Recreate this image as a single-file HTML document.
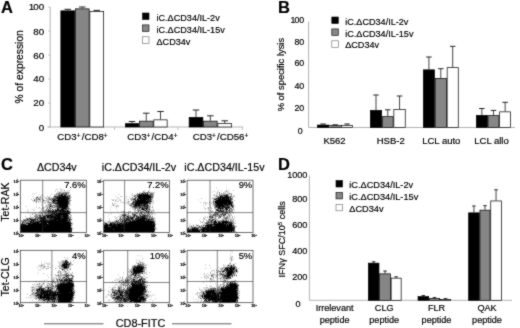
<!DOCTYPE html>
<html><head><meta charset="utf-8"><title>Figure</title>
<style>
html,body{margin:0;padding:0;background:#fff;}
body{width:520px;height:328px;overflow:hidden;font-family:"Liberation Sans",sans-serif;}
svg{display:block;will-change:transform;}
svg text{font-family:"Liberation Sans",sans-serif;fill:#000;stroke:#000;stroke-width:0.18px;}
</style></head><body>
<svg width="520" height="328" viewBox="0 0 520 328">
<defs><filter id="soft" x="-6" y="-6" width="532" height="340" filterUnits="userSpaceOnUse" color-interpolation-filters="sRGB"><feConvolveMatrix order="3" kernelMatrix="0.5 1 0.5 1 8 1 0.5 1 0.5" divisor="14" edgeMode="duplicate" preserveAlpha="true"/></filter></defs>
<rect width="520" height="328" fill="#fff"/>
<g filter="url(#soft)">
<rect x="-6" y="-6" width="532" height="340" fill="#fff"/>
<text x="1.0" y="12.7" font-size="16.5" text-anchor="start" font-weight="bold" >A</text>
<line x1="50.2" y1="7" x2="50.2" y2="127" stroke="#b4b4b4" stroke-width="1"/>
<line x1="47.5" y1="127" x2="243" y2="127" stroke="#b4b4b4" stroke-width="1"/>
<text x="44.2" y="10.4" font-size="9.8" text-anchor="end" font-weight="normal" ><tspan letter-spacing="-0.9">1</tspan>00</text>
<line x1="48.2" y1="7.099999999999994" x2="50.2" y2="7.099999999999994" stroke="#b4b4b4" stroke-width="0.8"/>
<text x="44.2" y="34.7" font-size="9.8" text-anchor="end" font-weight="normal" >80</text>
<line x1="48.2" y1="31.099999999999994" x2="50.2" y2="31.099999999999994" stroke="#b4b4b4" stroke-width="0.8"/>
<text x="44.2" y="58.7" font-size="9.8" text-anchor="end" font-weight="normal" >60</text>
<line x1="48.2" y1="55.099999999999994" x2="50.2" y2="55.099999999999994" stroke="#b4b4b4" stroke-width="0.8"/>
<text x="44.2" y="82.4" font-size="9.8" text-anchor="end" font-weight="normal" >40</text>
<line x1="48.2" y1="79.1" x2="50.2" y2="79.1" stroke="#b4b4b4" stroke-width="0.8"/>
<text x="44.2" y="106.3" font-size="9.8" text-anchor="end" font-weight="normal" >20</text>
<line x1="48.2" y1="103.1" x2="50.2" y2="103.1" stroke="#b4b4b4" stroke-width="0.8"/>
<text x="44.2" y="130.6" font-size="9.8" text-anchor="end" font-weight="normal" >0</text>
<line x1="48.2" y1="127.1" x2="50.2" y2="127.1" stroke="#b4b4b4" stroke-width="0.8"/>
<line x1="114.5" y1="127" x2="114.5" y2="130" stroke="#b4b4b4" stroke-width="0.8"/>
<line x1="178" y1="127" x2="178" y2="130" stroke="#b4b4b4" stroke-width="0.8"/>
<line x1="242.5" y1="127" x2="242.5" y2="130" stroke="#b4b4b4" stroke-width="0.8"/>
<text transform="translate(22.6,66.8) rotate(-90)" font-size="10.3" text-anchor="middle" >% of expression</text>
<line x1="67.75" y1="9.3" x2="67.75" y2="10.5" stroke="#222" stroke-width="0.85"/>
<line x1="64.5" y1="9.3" x2="71.0" y2="9.3" stroke="#222" stroke-width="1.0"/>
<rect x="60.85" y="10.85" width="13.80" height="116.15" fill="#000" stroke="#000" stroke-width="0.7"/>
<line x1="82.25" y1="7" x2="82.25" y2="8.5" stroke="#222" stroke-width="0.85"/>
<line x1="79.0" y1="7" x2="85.5" y2="7" stroke="#222" stroke-width="1.0"/>
<rect x="75.35" y="8.85" width="13.80" height="118.15" fill="#868686" stroke="#000" stroke-width="0.7"/>
<line x1="96.75" y1="10.4" x2="96.75" y2="11" stroke="#222" stroke-width="0.85"/>
<line x1="93.5" y1="10.4" x2="100.0" y2="10.4" stroke="#222" stroke-width="1.0"/>
<rect x="89.85" y="11.35" width="13.80" height="115.65" fill="#fff" stroke="#000" stroke-width="0.7"/>
<line x1="132.0" y1="121.5" x2="132.0" y2="123.3" stroke="#222" stroke-width="0.85"/>
<line x1="128.75" y1="121.5" x2="135.25" y2="121.5" stroke="#222" stroke-width="1.0"/>
<rect x="125.35" y="123.65" width="13.30" height="3.35" fill="#000" stroke="#000" stroke-width="0.7"/>
<line x1="146.25" y1="113.2" x2="146.25" y2="120.8" stroke="#222" stroke-width="0.85"/>
<line x1="143.0" y1="113.2" x2="149.5" y2="113.2" stroke="#222" stroke-width="1.0"/>
<rect x="139.35" y="121.15" width="13.80" height="5.85" fill="#868686" stroke="#000" stroke-width="0.7"/>
<line x1="160.5" y1="111.5" x2="160.5" y2="119.5" stroke="#222" stroke-width="0.85"/>
<line x1="157.25" y1="111.5" x2="163.75" y2="111.5" stroke="#222" stroke-width="1.0"/>
<rect x="153.85" y="119.85" width="13.30" height="7.15" fill="#fff" stroke="#000" stroke-width="0.7"/>
<line x1="196.0" y1="110" x2="196.0" y2="117" stroke="#222" stroke-width="0.85"/>
<line x1="192.75" y1="110" x2="199.25" y2="110" stroke="#222" stroke-width="1.0"/>
<rect x="189.15" y="117.35" width="13.70" height="9.65" fill="#000" stroke="#000" stroke-width="0.7"/>
<line x1="210.35" y1="115.8" x2="210.35" y2="120.8" stroke="#222" stroke-width="0.85"/>
<line x1="207.1" y1="115.8" x2="213.6" y2="115.8" stroke="#222" stroke-width="1.0"/>
<rect x="203.55" y="121.15" width="13.60" height="5.85" fill="#868686" stroke="#000" stroke-width="0.7"/>
<line x1="224.75" y1="120.8" x2="224.75" y2="123.3" stroke="#222" stroke-width="0.85"/>
<line x1="221.5" y1="120.8" x2="228.0" y2="120.8" stroke="#222" stroke-width="1.0"/>
<rect x="217.85" y="123.65" width="13.80" height="3.35" fill="#fff" stroke="#000" stroke-width="0.7"/>
<text x="82.5" y="140.3" font-size="9.7" text-anchor="middle">CD3<tspan font-size="6.5" dy="-2.8">+</tspan><tspan dy="2.8" dx="1.2">/CD8</tspan><tspan font-size="6.5" dy="-2.8">+</tspan></text>
<text x="152.3" y="140.3" font-size="9.7" text-anchor="middle">CD3<tspan font-size="6.5" dy="-2.8">+</tspan><tspan dy="2.8" dx="1.2">/CD4</tspan><tspan font-size="6.5" dy="-2.8">+</tspan></text>
<text x="220.5" y="140.3" font-size="9.7" text-anchor="middle">CD3<tspan font-size="6.5" dy="-2.8">+</tspan><tspan dy="2.8" dx="1.2">/CD56</tspan><tspan font-size="6.5" dy="-2.8">+</tspan></text>
<rect x="142.5" y="13.0" width="6.5" height="6.5" fill="#000" stroke="#000" stroke-width="0.6"/>
<text x="156.5" y="20.9" font-size="9.1" text-anchor="start" font-weight="normal" >iC.ΔCD34/IL-2v</text>
<rect x="142.5" y="24.9" width="6.5" height="6.5" fill="#868686" stroke="#000" stroke-width="0.6"/>
<text x="156.5" y="32.8" font-size="9.1" text-anchor="start" font-weight="normal" >iC.ΔCD34/IL-15v</text>
<rect x="142.5" y="36.8" width="6.5" height="6.5" fill="#fff" stroke="#666" stroke-width="0.6"/>
<text x="156.5" y="44.699999999999996" font-size="9.1" text-anchor="start" font-weight="normal" >ΔCD34v</text>
<text x="278.0" y="12.9" font-size="16.5" text-anchor="start" font-weight="bold" >B</text>
<line x1="308.6" y1="21.5" x2="308.6" y2="127.5" stroke="#909090" stroke-width="0.7"/>
<line x1="308.6" y1="127.5" x2="515" y2="127.5" stroke="#909090" stroke-width="0.7"/>
<text x="304.3" y="23.3" font-size="8.9" text-anchor="end" font-weight="normal" ><tspan letter-spacing="-0.9">1</tspan>00</text>
<text x="304.3" y="44.5" font-size="8.9" text-anchor="end" font-weight="normal" >80</text>
<text x="304.3" y="66.4" font-size="8.9" text-anchor="end" font-weight="normal" >60</text>
<text x="304.3" y="88.7" font-size="8.9" text-anchor="end" font-weight="normal" >40</text>
<text x="304.3" y="111.10000000000001" font-size="8.9" text-anchor="end" font-weight="normal" >20</text>
<text x="302.8" y="134.2" font-size="8.9" text-anchor="end" font-weight="normal" >0</text>
<text transform="translate(284.1,74.6) rotate(-90)" font-size="9.4" text-anchor="middle" >% of specific lysis</text>
<line x1="323.1" y1="124.0" x2="323.1" y2="124.7" stroke="#222" stroke-width="0.85"/>
<line x1="320.35" y1="124.0" x2="325.85" y2="124.0" stroke="#222" stroke-width="1.0"/>
<rect x="317.35" y="125.05" width="11.50" height="2.45" fill="#000" stroke="#000" stroke-width="0.7"/>
<line x1="335.2" y1="124.8" x2="335.2" y2="125.3" stroke="#222" stroke-width="0.85"/>
<line x1="332.45" y1="124.8" x2="337.95" y2="124.8" stroke="#222" stroke-width="1.0"/>
<rect x="329.55" y="125.65" width="11.30" height="1.85" fill="#868686" stroke="#000" stroke-width="0.7"/>
<line x1="347.1" y1="124.0" x2="347.1" y2="125.0" stroke="#222" stroke-width="0.85"/>
<line x1="344.35" y1="124.0" x2="349.85" y2="124.0" stroke="#222" stroke-width="1.0"/>
<rect x="341.55" y="125.35" width="11.10" height="2.15" fill="#fff" stroke="#000" stroke-width="0.7"/>
<line x1="376.0" y1="95" x2="376.0" y2="110" stroke="#222" stroke-width="0.85"/>
<line x1="373.25" y1="95" x2="378.75" y2="95" stroke="#222" stroke-width="1.0"/>
<rect x="370.35" y="110.35" width="11.30" height="17.15" fill="#000" stroke="#000" stroke-width="0.7"/>
<line x1="387.75" y1="109.8" x2="387.75" y2="116.3" stroke="#222" stroke-width="0.85"/>
<line x1="385.0" y1="109.8" x2="390.5" y2="109.8" stroke="#222" stroke-width="1.0"/>
<rect x="382.35" y="116.65" width="10.80" height="10.85" fill="#868686" stroke="#000" stroke-width="0.7"/>
<line x1="399.55" y1="96" x2="399.55" y2="109" stroke="#222" stroke-width="0.85"/>
<line x1="396.8" y1="96" x2="402.3" y2="96" stroke="#222" stroke-width="1.0"/>
<rect x="393.85" y="109.35" width="11.40" height="18.15" fill="#fff" stroke="#000" stroke-width="0.7"/>
<line x1="428.9" y1="57" x2="428.9" y2="69.5" stroke="#222" stroke-width="0.85"/>
<line x1="426.15" y1="57" x2="431.65" y2="57" stroke="#222" stroke-width="1.0"/>
<rect x="423.35" y="69.85" width="11.10" height="57.65" fill="#000" stroke="#000" stroke-width="0.7"/>
<line x1="440.8" y1="68.7" x2="440.8" y2="78" stroke="#222" stroke-width="0.85"/>
<line x1="438.05" y1="68.7" x2="443.55" y2="68.7" stroke="#222" stroke-width="1.0"/>
<rect x="435.15" y="78.35" width="11.30" height="49.15" fill="#868686" stroke="#000" stroke-width="0.7"/>
<line x1="452.70000000000005" y1="46.3" x2="452.70000000000005" y2="67.3" stroke="#222" stroke-width="0.85"/>
<line x1="449.95000000000005" y1="46.3" x2="455.45000000000005" y2="46.3" stroke="#222" stroke-width="1.0"/>
<rect x="447.15" y="67.65" width="11.10" height="59.85" fill="#fff" stroke="#000" stroke-width="0.7"/>
<line x1="481.85" y1="108.5" x2="481.85" y2="115" stroke="#222" stroke-width="0.85"/>
<line x1="479.1" y1="108.5" x2="484.6" y2="108.5" stroke="#222" stroke-width="1.0"/>
<rect x="476.35" y="115.35" width="11.00" height="12.15" fill="#000" stroke="#000" stroke-width="0.7"/>
<line x1="493.5" y1="110.4" x2="493.5" y2="115.3" stroke="#222" stroke-width="0.85"/>
<line x1="490.75" y1="110.4" x2="496.25" y2="110.4" stroke="#222" stroke-width="1.0"/>
<rect x="488.05" y="115.65" width="10.90" height="11.85" fill="#868686" stroke="#000" stroke-width="0.7"/>
<line x1="505.15" y1="102.3" x2="505.15" y2="111.5" stroke="#222" stroke-width="0.85"/>
<line x1="502.4" y1="102.3" x2="507.9" y2="102.3" stroke="#222" stroke-width="1.0"/>
<rect x="499.65" y="111.85" width="11.00" height="15.65" fill="#fff" stroke="#000" stroke-width="0.7"/>
<text x="334.5" y="143.9" font-size="9.5" text-anchor="middle" font-weight="normal" >K562</text>
<text x="390.7" y="143.9" font-size="9.5" text-anchor="middle" font-weight="normal" >HSB-2</text>
<text x="441.3" y="143.9" font-size="9.5" text-anchor="middle" font-weight="normal" >LCL auto</text>
<text x="491.5" y="143.9" font-size="9.5" text-anchor="middle" font-weight="normal" >LCL allo</text>
<rect x="331.8" y="17.0" width="6.5" height="6.5" fill="#000" stroke="#000" stroke-width="0.6"/>
<text x="345.2" y="24.6" font-size="9.1" text-anchor="start" font-weight="normal" >iC.ΔCD34/IL-2v</text>
<rect x="331.8" y="28.9" width="6.5" height="6.5" fill="#868686" stroke="#000" stroke-width="0.6"/>
<text x="345.2" y="36.5" font-size="9.1" text-anchor="start" font-weight="normal" >iC.ΔCD34/IL-15v</text>
<rect x="331.8" y="40.8" width="6.5" height="6.5" fill="#fff" stroke="#666" stroke-width="0.6"/>
<text x="345.2" y="48.4" font-size="9.1" text-anchor="start" font-weight="normal" >ΔCD34v</text>
<text x="278.0" y="170.4" font-size="16.5" text-anchor="start" font-weight="bold" >D</text>
<line x1="309.4" y1="175.3" x2="309.4" y2="300.3" stroke="#808080" stroke-width="0.6"/>
<line x1="309.4" y1="300.3" x2="512" y2="300.3" stroke="#808080" stroke-width="0.6"/>
<text x="307.4" y="178.1" font-size="9.1" text-anchor="end" font-weight="normal" >1000</text>
<text x="307.4" y="202.4" font-size="9.1" text-anchor="end" font-weight="normal" >800</text>
<text x="307.4" y="228.1" font-size="9.1" text-anchor="end" font-weight="normal" >600</text>
<text x="307.4" y="253.6" font-size="9.1" text-anchor="end" font-weight="normal" >400</text>
<text x="307.4" y="279.6" font-size="9.1" text-anchor="end" font-weight="normal" >200</text>
<text x="300.6" y="306.6" font-size="9.1" text-anchor="end" font-weight="normal" >0</text>
<text transform="translate(285.3,239.3) rotate(-90)" font-size="9.05" text-anchor="middle">IFNγ SFC/10<tspan font-size="6" dy="-3">5</tspan><tspan dy="3"> cells</tspan></text>
<line x1="373.65" y1="261.8" x2="373.65" y2="262.8" stroke="#222" stroke-width="0.85"/>
<line x1="371.9" y1="261.8" x2="375.4" y2="261.8" stroke="#222" stroke-width="1.0"/>
<rect x="368.35" y="263.15" width="10.60" height="37.15" fill="#000" stroke="#000" stroke-width="0.7"/>
<line x1="385.05" y1="271" x2="385.05" y2="273.5" stroke="#222" stroke-width="0.85"/>
<line x1="383.3" y1="271" x2="386.8" y2="271" stroke="#222" stroke-width="1.0"/>
<rect x="379.65" y="273.85" width="10.80" height="26.45" fill="#868686" stroke="#000" stroke-width="0.7"/>
<line x1="396.15" y1="276.8" x2="396.15" y2="277.8" stroke="#222" stroke-width="0.85"/>
<line x1="394.4" y1="276.8" x2="397.9" y2="276.8" stroke="#222" stroke-width="1.0"/>
<rect x="391.15" y="278.15" width="10.00" height="22.15" fill="#fff" stroke="#000" stroke-width="0.7"/>
<line x1="423.35" y1="295.6" x2="423.35" y2="296.3" stroke="#222" stroke-width="0.85"/>
<line x1="421.6" y1="295.6" x2="425.1" y2="295.6" stroke="#222" stroke-width="1.0"/>
<rect x="418.05" y="296.65" width="10.60" height="3.65" fill="#000" stroke="#000" stroke-width="0.7"/>
<line x1="434.5" y1="297.6" x2="434.5" y2="298.2" stroke="#222" stroke-width="0.85"/>
<line x1="432.75" y1="297.6" x2="436.25" y2="297.6" stroke="#222" stroke-width="1.0"/>
<rect x="429.35" y="298.55" width="10.30" height="1.75" fill="#868686" stroke="#000" stroke-width="0.7"/>
<line x1="445.5" y1="298.6" x2="445.5" y2="299" stroke="#222" stroke-width="0.85"/>
<line x1="443.75" y1="298.6" x2="447.25" y2="298.6" stroke="#222" stroke-width="1.0"/>
<rect x="440.35" y="299.35" width="10.30" height="0.95" fill="#fff" stroke="#000" stroke-width="0.7"/>
<line x1="473.95000000000005" y1="206" x2="473.95000000000005" y2="212.5" stroke="#222" stroke-width="0.85"/>
<line x1="472.20000000000005" y1="206" x2="475.70000000000005" y2="206" stroke="#222" stroke-width="1.0"/>
<rect x="468.65" y="212.85" width="10.60" height="87.45" fill="#000" stroke="#000" stroke-width="0.7"/>
<line x1="485.0" y1="205.7" x2="485.0" y2="209.8" stroke="#222" stroke-width="0.85"/>
<line x1="483.25" y1="205.7" x2="486.75" y2="205.7" stroke="#222" stroke-width="1.0"/>
<rect x="479.95" y="210.15" width="10.10" height="90.15" fill="#868686" stroke="#000" stroke-width="0.7"/>
<line x1="496.04999999999995" y1="189.8" x2="496.04999999999995" y2="200.6" stroke="#222" stroke-width="0.85"/>
<line x1="494.29999999999995" y1="189.8" x2="497.79999999999995" y2="189.8" stroke="#222" stroke-width="1.0"/>
<rect x="490.75" y="200.95" width="10.60" height="99.35" fill="#fff" stroke="#000" stroke-width="0.7"/>
<text x="334.6" y="311.3" font-size="9.1" text-anchor="middle" font-weight="normal" >Irrelevant</text>
<text x="334.6" y="323" font-size="9.1" text-anchor="middle" font-weight="normal" >peptide</text>
<text x="384.2" y="311.3" font-size="9.1" text-anchor="middle" font-weight="normal" >CLG</text>
<text x="384.2" y="323" font-size="9.1" text-anchor="middle" font-weight="normal" >peptide</text>
<text x="436.5" y="311.3" font-size="9.1" text-anchor="middle" font-weight="normal" >FLR</text>
<text x="436.5" y="323" font-size="9.1" text-anchor="middle" font-weight="normal" >peptide</text>
<text x="487" y="311.3" font-size="9.1" text-anchor="middle" font-weight="normal" >QAK</text>
<text x="487" y="323" font-size="9.1" text-anchor="middle" font-weight="normal" >peptide</text>
<rect x="336" y="180.5" width="6.5" height="6.5" fill="#000" stroke="#000" stroke-width="0.6"/>
<text x="349.3" y="188.1" font-size="9.2" text-anchor="start" font-weight="normal" >iC.ΔCD34/IL-2v</text>
<rect x="336" y="192.4" width="6.5" height="6.5" fill="#868686" stroke="#000" stroke-width="0.6"/>
<text x="349.3" y="200.0" font-size="9.2" text-anchor="start" font-weight="normal" >iC.ΔCD34/IL-15v</text>
<rect x="336" y="204.3" width="6.5" height="6.5" fill="#fff" stroke="#666" stroke-width="0.6"/>
<text x="349.3" y="211.9" font-size="9.2" text-anchor="start" font-weight="normal" >ΔCD34v</text>
<text x="0.9" y="170.2" font-size="16.5" text-anchor="start" font-weight="bold" >C</text>
<text x="56.8" y="171.3" font-size="10.7" text-anchor="middle" font-weight="normal" >ΔCD34v</text>
<text x="101.8" y="171.3" font-size="10.7" text-anchor="start" font-weight="normal" >iC.ΔCD34/IL-2v</text>
<text x="184.3" y="171.3" font-size="10.7" text-anchor="start" font-weight="normal" >iC.ΔCD34/IL-15v</text>
<text transform="translate(9.2,202.1) rotate(-90)" font-size="10.5" text-anchor="middle" >Tet-RAK</text>
<text transform="translate(9.2,276.9) rotate(-90)" font-size="10.5" text-anchor="middle" >Tet-CLG</text>
<text x="140.5" y="327.3" font-size="10.9" text-anchor="middle" font-weight="normal" >CD8-FITC</text>
<line x1="44" y1="323.8" x2="103.5" y2="323.8" stroke="#333" stroke-width="0.8"/>
<line x1="172" y1="323.8" x2="231.5" y2="323.8" stroke="#333" stroke-width="0.8"/>
<path d="M59.8 188.2h0.5v0.5h-0.5zM55.8 189.2h0.5v0.5h-0.5zM57.3 189.2h0.5v0.5h-0.5zM61.3 189.2h0.5v0.5h-0.5zM60.3 189.7h0.5v0.5h-0.5zM62.8 189.7h0.5v0.5h-0.5zM64.3 190.2h0.5v0.5h-0.5zM68.8 190.2h0.5v0.5h-0.5zM60.8 190.7h0.5v0.5h-0.5zM61.8 190.7h0.5v0.5h-0.5zM64.3 190.7h0.5v0.5h-0.5zM66.8 190.7h0.5v0.5h-0.5zM69.3 190.7h0.5v0.5h-0.5zM55.3 191.2h0.5v0.5h-0.5zM57.8 191.2h0.5v0.5h-0.5zM57.8 191.7h0.5v0.5h-0.5zM60.3 191.7h0.5v0.5h-0.5zM62.8 191.7h0.5v0.5h-0.5zM65.3 191.7h0.5v0.5h-0.5zM67.3 191.7h0.5v0.5h-0.5zM59.3 192.2h1.0v0.5h-1.0zM61.3 192.2h0.5v0.5h-0.5zM63.3 192.2h0.5v0.5h-0.5zM64.3 192.2h1.0v0.5h-1.0zM66.3 192.2h0.5v0.5h-0.5zM67.8 192.2h0.5v0.5h-0.5zM68.8 192.2h0.5v0.5h-0.5zM35.8 192.7h0.5v0.5h-0.5zM57.3 192.7h0.5v0.5h-0.5zM58.3 192.7h0.5v0.5h-0.5zM59.3 192.7h1.0v0.5h-1.0zM62.3 192.7h1.0v0.5h-1.0zM64.8 192.7h1.0v0.5h-1.0zM66.3 192.7h1.0v0.5h-1.0zM68.3 192.7h1.0v0.5h-1.0zM56.3 193.2h0.5v0.5h-0.5zM59.3 193.2h0.5v0.5h-0.5zM60.8 193.2h0.5v0.5h-0.5zM61.8 193.2h0.5v0.5h-0.5zM62.8 193.2h0.5v0.5h-0.5zM63.8 193.2h0.5v0.5h-0.5zM65.8 193.2h1.0v0.5h-1.0zM67.3 193.2h0.5v0.5h-0.5zM32.3 193.7h0.5v0.5h-0.5zM33.8 193.7h0.5v0.5h-0.5zM51.3 193.7h0.5v0.5h-0.5zM56.3 193.7h1.0v0.5h-1.0zM57.8 193.7h2.0v0.5h-2.0zM60.3 193.7h6.5v0.5h-6.5zM67.3 193.7h1.5v0.5h-1.5zM42.3 194.2h0.5v0.5h-0.5zM54.8 194.2h0.5v0.5h-0.5zM56.3 194.2h0.5v0.5h-0.5zM57.8 194.2h0.5v0.5h-0.5zM58.8 194.2h0.5v0.5h-0.5zM60.8 194.2h1.0v0.5h-1.0zM62.3 194.2h0.5v0.5h-0.5zM63.3 194.2h2.0v0.5h-2.0zM65.8 194.2h1.0v0.5h-1.0zM53.8 194.7h0.5v0.5h-0.5zM55.3 194.7h0.5v0.5h-0.5zM57.8 194.7h1.0v0.5h-1.0zM59.3 194.7h0.5v0.5h-0.5zM60.3 194.7h2.5v0.5h-2.5zM65.3 194.7h1.0v0.5h-1.0zM69.3 194.7h0.5v0.5h-0.5zM70.3 194.7h0.5v0.5h-0.5zM40.8 195.2h0.5v0.5h-0.5zM55.8 195.2h0.5v0.5h-0.5zM57.8 195.2h0.5v0.5h-0.5zM58.8 195.2h4.5v0.5h-4.5zM63.8 195.2h3.0v0.5h-3.0zM67.8 195.2h1.0v0.5h-1.0zM69.3 195.2h1.0v0.5h-1.0zM42.8 195.7h0.5v0.5h-0.5zM49.8 195.7h0.5v0.5h-0.5zM54.3 195.7h0.5v0.5h-0.5zM55.3 195.7h0.5v0.5h-0.5zM56.3 195.7h0.5v0.5h-0.5zM57.3 195.7h1.0v0.5h-1.0zM58.8 195.7h1.5v0.5h-1.5zM60.8 195.7h5.5v0.5h-5.5zM66.8 195.7h2.0v0.5h-2.0zM69.3 195.7h0.5v0.5h-0.5zM32.8 196.2h0.5v0.5h-0.5zM40.8 196.2h0.5v0.5h-0.5zM47.3 196.2h0.5v0.5h-0.5zM53.8 196.2h4.0v0.5h-4.0zM58.3 196.2h8.0v0.5h-8.0zM66.8 196.2h1.0v0.5h-1.0zM68.3 196.2h0.5v0.5h-0.5zM69.3 196.2h1.0v0.5h-1.0zM37.3 196.7h1.0v0.5h-1.0zM39.8 196.7h0.5v0.5h-0.5zM49.3 196.7h0.5v0.5h-0.5zM53.8 196.7h1.0v0.5h-1.0zM55.3 196.7h1.0v0.5h-1.0zM57.3 196.7h3.5v0.5h-3.5zM61.3 196.7h7.0v0.5h-7.0zM68.8 196.7h1.5v0.5h-1.5zM36.3 197.2h2.0v0.5h-2.0zM40.3 197.2h1.0v0.5h-1.0zM44.3 197.2h0.5v0.5h-0.5zM48.3 197.2h0.5v0.5h-0.5zM49.3 197.2h0.5v0.5h-0.5zM53.3 197.2h0.5v0.5h-0.5zM55.3 197.2h12.5v0.5h-12.5zM68.3 197.2h0.5v0.5h-0.5zM70.8 197.2h0.5v0.5h-0.5zM35.8 197.7h0.5v0.5h-0.5zM36.8 197.7h0.5v0.5h-0.5zM39.3 197.7h0.5v0.5h-0.5zM45.3 197.7h0.5v0.5h-0.5zM46.3 197.7h0.5v0.5h-0.5zM47.8 197.7h0.5v0.5h-0.5zM51.3 197.7h1.0v0.5h-1.0zM53.3 197.7h1.5v0.5h-1.5zM55.8 197.7h0.5v0.5h-0.5zM56.8 197.7h13.0v0.5h-13.0zM70.3 197.7h0.5v0.5h-0.5zM33.3 198.2h0.5v0.5h-0.5zM35.8 198.2h1.0v0.5h-1.0zM38.3 198.2h0.5v0.5h-0.5zM39.8 198.2h0.5v0.5h-0.5zM41.8 198.2h0.5v0.5h-0.5zM46.3 198.2h0.5v0.5h-0.5zM47.8 198.2h0.5v0.5h-0.5zM48.8 198.2h1.5v0.5h-1.5zM50.8 198.2h0.5v0.5h-0.5zM52.3 198.2h0.5v0.5h-0.5zM53.3 198.2h0.5v0.5h-0.5zM54.3 198.2h11.5v0.5h-11.5zM66.3 198.2h4.0v0.5h-4.0zM36.8 198.7h0.5v0.5h-0.5zM38.3 198.7h0.5v0.5h-0.5zM39.3 198.7h1.0v0.5h-1.0zM50.3 198.7h0.5v0.5h-0.5zM51.8 198.7h1.0v0.5h-1.0zM53.3 198.7h0.5v0.5h-0.5zM54.3 198.7h1.0v0.5h-1.0zM55.8 198.7h1.0v0.5h-1.0zM57.3 198.7h0.5v0.5h-0.5zM58.3 198.7h10.5v0.5h-10.5zM31.3 199.2h0.5v0.5h-0.5zM34.3 199.2h0.5v0.5h-0.5zM35.8 199.2h1.5v0.5h-1.5zM38.3 199.2h0.5v0.5h-0.5zM39.3 199.2h1.0v0.5h-1.0zM41.8 199.2h0.5v0.5h-0.5zM42.8 199.2h0.5v0.5h-0.5zM46.8 199.2h0.5v0.5h-0.5zM48.3 199.2h1.5v0.5h-1.5zM50.3 199.2h1.0v0.5h-1.0zM52.3 199.2h1.5v0.5h-1.5zM54.3 199.2h1.5v0.5h-1.5zM56.8 199.2h11.5v0.5h-11.5zM68.8 199.2h1.0v0.5h-1.0zM34.3 199.7h1.0v0.5h-1.0zM37.8 199.7h0.5v0.5h-0.5zM38.8 199.7h0.5v0.5h-0.5zM40.3 199.7h0.5v0.5h-0.5zM42.8 199.7h0.5v0.5h-0.5zM47.3 199.7h0.5v0.5h-0.5zM49.8 199.7h0.5v0.5h-0.5zM51.3 199.7h1.0v0.5h-1.0zM52.8 199.7h15.0v0.5h-15.0zM68.3 199.7h1.0v0.5h-1.0zM69.8 199.7h0.5v0.5h-0.5zM32.3 200.2h0.5v0.5h-0.5zM33.8 200.2h1.0v0.5h-1.0zM36.3 200.2h0.5v0.5h-0.5zM39.8 200.2h0.5v0.5h-0.5zM43.3 200.2h1.5v0.5h-1.5zM45.8 200.2h0.5v0.5h-0.5zM47.8 200.2h0.5v0.5h-0.5zM49.8 200.2h0.5v0.5h-0.5zM51.3 200.2h0.5v0.5h-0.5zM52.8 200.2h15.5v0.5h-15.5zM68.8 200.2h1.0v0.5h-1.0zM70.3 200.2h1.0v0.5h-1.0zM33.8 200.7h0.5v0.5h-0.5zM35.3 200.7h0.5v0.5h-0.5zM36.3 200.7h1.0v0.5h-1.0zM42.8 200.7h0.5v0.5h-0.5zM45.8 200.7h0.5v0.5h-0.5zM48.3 200.7h0.5v0.5h-0.5zM51.8 200.7h3.0v0.5h-3.0zM55.8 200.7h12.5v0.5h-12.5zM33.8 201.2h0.5v0.5h-0.5zM36.3 201.2h0.5v0.5h-0.5zM38.3 201.2h0.5v0.5h-0.5zM39.8 201.2h0.5v0.5h-0.5zM43.3 201.2h0.5v0.5h-0.5zM45.8 201.2h0.5v0.5h-0.5zM46.8 201.2h0.5v0.5h-0.5zM48.3 201.2h0.5v0.5h-0.5zM51.8 201.2h1.0v0.5h-1.0zM53.3 201.2h2.5v0.5h-2.5zM56.3 201.2h0.5v0.5h-0.5zM57.3 201.2h12.5v0.5h-12.5zM36.3 201.7h0.5v0.5h-0.5zM39.8 201.7h0.5v0.5h-0.5zM41.8 201.7h0.5v0.5h-0.5zM48.8 201.7h0.5v0.5h-0.5zM49.8 201.7h0.5v0.5h-0.5zM52.8 201.7h1.5v0.5h-1.5zM54.8 201.7h1.5v0.5h-1.5zM57.3 201.7h11.5v0.5h-11.5zM69.3 201.7h1.0v0.5h-1.0zM35.8 202.2h0.5v0.5h-0.5zM38.3 202.2h0.5v0.5h-0.5zM41.8 202.2h0.5v0.5h-0.5zM47.3 202.2h1.5v0.5h-1.5zM49.8 202.2h0.5v0.5h-0.5zM50.8 202.2h0.5v0.5h-0.5zM51.8 202.2h0.5v0.5h-0.5zM52.8 202.2h1.0v0.5h-1.0zM54.3 202.2h1.0v0.5h-1.0zM56.3 202.2h11.5v0.5h-11.5zM68.3 202.2h0.5v0.5h-0.5zM44.3 202.7h1.5v0.5h-1.5zM48.8 202.7h1.0v0.5h-1.0zM50.3 202.7h1.0v0.5h-1.0zM52.3 202.7h2.0v0.5h-2.0zM54.8 202.7h15.0v0.5h-15.0zM52.3 203.2h0.5v0.5h-0.5zM53.8 203.2h2.5v0.5h-2.5zM56.8 203.2h12.5v0.5h-12.5zM36.3 203.7h0.5v0.5h-0.5zM47.8 203.7h0.5v0.5h-0.5zM49.3 203.7h0.5v0.5h-0.5zM50.3 203.7h2.0v0.5h-2.0zM53.8 203.7h0.5v0.5h-0.5zM55.8 203.7h2.0v0.5h-2.0zM58.3 203.7h10.0v0.5h-10.0zM69.8 203.7h0.5v0.5h-0.5zM48.3 204.2h0.5v0.5h-0.5zM49.3 204.2h0.5v0.5h-0.5zM50.3 204.2h0.5v0.5h-0.5zM55.3 204.2h1.0v0.5h-1.0zM56.8 204.2h1.0v0.5h-1.0zM58.3 204.2h9.5v0.5h-9.5zM68.3 204.2h0.5v0.5h-0.5zM69.3 204.2h0.5v0.5h-0.5zM41.3 204.7h0.5v0.5h-0.5zM46.8 204.7h0.5v0.5h-0.5zM48.3 204.7h0.5v0.5h-0.5zM49.8 204.7h1.5v0.5h-1.5zM53.3 204.7h0.5v0.5h-0.5zM55.8 204.7h1.0v0.5h-1.0zM57.3 204.7h11.0v0.5h-11.0zM70.3 204.7h0.5v0.5h-0.5zM46.3 205.2h0.5v0.5h-0.5zM48.8 205.2h0.5v0.5h-0.5zM49.8 205.2h0.5v0.5h-0.5zM50.8 205.2h0.5v0.5h-0.5zM52.3 205.2h0.5v0.5h-0.5zM53.3 205.2h1.5v0.5h-1.5zM55.3 205.2h0.5v0.5h-0.5zM56.8 205.2h11.5v0.5h-11.5zM69.3 205.2h0.5v0.5h-0.5zM46.8 205.7h0.5v0.5h-0.5zM48.8 205.7h0.5v0.5h-0.5zM50.3 205.7h2.0v0.5h-2.0zM53.8 205.7h1.0v0.5h-1.0zM55.3 205.7h0.5v0.5h-0.5zM56.3 205.7h0.5v0.5h-0.5zM57.8 205.7h0.5v0.5h-0.5zM58.8 205.7h9.0v0.5h-9.0zM25.8 206.2h0.5v0.5h-0.5zM45.8 206.2h0.5v0.5h-0.5zM46.8 206.2h0.5v0.5h-0.5zM48.8 206.2h0.5v0.5h-0.5zM49.8 206.2h1.5v0.5h-1.5zM51.8 206.2h1.0v0.5h-1.0zM54.8 206.2h0.5v0.5h-0.5zM55.8 206.2h3.0v0.5h-3.0zM59.3 206.2h9.5v0.5h-9.5zM36.3 206.7h0.5v0.5h-0.5zM45.3 206.7h0.5v0.5h-0.5zM48.8 206.7h1.0v0.5h-1.0zM50.3 206.7h1.0v0.5h-1.0zM51.8 206.7h0.5v0.5h-0.5zM52.8 206.7h0.5v0.5h-0.5zM54.3 206.7h0.5v0.5h-0.5zM55.8 206.7h0.5v0.5h-0.5zM56.8 206.7h11.0v0.5h-11.0zM68.8 206.7h0.5v0.5h-0.5zM39.3 207.2h0.5v0.5h-0.5zM42.8 207.2h1.0v0.5h-1.0zM46.8 207.2h1.0v0.5h-1.0zM48.8 207.2h1.0v0.5h-1.0zM52.3 207.2h0.5v0.5h-0.5zM53.3 207.2h0.5v0.5h-0.5zM54.3 207.2h0.5v0.5h-0.5zM55.3 207.2h0.5v0.5h-0.5zM56.8 207.2h1.0v0.5h-1.0zM58.3 207.2h8.5v0.5h-8.5zM67.3 207.2h0.5v0.5h-0.5zM68.3 207.2h0.5v0.5h-0.5zM44.3 207.7h0.5v0.5h-0.5zM47.8 207.7h0.5v0.5h-0.5zM49.8 207.7h0.5v0.5h-0.5zM51.3 207.7h0.5v0.5h-0.5zM52.8 207.7h0.5v0.5h-0.5zM53.8 207.7h0.5v0.5h-0.5zM54.8 207.7h0.5v0.5h-0.5zM56.3 207.7h0.5v0.5h-0.5zM57.3 207.7h0.5v0.5h-0.5zM58.3 207.7h1.0v0.5h-1.0zM59.8 207.7h1.0v0.5h-1.0zM61.3 207.7h7.0v0.5h-7.0zM68.8 207.7h0.5v0.5h-0.5zM38.3 208.2h0.5v0.5h-0.5zM40.8 208.2h0.5v0.5h-0.5zM42.3 208.2h1.0v0.5h-1.0zM46.8 208.2h1.0v0.5h-1.0zM48.8 208.2h1.0v0.5h-1.0zM50.3 208.2h1.0v0.5h-1.0zM55.8 208.2h0.5v0.5h-0.5zM57.3 208.2h3.0v0.5h-3.0zM61.3 208.2h5.0v0.5h-5.0zM66.8 208.2h0.5v0.5h-0.5zM67.8 208.2h1.5v0.5h-1.5zM33.8 208.7h0.5v0.5h-0.5zM43.3 208.7h0.5v0.5h-0.5zM46.3 208.7h0.5v0.5h-0.5zM49.8 208.7h0.5v0.5h-0.5zM51.8 208.7h0.5v0.5h-0.5zM56.8 208.7h2.0v0.5h-2.0zM60.3 208.7h6.5v0.5h-6.5zM67.3 208.7h0.5v0.5h-0.5zM68.8 208.7h0.5v0.5h-0.5zM70.3 208.7h0.5v0.5h-0.5zM31.8 209.2h0.5v0.5h-0.5zM46.3 209.2h0.5v0.5h-0.5zM47.8 209.2h1.5v0.5h-1.5zM50.3 209.2h0.5v0.5h-0.5zM51.8 209.2h1.5v0.5h-1.5zM54.8 209.2h1.5v0.5h-1.5zM56.8 209.2h2.5v0.5h-2.5zM59.8 209.2h0.5v0.5h-0.5zM60.8 209.2h3.5v0.5h-3.5zM64.8 209.2h2.0v0.5h-2.0zM67.8 209.2h0.5v0.5h-0.5zM68.8 209.2h0.5v0.5h-0.5zM69.8 209.2h0.5v0.5h-0.5zM27.8 209.7h0.5v0.5h-0.5zM41.3 209.7h0.5v0.5h-0.5zM43.3 209.7h0.5v0.5h-0.5zM46.3 209.7h1.0v0.5h-1.0zM48.3 209.7h0.5v0.5h-0.5zM49.3 209.7h0.5v0.5h-0.5zM50.3 209.7h0.5v0.5h-0.5zM52.3 209.7h1.0v0.5h-1.0zM54.3 209.7h0.5v0.5h-0.5zM55.3 209.7h1.0v0.5h-1.0zM56.8 209.7h8.0v0.5h-8.0zM65.8 209.7h2.5v0.5h-2.5zM33.8 210.2h0.5v0.5h-0.5zM43.8 210.2h0.5v0.5h-0.5zM45.3 210.2h1.0v0.5h-1.0zM47.3 210.2h0.5v0.5h-0.5zM48.3 210.2h1.5v0.5h-1.5zM50.3 210.2h1.5v0.5h-1.5zM52.8 210.2h1.5v0.5h-1.5zM54.8 210.2h9.0v0.5h-9.0zM64.3 210.2h1.5v0.5h-1.5zM66.8 210.2h1.5v0.5h-1.5zM68.8 210.2h0.5v0.5h-0.5zM27.3 210.7h0.5v0.5h-0.5zM39.8 210.7h0.5v0.5h-0.5zM40.8 210.7h0.5v0.5h-0.5zM42.8 210.7h0.5v0.5h-0.5zM44.8 210.7h0.5v0.5h-0.5zM45.8 210.7h1.0v0.5h-1.0zM47.8 210.7h3.0v0.5h-3.0zM51.8 210.7h2.0v0.5h-2.0zM54.8 210.7h3.5v0.5h-3.5zM58.8 210.7h2.5v0.5h-2.5zM61.8 210.7h7.0v0.5h-7.0zM69.8 210.7h1.0v0.5h-1.0zM43.3 211.2h0.5v0.5h-0.5zM44.3 211.2h0.5v0.5h-0.5zM46.8 211.2h2.0v0.5h-2.0zM49.3 211.2h1.5v0.5h-1.5zM51.3 211.2h6.0v0.5h-6.0zM57.8 211.2h1.0v0.5h-1.0zM59.3 211.2h7.0v0.5h-7.0zM66.8 211.2h3.0v0.5h-3.0zM40.3 211.7h0.5v0.5h-0.5zM44.3 211.7h1.5v0.5h-1.5zM47.3 211.7h1.5v0.5h-1.5zM49.3 211.7h5.5v0.5h-5.5zM55.3 211.7h1.5v0.5h-1.5zM57.3 211.7h2.0v0.5h-2.0zM59.8 211.7h10.0v0.5h-10.0zM34.3 212.2h0.5v0.5h-0.5zM38.8 212.2h1.0v0.5h-1.0zM41.3 212.2h1.5v0.5h-1.5zM45.3 212.2h1.5v0.5h-1.5zM47.8 212.2h1.5v0.5h-1.5zM49.8 212.2h1.0v0.5h-1.0zM51.3 212.2h0.5v0.5h-0.5zM52.3 212.2h5.0v0.5h-5.0zM57.8 212.2h13.0v0.5h-13.0zM27.8 212.7h0.5v0.5h-0.5zM39.8 212.7h0.5v0.5h-0.5zM43.8 212.7h1.5v0.5h-1.5zM45.8 212.7h1.0v0.5h-1.0zM48.3 212.7h0.5v0.5h-0.5zM49.3 212.7h0.5v0.5h-0.5zM50.3 212.7h3.0v0.5h-3.0zM53.8 212.7h4.0v0.5h-4.0zM58.3 212.7h12.5v0.5h-12.5zM33.8 213.2h0.5v0.5h-0.5zM35.3 213.2h0.5v0.5h-0.5zM38.3 213.2h0.5v0.5h-0.5zM40.8 213.2h0.5v0.5h-0.5zM41.8 213.2h1.0v0.5h-1.0zM45.3 213.2h0.5v0.5h-0.5zM47.3 213.2h0.5v0.5h-0.5zM48.3 213.2h2.0v0.5h-2.0zM51.8 213.2h3.5v0.5h-3.5zM55.8 213.2h13.5v0.5h-13.5zM30.3 213.7h0.5v0.5h-0.5zM32.3 213.7h1.0v0.5h-1.0zM36.8 213.7h0.5v0.5h-0.5zM39.3 213.7h0.5v0.5h-0.5zM40.8 213.7h0.5v0.5h-0.5zM44.3 213.7h0.5v0.5h-0.5zM45.3 213.7h0.5v0.5h-0.5zM46.3 213.7h1.5v0.5h-1.5zM48.3 213.7h1.0v0.5h-1.0zM49.8 213.7h3.0v0.5h-3.0zM53.3 213.7h2.5v0.5h-2.5zM56.3 213.7h1.0v0.5h-1.0zM57.8 213.7h12.5v0.5h-12.5zM31.8 214.2h0.5v0.5h-0.5zM36.3 214.2h0.5v0.5h-0.5zM40.3 214.2h0.5v0.5h-0.5zM45.8 214.2h0.5v0.5h-0.5zM46.8 214.2h0.5v0.5h-0.5zM47.8 214.2h0.5v0.5h-0.5zM48.8 214.2h0.5v0.5h-0.5zM50.8 214.2h2.0v0.5h-2.0zM53.3 214.2h0.5v0.5h-0.5zM54.3 214.2h13.5v0.5h-13.5zM69.3 214.2h0.5v0.5h-0.5zM34.8 214.7h2.5v0.5h-2.5zM38.3 214.7h1.5v0.5h-1.5zM40.3 214.7h0.5v0.5h-0.5zM41.3 214.7h0.5v0.5h-0.5zM42.3 214.7h1.0v0.5h-1.0zM43.8 214.7h0.5v0.5h-0.5zM44.8 214.7h1.0v0.5h-1.0zM46.3 214.7h0.5v0.5h-0.5zM47.3 214.7h0.5v0.5h-0.5zM48.3 214.7h20.0v0.5h-20.0zM68.8 214.7h0.5v0.5h-0.5zM70.3 214.7h0.5v0.5h-0.5zM33.8 215.2h0.5v0.5h-0.5zM37.3 215.2h0.5v0.5h-0.5zM38.3 215.2h0.5v0.5h-0.5zM39.3 215.2h1.5v0.5h-1.5zM41.8 215.2h1.0v0.5h-1.0zM43.8 215.2h0.5v0.5h-0.5zM44.8 215.2h0.5v0.5h-0.5zM45.8 215.2h6.0v0.5h-6.0zM52.3 215.2h2.5v0.5h-2.5zM55.3 215.2h7.0v0.5h-7.0zM62.8 215.2h6.0v0.5h-6.0zM71.3 215.2h0.5v0.5h-0.5zM29.8 215.7h0.5v0.5h-0.5zM35.3 215.7h0.5v0.5h-0.5zM36.3 215.7h0.5v0.5h-0.5zM39.3 215.7h0.5v0.5h-0.5zM40.3 215.7h0.5v0.5h-0.5zM41.3 215.7h0.5v0.5h-0.5zM43.3 215.7h1.5v0.5h-1.5zM45.3 215.7h8.0v0.5h-8.0zM54.3 215.7h5.5v0.5h-5.5zM60.3 215.7h1.0v0.5h-1.0zM61.8 215.7h6.5v0.5h-6.5zM70.3 215.7h0.5v0.5h-0.5zM25.3 216.2h0.5v0.5h-0.5zM34.3 216.2h1.0v0.5h-1.0zM36.8 216.2h1.0v0.5h-1.0zM39.3 216.2h2.0v0.5h-2.0zM42.8 216.2h3.5v0.5h-3.5zM46.8 216.2h23.0v0.5h-23.0zM70.8 216.2h0.5v0.5h-0.5zM30.3 216.7h0.5v0.5h-0.5zM31.8 216.7h0.5v0.5h-0.5zM34.8 216.7h2.0v0.5h-2.0zM37.3 216.7h0.5v0.5h-0.5zM38.3 216.7h1.0v0.5h-1.0zM39.8 216.7h0.5v0.5h-0.5zM40.8 216.7h0.5v0.5h-0.5zM41.8 216.7h0.5v0.5h-0.5zM42.8 216.7h0.5v0.5h-0.5zM43.8 216.7h1.5v0.5h-1.5zM46.3 216.7h3.0v0.5h-3.0zM49.8 216.7h0.5v0.5h-0.5zM50.8 216.7h5.0v0.5h-5.0zM56.3 216.7h6.0v0.5h-6.0zM62.8 216.7h4.5v0.5h-4.5zM67.8 216.7h0.5v0.5h-0.5zM32.3 217.2h0.5v0.5h-0.5zM33.3 217.2h0.5v0.5h-0.5zM36.3 217.2h1.5v0.5h-1.5zM38.3 217.2h7.5v0.5h-7.5zM46.8 217.2h14.5v0.5h-14.5zM61.8 217.2h1.0v0.5h-1.0zM63.3 217.2h6.0v0.5h-6.0zM69.8 217.2h1.5v0.5h-1.5zM26.8 217.7h0.5v0.5h-0.5zM29.3 217.7h0.5v0.5h-0.5zM30.3 217.7h0.5v0.5h-0.5zM31.3 217.7h0.5v0.5h-0.5zM34.8 217.7h1.0v0.5h-1.0zM38.8 217.7h0.5v0.5h-0.5zM39.8 217.7h9.0v0.5h-9.0zM49.3 217.7h19.5v0.5h-19.5zM69.3 217.7h0.5v0.5h-0.5zM26.3 218.2h1.0v0.5h-1.0zM28.3 218.2h2.0v0.5h-2.0zM31.8 218.2h0.5v0.5h-0.5zM33.8 218.2h0.5v0.5h-0.5zM35.3 218.2h1.0v0.5h-1.0zM36.8 218.2h1.0v0.5h-1.0zM38.3 218.2h1.0v0.5h-1.0zM39.8 218.2h6.5v0.5h-6.5zM47.3 218.2h0.5v0.5h-0.5zM48.3 218.2h2.5v0.5h-2.5zM51.3 218.2h1.0v0.5h-1.0zM52.8 218.2h0.5v0.5h-0.5zM53.8 218.2h15.5v0.5h-15.5zM70.3 218.2h0.5v0.5h-0.5zM24.8 218.7h0.5v0.5h-0.5zM26.8 218.7h1.0v0.5h-1.0zM28.8 218.7h4.0v0.5h-4.0zM33.8 218.7h1.0v0.5h-1.0zM35.3 218.7h1.0v0.5h-1.0zM36.8 218.7h3.5v0.5h-3.5zM40.8 218.7h3.5v0.5h-3.5zM44.8 218.7h1.5v0.5h-1.5zM46.8 218.7h0.5v0.5h-0.5zM47.8 218.7h0.5v0.5h-0.5zM48.8 218.7h1.0v0.5h-1.0zM50.3 218.7h11.0v0.5h-11.0zM61.8 218.7h6.0v0.5h-6.0zM68.3 218.7h2.5v0.5h-2.5zM71.8 218.7h0.5v0.5h-0.5zM22.8 219.2h0.5v0.5h-0.5zM25.8 219.2h0.5v0.5h-0.5zM26.8 219.2h2.0v0.5h-2.0zM29.8 219.2h6.0v0.5h-6.0zM36.3 219.2h0.5v0.5h-0.5zM37.3 219.2h1.0v0.5h-1.0zM39.3 219.2h2.0v0.5h-2.0zM41.8 219.2h4.0v0.5h-4.0zM46.3 219.2h1.0v0.5h-1.0zM47.8 219.2h0.5v0.5h-0.5zM48.8 219.2h0.5v0.5h-0.5zM49.8 219.2h1.5v0.5h-1.5zM51.8 219.2h16.0v0.5h-16.0zM68.8 219.2h2.0v0.5h-2.0zM71.3 219.2h0.5v0.5h-0.5zM23.3 219.7h2.0v0.5h-2.0zM25.8 219.7h0.5v0.5h-0.5zM26.8 219.7h1.0v0.5h-1.0zM29.8 219.7h0.5v0.5h-0.5zM30.8 219.7h1.0v0.5h-1.0zM32.3 219.7h1.5v0.5h-1.5zM34.3 219.7h3.5v0.5h-3.5zM40.3 219.7h5.0v0.5h-5.0zM45.8 219.7h2.0v0.5h-2.0zM48.3 219.7h4.5v0.5h-4.5zM53.3 219.7h13.5v0.5h-13.5zM67.3 219.7h2.5v0.5h-2.5zM70.3 219.7h0.5v0.5h-0.5zM71.3 219.7h0.5v0.5h-0.5zM20.8 220.2h0.5v0.5h-0.5zM23.8 220.2h2.0v0.5h-2.0zM26.3 220.2h1.0v0.5h-1.0zM27.8 220.2h2.0v0.5h-2.0zM30.8 220.2h4.5v0.5h-4.5zM36.8 220.2h0.5v0.5h-0.5zM37.8 220.2h1.5v0.5h-1.5zM39.8 220.2h9.0v0.5h-9.0zM49.3 220.2h7.5v0.5h-7.5zM57.3 220.2h11.0v0.5h-11.0zM68.8 220.2h1.5v0.5h-1.5zM22.3 220.7h0.5v0.5h-0.5zM23.3 220.7h0.5v0.5h-0.5zM25.3 220.7h0.5v0.5h-0.5zM26.8 220.7h0.5v0.5h-0.5zM27.8 220.7h0.5v0.5h-0.5zM29.3 220.7h1.5v0.5h-1.5zM31.3 220.7h1.0v0.5h-1.0zM32.8 220.7h1.5v0.5h-1.5zM35.3 220.7h1.0v0.5h-1.0zM37.3 220.7h1.0v0.5h-1.0zM38.8 220.7h7.5v0.5h-7.5zM46.8 220.7h21.5v0.5h-21.5zM68.8 220.7h0.5v0.5h-0.5zM69.8 220.7h0.5v0.5h-0.5zM70.8 220.7h0.5v0.5h-0.5zM21.3 221.2h1.0v0.5h-1.0zM22.8 221.2h0.5v0.5h-0.5zM23.8 221.2h0.5v0.5h-0.5zM24.8 221.2h1.5v0.5h-1.5zM27.8 221.2h1.0v0.5h-1.0zM29.8 221.2h8.0v0.5h-8.0zM38.3 221.2h28.5v0.5h-28.5zM67.3 221.2h3.0v0.5h-3.0zM22.3 221.7h2.0v0.5h-2.0zM25.8 221.7h0.5v0.5h-0.5zM26.8 221.7h0.5v0.5h-0.5zM28.8 221.7h3.0v0.5h-3.0zM32.3 221.7h0.5v0.5h-0.5zM33.3 221.7h1.0v0.5h-1.0zM35.3 221.7h1.0v0.5h-1.0zM36.8 221.7h3.0v0.5h-3.0zM40.3 221.7h7.0v0.5h-7.0zM47.8 221.7h22.0v0.5h-22.0zM70.3 221.7h0.5v0.5h-0.5zM22.3 222.2h0.5v0.5h-0.5zM23.3 222.2h1.0v0.5h-1.0zM24.8 222.2h1.0v0.5h-1.0zM26.3 222.2h0.5v0.5h-0.5zM27.3 222.2h1.0v0.5h-1.0zM29.8 222.2h10.5v0.5h-10.5zM40.8 222.2h30.0v0.5h-30.0zM21.8 222.7h1.0v0.5h-1.0zM23.8 222.7h0.5v0.5h-0.5zM24.8 222.7h0.5v0.5h-0.5zM26.3 222.7h0.5v0.5h-0.5zM27.3 222.7h2.5v0.5h-2.5zM30.3 222.7h1.5v0.5h-1.5zM32.3 222.7h7.0v0.5h-7.0zM40.3 222.7h31.5v0.5h-31.5zM72.3 222.7h0.5v0.5h-0.5zM21.8 223.2h1.5v0.5h-1.5zM24.3 223.2h1.0v0.5h-1.0zM25.8 223.2h5.5v0.5h-5.5zM31.8 223.2h15.0v0.5h-15.0zM47.8 223.2h22.0v0.5h-22.0zM70.3 223.2h1.5v0.5h-1.5zM20.8 223.7h2.0v0.5h-2.0zM23.3 223.7h1.0v0.5h-1.0zM25.8 223.7h0.5v0.5h-0.5zM27.3 223.7h0.5v0.5h-0.5zM28.3 223.7h20.0v0.5h-20.0zM48.8 223.7h22.5v0.5h-22.5zM72.3 223.7h0.5v0.5h-0.5zM20.8 224.2h5.5v0.5h-5.5zM27.8 224.2h43.0v0.5h-43.0zM20.3 224.7h0.5v0.5h-0.5zM21.3 224.7h0.5v0.5h-0.5zM22.3 224.7h49.0v0.5h-49.0zM71.8 224.7h0.5v0.5h-0.5zM20.8 225.2h51.0v0.5h-51.0zM20.3 225.7h25.0v0.5h-25.0zM45.8 225.7h25.0v0.5h-25.0zM20.3 226.2h50.5v0.5h-50.5zM20.3 226.7h51.0v0.5h-51.0zM20.3 227.2h50.5v0.5h-50.5zM71.8 227.2h0.5v0.5h-0.5zM20.3 227.7h51.5v0.5h-51.5zM20.3 228.2h51.5v0.5h-51.5zM72.8 228.2h0.5v0.5h-0.5zM20.3 228.7h50.5v0.5h-50.5zM71.3 228.7h1.0v0.5h-1.0zM20.3 229.2h51.5v0.5h-51.5zM20.3 229.7h50.0v0.5h-50.0zM70.8 229.7h1.5v0.5h-1.5zM20.3 230.2h0.5v0.5h-0.5zM21.3 230.2h50.5v0.5h-50.5zM20.3 230.7h51.5v0.5h-51.5zM20.3 231.2h51.5v0.5h-51.5zM20.3 231.7h51.5v0.5h-51.5z" fill="#000" stroke="none"/>
<rect x="20.3" y="180.2" width="66.0" height="52.2" fill="none" stroke="#333" stroke-width="0.7"/>
<line x1="42.7" y1="180.2" x2="42.7" y2="232.4" stroke="#333" stroke-width="0.6"/>
<line x1="20.3" y1="212.6" x2="86.3" y2="212.6" stroke="#333" stroke-width="0.6"/>
<line x1="20.3" y1="232.4" x2="20.3" y2="233.4" stroke="#333" stroke-width="0.6"/>
<line x1="16.8" y1="231.6" x2="18.0" y2="231.6" stroke="#222" stroke-width="0.7"/>
<text x="21.3" y="237.0" font-size="3.8" text-anchor="middle" fill="#111" font-weight="bold">10<tspan font-size="2.4" dy="-1">0</tspan></text>
<text x="19.1" y="234.7" font-size="3.8" text-anchor="end" fill="#111" font-weight="bold">10<tspan font-size="2.4" dy="-1">0</tspan></text>
<line x1="36.8" y1="232.4" x2="36.8" y2="233.4" stroke="#333" stroke-width="0.6"/>
<line x1="16.8" y1="218.54999999999998" x2="18.0" y2="218.54999999999998" stroke="#222" stroke-width="0.7"/>
<text x="37.8" y="237.0" font-size="3.8" text-anchor="middle" fill="#111" font-weight="bold">10<tspan font-size="2.4" dy="-1">1</tspan></text>
<text x="19.1" y="221.7" font-size="3.8" text-anchor="end" fill="#111" font-weight="bold">10<tspan font-size="2.4" dy="-1">1</tspan></text>
<line x1="53.3" y1="232.4" x2="53.3" y2="233.4" stroke="#333" stroke-width="0.6"/>
<line x1="16.8" y1="205.5" x2="18.0" y2="205.5" stroke="#222" stroke-width="0.7"/>
<text x="54.3" y="237.0" font-size="3.8" text-anchor="middle" fill="#111" font-weight="bold">10<tspan font-size="2.4" dy="-1">2</tspan></text>
<text x="19.1" y="208.6" font-size="3.8" text-anchor="end" fill="#111" font-weight="bold">10<tspan font-size="2.4" dy="-1">2</tspan></text>
<line x1="69.8" y1="232.4" x2="69.8" y2="233.4" stroke="#333" stroke-width="0.6"/>
<line x1="16.8" y1="192.45" x2="18.0" y2="192.45" stroke="#222" stroke-width="0.7"/>
<text x="70.8" y="237.0" font-size="3.8" text-anchor="middle" fill="#111" font-weight="bold">10<tspan font-size="2.4" dy="-1">3</tspan></text>
<text x="19.1" y="195.6" font-size="3.8" text-anchor="end" fill="#111" font-weight="bold">10<tspan font-size="2.4" dy="-1">3</tspan></text>
<line x1="86.3" y1="232.4" x2="86.3" y2="233.4" stroke="#333" stroke-width="0.6"/>
<line x1="16.8" y1="179.39999999999998" x2="18.0" y2="179.39999999999998" stroke="#222" stroke-width="0.7"/>
<text x="87.3" y="237.0" font-size="3.8" text-anchor="middle" fill="#111" font-weight="bold">10<tspan font-size="2.4" dy="-1">4</tspan></text>
<text x="19.1" y="182.5" font-size="3.8" text-anchor="end" fill="#111" font-weight="bold">10<tspan font-size="2.4" dy="-1">4</tspan></text>
<text x="85.5" y="188.39999999999998" font-size="9.4" text-anchor="end" font-weight="normal" >7.6%</text>
<path d="M149.2 189.7h0.5v0.5h-0.5zM144.7 190.2h0.5v0.5h-0.5zM148.2 190.7h0.5v0.5h-0.5zM143.2 191.2h1.0v0.5h-1.0zM148.2 191.2h0.5v0.5h-0.5zM143.7 191.7h0.5v0.5h-0.5zM148.2 191.7h0.5v0.5h-0.5zM149.7 191.7h0.5v0.5h-0.5zM143.2 192.2h0.5v0.5h-0.5zM144.2 192.2h0.5v0.5h-0.5zM145.2 192.2h0.5v0.5h-0.5zM146.7 192.2h1.0v0.5h-1.0zM148.7 192.2h1.0v0.5h-1.0zM154.2 192.2h0.5v0.5h-0.5zM139.2 192.7h1.0v0.5h-1.0zM140.7 192.7h0.5v0.5h-0.5zM141.7 192.7h1.0v0.5h-1.0zM143.2 192.7h0.5v0.5h-0.5zM144.2 192.7h1.5v0.5h-1.5zM146.2 192.7h2.5v0.5h-2.5zM149.7 192.7h1.0v0.5h-1.0zM151.2 192.7h2.0v0.5h-2.0zM137.2 193.2h0.5v0.5h-0.5zM141.2 193.2h0.5v0.5h-0.5zM142.2 193.2h1.0v0.5h-1.0zM143.7 193.2h0.5v0.5h-0.5zM145.2 193.2h1.0v0.5h-1.0zM147.2 193.2h1.0v0.5h-1.0zM150.7 193.2h1.0v0.5h-1.0zM153.2 193.2h0.5v0.5h-0.5zM132.2 193.7h0.5v0.5h-0.5zM137.2 193.7h1.0v0.5h-1.0zM139.2 193.7h1.5v0.5h-1.5zM141.2 193.7h5.0v0.5h-5.0zM147.2 193.7h1.0v0.5h-1.0zM149.7 193.7h0.5v0.5h-0.5zM150.7 193.7h0.5v0.5h-0.5zM152.2 193.7h0.5v0.5h-0.5zM153.2 193.7h0.5v0.5h-0.5zM118.7 194.2h0.5v0.5h-0.5zM136.7 194.2h0.5v0.5h-0.5zM138.2 194.2h2.0v0.5h-2.0zM140.7 194.2h1.5v0.5h-1.5zM142.7 194.2h1.5v0.5h-1.5zM144.7 194.2h3.5v0.5h-3.5zM148.7 194.2h0.5v0.5h-0.5zM149.7 194.2h0.5v0.5h-0.5zM150.7 194.2h1.5v0.5h-1.5zM152.7 194.2h0.5v0.5h-0.5zM131.7 194.7h0.5v0.5h-0.5zM135.7 194.7h0.5v0.5h-0.5zM136.7 194.7h1.0v0.5h-1.0zM138.2 194.7h11.5v0.5h-11.5zM150.2 194.7h1.5v0.5h-1.5zM152.2 194.7h1.0v0.5h-1.0zM132.2 195.2h0.5v0.5h-0.5zM134.2 195.2h0.5v0.5h-0.5zM135.2 195.2h0.5v0.5h-0.5zM136.2 195.2h0.5v0.5h-0.5zM137.2 195.2h1.0v0.5h-1.0zM138.7 195.2h11.0v0.5h-11.0zM150.2 195.2h1.0v0.5h-1.0zM152.7 195.2h1.0v0.5h-1.0zM133.7 195.7h2.0v0.5h-2.0zM137.7 195.7h14.0v0.5h-14.0zM152.2 195.7h0.5v0.5h-0.5zM115.7 196.2h0.5v0.5h-0.5zM120.7 196.2h1.0v0.5h-1.0zM126.7 196.2h0.5v0.5h-0.5zM134.2 196.2h0.5v0.5h-0.5zM135.7 196.2h0.5v0.5h-0.5zM137.2 196.2h14.5v0.5h-14.5zM152.2 196.2h0.5v0.5h-0.5zM129.2 196.7h0.5v0.5h-0.5zM133.7 196.7h0.5v0.5h-0.5zM134.7 196.7h0.5v0.5h-0.5zM136.2 196.7h0.5v0.5h-0.5zM137.2 196.7h4.5v0.5h-4.5zM142.2 196.7h8.5v0.5h-8.5zM151.2 196.7h0.5v0.5h-0.5zM152.2 196.7h1.5v0.5h-1.5zM132.2 197.2h0.5v0.5h-0.5zM135.2 197.2h1.5v0.5h-1.5zM138.2 197.2h13.5v0.5h-13.5zM152.2 197.2h1.0v0.5h-1.0zM117.2 197.7h0.5v0.5h-0.5zM118.2 197.7h0.5v0.5h-0.5zM125.7 197.7h0.5v0.5h-0.5zM130.7 197.7h0.5v0.5h-0.5zM132.2 197.7h0.5v0.5h-0.5zM135.2 197.7h1.0v0.5h-1.0zM137.2 197.7h15.0v0.5h-15.0zM133.7 198.2h1.0v0.5h-1.0zM135.2 198.2h0.5v0.5h-0.5zM137.7 198.2h11.5v0.5h-11.5zM149.7 198.2h1.0v0.5h-1.0zM126.7 198.7h0.5v0.5h-0.5zM130.2 198.7h0.5v0.5h-0.5zM131.2 198.7h2.0v0.5h-2.0zM133.7 198.7h2.5v0.5h-2.5zM136.7 198.7h1.5v0.5h-1.5zM138.7 198.7h13.0v0.5h-13.0zM152.2 198.7h1.0v0.5h-1.0zM111.7 199.2h0.5v0.5h-0.5zM113.7 199.2h0.5v0.5h-0.5zM116.2 199.2h0.5v0.5h-0.5zM128.2 199.2h0.5v0.5h-0.5zM131.7 199.2h0.5v0.5h-0.5zM132.7 199.2h3.0v0.5h-3.0zM136.7 199.2h2.5v0.5h-2.5zM139.7 199.2h12.0v0.5h-12.0zM118.7 199.7h0.5v0.5h-0.5zM119.7 199.7h1.0v0.5h-1.0zM130.7 199.7h0.5v0.5h-0.5zM133.7 199.7h0.5v0.5h-0.5zM135.2 199.7h0.5v0.5h-0.5zM136.2 199.7h0.5v0.5h-0.5zM137.2 199.7h10.0v0.5h-10.0zM147.7 199.7h1.0v0.5h-1.0zM149.7 199.7h0.5v0.5h-0.5zM151.7 199.7h0.5v0.5h-0.5zM112.7 200.2h1.0v0.5h-1.0zM115.2 200.2h0.5v0.5h-0.5zM131.2 200.2h0.5v0.5h-0.5zM132.7 200.2h0.5v0.5h-0.5zM133.7 200.2h0.5v0.5h-0.5zM134.7 200.2h11.5v0.5h-11.5zM146.7 200.2h4.5v0.5h-4.5zM151.7 200.2h0.5v0.5h-0.5zM153.2 200.2h0.5v0.5h-0.5zM115.2 200.7h0.5v0.5h-0.5zM120.7 200.7h0.5v0.5h-0.5zM124.7 200.7h0.5v0.5h-0.5zM127.7 200.7h0.5v0.5h-0.5zM133.2 200.7h1.0v0.5h-1.0zM135.2 200.7h1.0v0.5h-1.0zM136.7 200.7h14.5v0.5h-14.5zM116.7 201.2h0.5v0.5h-0.5zM117.7 201.2h0.5v0.5h-0.5zM128.2 201.2h1.0v0.5h-1.0zM133.2 201.2h0.5v0.5h-0.5zM134.2 201.2h14.5v0.5h-14.5zM149.2 201.2h3.0v0.5h-3.0zM126.7 201.7h0.5v0.5h-0.5zM129.7 201.7h0.5v0.5h-0.5zM132.2 201.7h2.5v0.5h-2.5zM135.2 201.7h15.5v0.5h-15.5zM151.7 201.7h0.5v0.5h-0.5zM152.7 201.7h0.5v0.5h-0.5zM120.7 202.2h0.5v0.5h-0.5zM122.7 202.2h0.5v0.5h-0.5zM123.7 202.2h0.5v0.5h-0.5zM126.7 202.2h0.5v0.5h-0.5zM128.2 202.2h0.5v0.5h-0.5zM132.7 202.2h1.0v0.5h-1.0zM134.2 202.2h0.5v0.5h-0.5zM135.2 202.2h14.0v0.5h-14.0zM150.2 202.2h0.5v0.5h-0.5zM132.2 202.7h16.0v0.5h-16.0zM148.7 202.7h1.0v0.5h-1.0zM150.2 202.7h0.5v0.5h-0.5zM151.7 202.7h0.5v0.5h-0.5zM153.2 202.7h0.5v0.5h-0.5zM112.2 203.2h0.5v0.5h-0.5zM115.2 203.2h0.5v0.5h-0.5zM124.2 203.2h0.5v0.5h-0.5zM127.7 203.2h0.5v0.5h-0.5zM130.7 203.2h0.5v0.5h-0.5zM131.7 203.2h1.5v0.5h-1.5zM134.7 203.2h13.5v0.5h-13.5zM148.7 203.2h2.0v0.5h-2.0zM112.2 203.7h0.5v0.5h-0.5zM114.2 203.7h0.5v0.5h-0.5zM126.2 203.7h0.5v0.5h-0.5zM128.2 203.7h1.0v0.5h-1.0zM131.2 203.7h1.0v0.5h-1.0zM132.7 203.7h1.5v0.5h-1.5zM134.7 203.7h8.5v0.5h-8.5zM143.7 203.7h4.0v0.5h-4.0zM148.7 203.7h0.5v0.5h-0.5zM149.7 203.7h0.5v0.5h-0.5zM130.2 204.2h1.0v0.5h-1.0zM131.7 204.2h1.0v0.5h-1.0zM133.2 204.2h7.5v0.5h-7.5zM141.2 204.2h1.0v0.5h-1.0zM142.7 204.2h4.0v0.5h-4.0zM147.2 204.2h1.0v0.5h-1.0zM150.2 204.2h0.5v0.5h-0.5zM112.7 204.7h0.5v0.5h-0.5zM113.7 204.7h0.5v0.5h-0.5zM117.2 204.7h0.5v0.5h-0.5zM129.2 204.7h0.5v0.5h-0.5zM131.2 204.7h0.5v0.5h-0.5zM133.2 204.7h1.0v0.5h-1.0zM134.7 204.7h2.5v0.5h-2.5zM137.7 204.7h3.0v0.5h-3.0zM141.2 204.7h1.0v0.5h-1.0zM142.7 204.7h1.0v0.5h-1.0zM144.2 204.7h1.5v0.5h-1.5zM146.2 204.7h0.5v0.5h-0.5zM147.2 204.7h0.5v0.5h-0.5zM148.2 204.7h0.5v0.5h-0.5zM152.2 204.7h0.5v0.5h-0.5zM113.2 205.2h1.0v0.5h-1.0zM129.2 205.2h0.5v0.5h-0.5zM130.2 205.2h1.0v0.5h-1.0zM132.2 205.2h0.5v0.5h-0.5zM134.2 205.2h11.5v0.5h-11.5zM146.2 205.2h2.5v0.5h-2.5zM149.7 205.2h0.5v0.5h-0.5zM116.2 205.7h1.0v0.5h-1.0zM118.2 205.7h0.5v0.5h-0.5zM130.7 205.7h1.0v0.5h-1.0zM132.7 205.7h7.5v0.5h-7.5zM140.7 205.7h0.5v0.5h-0.5zM141.7 205.7h1.0v0.5h-1.0zM143.2 205.7h3.0v0.5h-3.0zM146.7 205.7h2.5v0.5h-2.5zM150.2 205.7h0.5v0.5h-0.5zM115.7 206.2h0.5v0.5h-0.5zM117.7 206.2h0.5v0.5h-0.5zM131.7 206.2h0.5v0.5h-0.5zM132.7 206.2h0.5v0.5h-0.5zM133.7 206.2h3.0v0.5h-3.0zM137.7 206.2h2.0v0.5h-2.0zM140.2 206.2h0.5v0.5h-0.5zM141.2 206.2h1.5v0.5h-1.5zM143.2 206.2h0.5v0.5h-0.5zM144.2 206.2h3.5v0.5h-3.5zM148.2 206.2h0.5v0.5h-0.5zM149.2 206.2h0.5v0.5h-0.5zM110.7 206.7h0.5v0.5h-0.5zM130.7 206.7h0.5v0.5h-0.5zM131.7 206.7h0.5v0.5h-0.5zM132.7 206.7h1.0v0.5h-1.0zM134.2 206.7h1.0v0.5h-1.0zM135.7 206.7h2.0v0.5h-2.0zM139.2 206.7h2.0v0.5h-2.0zM142.2 206.7h1.0v0.5h-1.0zM143.7 206.7h0.5v0.5h-0.5zM144.7 206.7h0.5v0.5h-0.5zM145.7 206.7h2.5v0.5h-2.5zM149.2 206.7h1.0v0.5h-1.0zM152.2 206.7h0.5v0.5h-0.5zM132.7 207.2h0.5v0.5h-0.5zM133.7 207.2h0.5v0.5h-0.5zM134.7 207.2h2.0v0.5h-2.0zM137.2 207.2h0.5v0.5h-0.5zM138.2 207.2h1.0v0.5h-1.0zM139.7 207.2h2.0v0.5h-2.0zM142.2 207.2h0.5v0.5h-0.5zM143.2 207.2h2.0v0.5h-2.0zM145.7 207.2h0.5v0.5h-0.5zM146.7 207.2h1.5v0.5h-1.5zM148.7 207.2h0.5v0.5h-0.5zM150.7 207.2h0.5v0.5h-0.5zM152.2 207.2h0.5v0.5h-0.5zM116.2 207.7h0.5v0.5h-0.5zM132.7 207.7h0.5v0.5h-0.5zM134.7 207.7h0.5v0.5h-0.5zM135.7 207.7h0.5v0.5h-0.5zM137.2 207.7h1.0v0.5h-1.0zM138.7 207.7h2.0v0.5h-2.0zM141.2 207.7h2.0v0.5h-2.0zM143.7 207.7h0.5v0.5h-0.5zM144.7 207.7h2.5v0.5h-2.5zM147.7 207.7h0.5v0.5h-0.5zM148.7 207.7h1.0v0.5h-1.0zM133.7 208.2h0.5v0.5h-0.5zM134.7 208.2h0.5v0.5h-0.5zM135.7 208.2h0.5v0.5h-0.5zM136.7 208.2h0.5v0.5h-0.5zM137.7 208.2h0.5v0.5h-0.5zM138.7 208.2h1.5v0.5h-1.5zM141.7 208.2h2.0v0.5h-2.0zM144.2 208.2h4.0v0.5h-4.0zM148.7 208.2h0.5v0.5h-0.5zM129.7 208.7h0.5v0.5h-0.5zM132.2 208.7h0.5v0.5h-0.5zM134.7 208.7h1.5v0.5h-1.5zM140.2 208.7h0.5v0.5h-0.5zM141.2 208.7h3.5v0.5h-3.5zM145.7 208.7h1.5v0.5h-1.5zM148.2 208.7h1.0v0.5h-1.0zM149.7 208.7h0.5v0.5h-0.5zM152.7 208.7h0.5v0.5h-0.5zM137.2 209.2h0.5v0.5h-0.5zM138.2 209.2h1.0v0.5h-1.0zM141.2 209.2h4.0v0.5h-4.0zM146.2 209.2h1.5v0.5h-1.5zM148.7 209.2h1.5v0.5h-1.5zM110.2 209.7h0.5v0.5h-0.5zM133.7 209.7h0.5v0.5h-0.5zM134.7 209.7h0.5v0.5h-0.5zM135.7 209.7h0.5v0.5h-0.5zM137.7 209.7h0.5v0.5h-0.5zM139.2 209.7h1.0v0.5h-1.0zM141.7 209.7h2.5v0.5h-2.5zM145.2 209.7h0.5v0.5h-0.5zM146.2 209.7h1.0v0.5h-1.0zM147.7 209.7h0.5v0.5h-0.5zM149.2 209.7h0.5v0.5h-0.5zM150.7 209.7h0.5v0.5h-0.5zM153.2 209.7h0.5v0.5h-0.5zM134.2 210.2h0.5v0.5h-0.5zM137.7 210.2h2.0v0.5h-2.0zM140.2 210.2h1.0v0.5h-1.0zM143.7 210.2h2.5v0.5h-2.5zM147.2 210.2h1.0v0.5h-1.0zM148.7 210.2h0.5v0.5h-0.5zM150.2 210.2h0.5v0.5h-0.5zM152.2 210.2h0.5v0.5h-0.5zM153.7 210.2h0.5v0.5h-0.5zM117.2 210.7h0.5v0.5h-0.5zM123.7 210.7h0.5v0.5h-0.5zM136.7 210.7h0.5v0.5h-0.5zM137.7 210.7h0.5v0.5h-0.5zM140.7 210.7h0.5v0.5h-0.5zM144.2 210.7h1.5v0.5h-1.5zM146.2 210.7h1.0v0.5h-1.0zM148.2 210.7h0.5v0.5h-0.5zM149.2 210.7h0.5v0.5h-0.5zM151.7 210.7h0.5v0.5h-0.5zM121.7 211.2h0.5v0.5h-0.5zM123.7 211.2h1.0v0.5h-1.0zM128.2 211.2h0.5v0.5h-0.5zM129.7 211.2h1.0v0.5h-1.0zM134.7 211.2h1.0v0.5h-1.0zM138.2 211.2h1.0v0.5h-1.0zM140.2 211.2h0.5v0.5h-0.5zM141.7 211.2h1.0v0.5h-1.0zM143.2 211.2h0.5v0.5h-0.5zM146.2 211.2h1.0v0.5h-1.0zM148.2 211.2h1.5v0.5h-1.5zM151.2 211.2h0.5v0.5h-0.5zM153.2 211.2h0.5v0.5h-0.5zM121.7 211.7h0.5v0.5h-0.5zM123.2 211.7h0.5v0.5h-0.5zM128.7 211.7h0.5v0.5h-0.5zM137.7 211.7h1.0v0.5h-1.0zM140.2 211.7h2.5v0.5h-2.5zM143.2 211.7h0.5v0.5h-0.5zM145.2 211.7h4.0v0.5h-4.0zM151.2 211.7h0.5v0.5h-0.5zM153.2 211.7h0.5v0.5h-0.5zM127.2 212.2h0.5v0.5h-0.5zM132.2 212.2h0.5v0.5h-0.5zM134.7 212.2h0.5v0.5h-0.5zM136.2 212.2h1.0v0.5h-1.0zM140.2 212.2h0.5v0.5h-0.5zM141.2 212.2h0.5v0.5h-0.5zM143.7 212.2h1.0v0.5h-1.0zM145.7 212.2h0.5v0.5h-0.5zM147.2 212.2h0.5v0.5h-0.5zM148.2 212.2h1.0v0.5h-1.0zM149.7 212.2h0.5v0.5h-0.5zM150.7 212.2h1.0v0.5h-1.0zM123.7 212.7h1.0v0.5h-1.0zM128.2 212.7h0.5v0.5h-0.5zM130.7 212.7h0.5v0.5h-0.5zM134.2 212.7h0.5v0.5h-0.5zM135.2 212.7h1.0v0.5h-1.0zM137.2 212.7h1.0v0.5h-1.0zM138.7 212.7h0.5v0.5h-0.5zM140.2 212.7h2.0v0.5h-2.0zM143.7 212.7h0.5v0.5h-0.5zM146.2 212.7h1.0v0.5h-1.0zM148.2 212.7h0.5v0.5h-0.5zM149.2 212.7h0.5v0.5h-0.5zM150.2 212.7h1.0v0.5h-1.0zM152.2 212.7h0.5v0.5h-0.5zM154.7 212.7h0.5v0.5h-0.5zM123.7 213.2h0.5v0.5h-0.5zM124.7 213.2h0.5v0.5h-0.5zM128.2 213.2h0.5v0.5h-0.5zM129.2 213.2h0.5v0.5h-0.5zM132.2 213.2h0.5v0.5h-0.5zM133.7 213.2h0.5v0.5h-0.5zM136.2 213.2h1.0v0.5h-1.0zM139.2 213.2h0.5v0.5h-0.5zM140.7 213.2h1.5v0.5h-1.5zM144.2 213.2h1.0v0.5h-1.0zM145.7 213.2h0.5v0.5h-0.5zM147.2 213.2h0.5v0.5h-0.5zM148.2 213.2h1.0v0.5h-1.0zM151.7 213.2h0.5v0.5h-0.5zM152.7 213.2h0.5v0.5h-0.5zM111.2 213.7h0.5v0.5h-0.5zM124.2 213.7h0.5v0.5h-0.5zM126.2 213.7h0.5v0.5h-0.5zM128.2 213.7h0.5v0.5h-0.5zM132.2 213.7h1.5v0.5h-1.5zM134.7 213.7h0.5v0.5h-0.5zM135.7 213.7h0.5v0.5h-0.5zM137.7 213.7h0.5v0.5h-0.5zM139.2 213.7h1.0v0.5h-1.0zM141.2 213.7h1.0v0.5h-1.0zM143.2 213.7h0.5v0.5h-0.5zM144.2 213.7h1.0v0.5h-1.0zM147.7 213.7h0.5v0.5h-0.5zM148.7 213.7h0.5v0.5h-0.5zM149.7 213.7h0.5v0.5h-0.5zM108.7 214.2h0.5v0.5h-0.5zM122.7 214.2h0.5v0.5h-0.5zM123.7 214.2h0.5v0.5h-0.5zM124.7 214.2h1.0v0.5h-1.0zM126.7 214.2h0.5v0.5h-0.5zM127.7 214.2h0.5v0.5h-0.5zM131.7 214.2h1.0v0.5h-1.0zM133.2 214.2h1.5v0.5h-1.5zM135.2 214.2h1.0v0.5h-1.0zM139.2 214.2h1.0v0.5h-1.0zM141.7 214.2h1.5v0.5h-1.5zM143.7 214.2h0.5v0.5h-0.5zM145.2 214.2h0.5v0.5h-0.5zM146.7 214.2h1.0v0.5h-1.0zM148.7 214.2h1.0v0.5h-1.0zM151.2 214.2h0.5v0.5h-0.5zM154.2 214.2h0.5v0.5h-0.5zM119.7 214.7h0.5v0.5h-0.5zM120.7 214.7h4.0v0.5h-4.0zM125.2 214.7h1.0v0.5h-1.0zM128.2 214.7h0.5v0.5h-0.5zM133.7 214.7h2.0v0.5h-2.0zM137.2 214.7h0.5v0.5h-0.5zM140.2 214.7h0.5v0.5h-0.5zM141.7 214.7h0.5v0.5h-0.5zM143.2 214.7h0.5v0.5h-0.5zM144.2 214.7h0.5v0.5h-0.5zM145.7 214.7h0.5v0.5h-0.5zM146.7 214.7h1.0v0.5h-1.0zM148.7 214.7h0.5v0.5h-0.5zM152.2 214.7h0.5v0.5h-0.5zM122.2 215.2h0.5v0.5h-0.5zM123.2 215.2h3.5v0.5h-3.5zM127.7 215.2h0.5v0.5h-0.5zM129.7 215.2h0.5v0.5h-0.5zM132.2 215.2h0.5v0.5h-0.5zM133.7 215.2h2.0v0.5h-2.0zM136.2 215.2h1.0v0.5h-1.0zM137.7 215.2h0.5v0.5h-0.5zM139.7 215.2h1.5v0.5h-1.5zM142.2 215.2h5.5v0.5h-5.5zM148.2 215.2h0.5v0.5h-0.5zM149.7 215.2h1.0v0.5h-1.0zM122.2 215.7h0.5v0.5h-0.5zM123.7 215.7h1.5v0.5h-1.5zM127.2 215.7h2.0v0.5h-2.0zM129.7 215.7h1.5v0.5h-1.5zM132.7 215.7h2.5v0.5h-2.5zM136.2 215.7h1.0v0.5h-1.0zM137.7 215.7h0.5v0.5h-0.5zM139.2 215.7h2.0v0.5h-2.0zM142.2 215.7h1.0v0.5h-1.0zM143.7 215.7h2.0v0.5h-2.0zM146.7 215.7h0.5v0.5h-0.5zM148.2 215.7h1.0v0.5h-1.0zM150.2 215.7h0.5v0.5h-0.5zM114.7 216.2h0.5v0.5h-0.5zM118.7 216.2h0.5v0.5h-0.5zM120.7 216.2h1.0v0.5h-1.0zM123.2 216.2h1.0v0.5h-1.0zM124.7 216.2h0.5v0.5h-0.5zM126.2 216.2h2.0v0.5h-2.0zM128.7 216.2h0.5v0.5h-0.5zM130.7 216.2h0.5v0.5h-0.5zM133.2 216.2h2.0v0.5h-2.0zM135.7 216.2h2.0v0.5h-2.0zM138.2 216.2h1.0v0.5h-1.0zM140.2 216.2h5.5v0.5h-5.5zM146.2 216.2h2.0v0.5h-2.0zM149.2 216.2h0.5v0.5h-0.5zM150.2 216.2h0.5v0.5h-0.5zM152.2 216.2h0.5v0.5h-0.5zM120.2 216.7h0.5v0.5h-0.5zM121.7 216.7h1.0v0.5h-1.0zM123.7 216.7h1.5v0.5h-1.5zM125.7 216.7h0.5v0.5h-0.5zM126.7 216.7h1.0v0.5h-1.0zM128.2 216.7h1.0v0.5h-1.0zM129.7 216.7h1.0v0.5h-1.0zM131.2 216.7h2.0v0.5h-2.0zM136.2 216.7h1.5v0.5h-1.5zM138.2 216.7h1.5v0.5h-1.5zM140.2 216.7h0.5v0.5h-0.5zM141.2 216.7h2.5v0.5h-2.5zM144.2 216.7h1.0v0.5h-1.0zM146.2 216.7h1.0v0.5h-1.0zM147.7 216.7h0.5v0.5h-0.5zM148.7 216.7h2.0v0.5h-2.0zM151.7 216.7h1.0v0.5h-1.0zM119.7 217.2h1.0v0.5h-1.0zM122.7 217.2h0.5v0.5h-0.5zM123.7 217.2h0.5v0.5h-0.5zM125.2 217.2h0.5v0.5h-0.5zM127.2 217.2h0.5v0.5h-0.5zM128.2 217.2h3.0v0.5h-3.0zM131.7 217.2h3.5v0.5h-3.5zM136.7 217.2h3.0v0.5h-3.0zM140.2 217.2h6.0v0.5h-6.0zM147.2 217.2h0.5v0.5h-0.5zM149.7 217.2h0.5v0.5h-0.5zM151.7 217.2h0.5v0.5h-0.5zM153.7 217.2h0.5v0.5h-0.5zM115.7 217.7h1.0v0.5h-1.0zM117.2 217.7h0.5v0.5h-0.5zM119.7 217.7h0.5v0.5h-0.5zM122.7 217.7h0.5v0.5h-0.5zM123.7 217.7h1.0v0.5h-1.0zM125.2 217.7h4.0v0.5h-4.0zM130.7 217.7h2.5v0.5h-2.5zM133.7 217.7h0.5v0.5h-0.5zM135.2 217.7h1.5v0.5h-1.5zM137.2 217.7h4.0v0.5h-4.0zM141.7 217.7h5.0v0.5h-5.0zM147.2 217.7h1.5v0.5h-1.5zM149.2 217.7h0.5v0.5h-0.5zM150.2 217.7h0.5v0.5h-0.5zM151.2 217.7h1.0v0.5h-1.0zM153.7 217.7h0.5v0.5h-0.5zM120.2 218.2h1.0v0.5h-1.0zM122.2 218.2h0.5v0.5h-0.5zM123.2 218.2h0.5v0.5h-0.5zM124.2 218.2h0.5v0.5h-0.5zM125.2 218.2h0.5v0.5h-0.5zM126.2 218.2h1.5v0.5h-1.5zM128.2 218.2h0.5v0.5h-0.5zM129.2 218.2h4.5v0.5h-4.5zM135.7 218.2h3.0v0.5h-3.0zM139.7 218.2h7.5v0.5h-7.5zM147.7 218.2h0.5v0.5h-0.5zM149.2 218.2h0.5v0.5h-0.5zM150.7 218.2h0.5v0.5h-0.5zM151.7 218.2h1.5v0.5h-1.5zM153.7 218.2h0.5v0.5h-0.5zM154.7 218.2h0.5v0.5h-0.5zM109.2 218.7h0.5v0.5h-0.5zM115.2 218.7h0.5v0.5h-0.5zM119.2 218.7h0.5v0.5h-0.5zM120.2 218.7h1.5v0.5h-1.5zM122.7 218.7h2.0v0.5h-2.0zM126.2 218.7h2.5v0.5h-2.5zM129.2 218.7h2.0v0.5h-2.0zM131.7 218.7h1.0v0.5h-1.0zM133.2 218.7h0.5v0.5h-0.5zM134.2 218.7h2.5v0.5h-2.5zM137.2 218.7h8.0v0.5h-8.0zM145.7 218.7h2.0v0.5h-2.0zM148.2 218.7h2.0v0.5h-2.0zM151.2 218.7h0.5v0.5h-0.5zM152.2 218.7h0.5v0.5h-0.5zM119.2 219.2h1.0v0.5h-1.0zM121.2 219.2h0.5v0.5h-0.5zM122.2 219.2h0.5v0.5h-0.5zM124.2 219.2h2.5v0.5h-2.5zM127.2 219.2h2.5v0.5h-2.5zM130.7 219.2h1.5v0.5h-1.5zM132.7 219.2h0.5v0.5h-0.5zM133.7 219.2h0.5v0.5h-0.5zM135.2 219.2h1.5v0.5h-1.5zM137.2 219.2h10.0v0.5h-10.0zM147.7 219.2h6.5v0.5h-6.5zM116.7 219.7h0.5v0.5h-0.5zM118.7 219.7h0.5v0.5h-0.5zM120.2 219.7h1.5v0.5h-1.5zM122.2 219.7h1.0v0.5h-1.0zM123.7 219.7h1.5v0.5h-1.5zM125.7 219.7h4.0v0.5h-4.0zM130.2 219.7h4.0v0.5h-4.0zM134.7 219.7h11.0v0.5h-11.0zM146.2 219.7h0.5v0.5h-0.5zM147.2 219.7h2.0v0.5h-2.0zM149.7 219.7h0.5v0.5h-0.5zM150.7 219.7h1.5v0.5h-1.5zM153.2 219.7h1.0v0.5h-1.0zM109.7 220.2h0.5v0.5h-0.5zM116.2 220.2h1.0v0.5h-1.0zM118.2 220.2h1.0v0.5h-1.0zM120.2 220.2h0.5v0.5h-0.5zM122.2 220.2h1.0v0.5h-1.0zM123.7 220.2h3.5v0.5h-3.5zM127.7 220.2h3.0v0.5h-3.0zM132.2 220.2h1.0v0.5h-1.0zM133.7 220.2h1.5v0.5h-1.5zM135.7 220.2h9.5v0.5h-9.5zM145.7 220.2h4.0v0.5h-4.0zM150.2 220.2h1.0v0.5h-1.0zM152.2 220.2h0.5v0.5h-0.5zM155.2 220.2h0.5v0.5h-0.5zM112.2 220.7h0.5v0.5h-0.5zM114.2 220.7h0.5v0.5h-0.5zM115.7 220.7h1.0v0.5h-1.0zM117.7 220.7h1.0v0.5h-1.0zM119.7 220.7h1.0v0.5h-1.0zM121.7 220.7h1.0v0.5h-1.0zM123.2 220.7h3.5v0.5h-3.5zM127.2 220.7h0.5v0.5h-0.5zM128.7 220.7h1.0v0.5h-1.0zM130.2 220.7h1.0v0.5h-1.0zM131.7 220.7h22.5v0.5h-22.5zM154.7 220.7h0.5v0.5h-0.5zM107.7 221.2h0.5v0.5h-0.5zM108.7 221.2h1.0v0.5h-1.0zM113.7 221.2h0.5v0.5h-0.5zM115.2 221.2h0.5v0.5h-0.5zM116.2 221.2h1.5v0.5h-1.5zM120.2 221.2h0.5v0.5h-0.5zM121.2 221.2h2.0v0.5h-2.0zM123.7 221.2h2.0v0.5h-2.0zM126.7 221.2h1.0v0.5h-1.0zM128.2 221.2h0.5v0.5h-0.5zM129.2 221.2h24.0v0.5h-24.0zM153.7 221.2h1.0v0.5h-1.0zM104.7 221.7h0.5v0.5h-0.5zM105.7 221.7h0.5v0.5h-0.5zM108.2 221.7h0.5v0.5h-0.5zM110.2 221.7h0.5v0.5h-0.5zM114.2 221.7h1.0v0.5h-1.0zM115.7 221.7h4.0v0.5h-4.0zM120.2 221.7h0.5v0.5h-0.5zM121.7 221.7h1.5v0.5h-1.5zM124.2 221.7h30.0v0.5h-30.0zM154.7 221.7h0.5v0.5h-0.5zM104.2 222.2h0.5v0.5h-0.5zM108.7 222.2h0.5v0.5h-0.5zM110.2 222.2h1.0v0.5h-1.0zM111.7 222.2h2.0v0.5h-2.0zM114.7 222.2h1.0v0.5h-1.0zM116.7 222.2h0.5v0.5h-0.5zM117.7 222.2h1.0v0.5h-1.0zM119.2 222.2h0.5v0.5h-0.5zM120.7 222.2h1.0v0.5h-1.0zM122.7 222.2h32.0v0.5h-32.0zM104.7 222.7h1.0v0.5h-1.0zM106.7 222.7h1.0v0.5h-1.0zM108.7 222.7h0.5v0.5h-0.5zM110.2 222.7h3.5v0.5h-3.5zM114.2 222.7h1.5v0.5h-1.5zM116.7 222.7h0.5v0.5h-0.5zM117.7 222.7h0.5v0.5h-0.5zM118.7 222.7h2.0v0.5h-2.0zM121.2 222.7h2.0v0.5h-2.0zM123.7 222.7h1.5v0.5h-1.5zM125.7 222.7h1.5v0.5h-1.5zM127.7 222.7h26.0v0.5h-26.0zM154.2 222.7h1.0v0.5h-1.0zM103.7 223.2h0.5v0.5h-0.5zM104.7 223.2h2.5v0.5h-2.5zM109.7 223.2h2.0v0.5h-2.0zM112.7 223.2h2.5v0.5h-2.5zM115.7 223.2h0.5v0.5h-0.5zM116.7 223.2h1.5v0.5h-1.5zM118.7 223.2h0.5v0.5h-0.5zM119.7 223.2h2.5v0.5h-2.5zM122.7 223.2h32.0v0.5h-32.0zM103.7 223.7h0.5v0.5h-0.5zM104.7 223.7h0.5v0.5h-0.5zM105.7 223.7h1.5v0.5h-1.5zM107.7 223.7h0.5v0.5h-0.5zM109.2 223.7h4.0v0.5h-4.0zM113.7 223.7h1.0v0.5h-1.0zM115.2 223.7h8.0v0.5h-8.0zM123.7 223.7h28.5v0.5h-28.5zM152.7 223.7h3.0v0.5h-3.0zM103.7 224.2h1.0v0.5h-1.0zM105.2 224.2h3.5v0.5h-3.5zM109.2 224.2h12.0v0.5h-12.0zM121.7 224.2h33.0v0.5h-33.0zM155.7 224.2h0.5v0.5h-0.5zM103.7 224.7h0.5v0.5h-0.5zM104.7 224.7h4.0v0.5h-4.0zM109.2 224.7h3.0v0.5h-3.0zM112.7 224.7h4.0v0.5h-4.0zM117.2 224.7h38.0v0.5h-38.0zM103.7 225.2h12.5v0.5h-12.5zM116.7 225.2h38.5v0.5h-38.5zM103.7 225.7h51.5v0.5h-51.5zM103.7 226.2h4.5v0.5h-4.5zM109.2 226.2h0.5v0.5h-0.5zM110.2 226.2h45.0v0.5h-45.0zM103.7 226.7h7.0v0.5h-7.0zM111.2 226.7h43.5v0.5h-43.5zM103.7 227.2h19.0v0.5h-19.0zM123.2 227.2h31.5v0.5h-31.5zM155.2 227.2h0.5v0.5h-0.5zM103.7 227.7h50.5v0.5h-50.5zM154.7 227.7h0.5v0.5h-0.5zM156.7 227.7h0.5v0.5h-0.5zM103.7 228.2h50.5v0.5h-50.5zM154.7 228.2h1.0v0.5h-1.0zM103.7 228.7h0.5v0.5h-0.5zM104.7 228.7h50.5v0.5h-50.5zM103.7 229.2h9.5v0.5h-9.5zM113.7 229.2h41.5v0.5h-41.5zM156.2 229.2h0.5v0.5h-0.5zM103.7 229.7h51.5v0.5h-51.5zM103.7 230.2h51.0v0.5h-51.0zM103.7 230.7h50.5v0.5h-50.5zM154.7 230.7h0.5v0.5h-0.5zM103.7 231.2h51.0v0.5h-51.0zM103.7 231.7h50.5v0.5h-50.5z" fill="#000" stroke="none"/>
<rect x="103.7" y="180.2" width="65.6" height="52.2" fill="none" stroke="#333" stroke-width="0.7"/>
<line x1="124.6" y1="180.2" x2="124.6" y2="232.4" stroke="#333" stroke-width="0.6"/>
<line x1="103.7" y1="212.6" x2="169.3" y2="212.6" stroke="#333" stroke-width="0.6"/>
<line x1="103.7" y1="232.4" x2="103.7" y2="233.4" stroke="#333" stroke-width="0.6"/>
<line x1="100.2" y1="231.6" x2="101.4" y2="231.6" stroke="#222" stroke-width="0.7"/>
<text x="104.7" y="237.0" font-size="3.8" text-anchor="middle" fill="#111" font-weight="bold">10<tspan font-size="2.4" dy="-1">0</tspan></text>
<text x="102.5" y="234.7" font-size="3.8" text-anchor="end" fill="#111" font-weight="bold">10<tspan font-size="2.4" dy="-1">0</tspan></text>
<line x1="120.10000000000001" y1="232.4" x2="120.10000000000001" y2="233.4" stroke="#333" stroke-width="0.6"/>
<line x1="100.2" y1="218.54999999999998" x2="101.4" y2="218.54999999999998" stroke="#222" stroke-width="0.7"/>
<text x="121.1" y="237.0" font-size="3.8" text-anchor="middle" fill="#111" font-weight="bold">10<tspan font-size="2.4" dy="-1">1</tspan></text>
<text x="102.5" y="221.7" font-size="3.8" text-anchor="end" fill="#111" font-weight="bold">10<tspan font-size="2.4" dy="-1">1</tspan></text>
<line x1="136.5" y1="232.4" x2="136.5" y2="233.4" stroke="#333" stroke-width="0.6"/>
<line x1="100.2" y1="205.5" x2="101.4" y2="205.5" stroke="#222" stroke-width="0.7"/>
<text x="137.5" y="237.0" font-size="3.8" text-anchor="middle" fill="#111" font-weight="bold">10<tspan font-size="2.4" dy="-1">2</tspan></text>
<text x="102.5" y="208.6" font-size="3.8" text-anchor="end" fill="#111" font-weight="bold">10<tspan font-size="2.4" dy="-1">2</tspan></text>
<line x1="152.9" y1="232.4" x2="152.9" y2="233.4" stroke="#333" stroke-width="0.6"/>
<line x1="100.2" y1="192.45" x2="101.4" y2="192.45" stroke="#222" stroke-width="0.7"/>
<text x="153.9" y="237.0" font-size="3.8" text-anchor="middle" fill="#111" font-weight="bold">10<tspan font-size="2.4" dy="-1">3</tspan></text>
<text x="102.5" y="195.6" font-size="3.8" text-anchor="end" fill="#111" font-weight="bold">10<tspan font-size="2.4" dy="-1">3</tspan></text>
<line x1="169.3" y1="232.4" x2="169.3" y2="233.4" stroke="#333" stroke-width="0.6"/>
<line x1="100.2" y1="179.39999999999998" x2="101.4" y2="179.39999999999998" stroke="#222" stroke-width="0.7"/>
<text x="170.3" y="237.0" font-size="3.8" text-anchor="middle" fill="#111" font-weight="bold">10<tspan font-size="2.4" dy="-1">4</tspan></text>
<text x="102.5" y="182.5" font-size="3.8" text-anchor="end" fill="#111" font-weight="bold">10<tspan font-size="2.4" dy="-1">4</tspan></text>
<text x="168.5" y="188.39999999999998" font-size="9.4" text-anchor="end" font-weight="normal" >7.2%</text>
<path d="M216.1 187.7h0.5v0.5h-0.5zM226.1 187.7h0.5v0.5h-0.5zM218.6 189.7h0.5v0.5h-0.5zM228.1 189.7h0.5v0.5h-0.5zM226.1 190.2h0.5v0.5h-0.5zM233.1 190.2h0.5v0.5h-0.5zM221.6 190.7h0.5v0.5h-0.5zM226.1 190.7h0.5v0.5h-0.5zM214.1 191.2h0.5v0.5h-0.5zM217.6 191.2h0.5v0.5h-0.5zM225.6 191.2h0.5v0.5h-0.5zM227.6 191.2h0.5v0.5h-0.5zM212.6 191.7h0.5v0.5h-0.5zM224.6 191.7h0.5v0.5h-0.5zM226.1 191.7h0.5v0.5h-0.5zM229.6 191.7h0.5v0.5h-0.5zM217.6 192.2h0.5v0.5h-0.5zM219.1 192.2h0.5v0.5h-0.5zM223.6 192.2h0.5v0.5h-0.5zM227.1 192.2h0.5v0.5h-0.5zM216.6 192.7h0.5v0.5h-0.5zM219.1 192.7h1.0v0.5h-1.0zM225.6 192.7h0.5v0.5h-0.5zM228.1 192.7h0.5v0.5h-0.5zM217.6 193.2h0.5v0.5h-0.5zM221.1 193.2h1.0v0.5h-1.0zM223.6 193.2h0.5v0.5h-0.5zM224.6 193.2h0.5v0.5h-0.5zM229.6 193.2h0.5v0.5h-0.5zM230.6 193.2h1.0v0.5h-1.0zM219.1 193.7h0.5v0.5h-0.5zM221.6 193.7h0.5v0.5h-0.5zM223.1 193.7h0.5v0.5h-0.5zM225.1 193.7h0.5v0.5h-0.5zM228.6 193.7h1.5v0.5h-1.5zM219.6 194.2h0.5v0.5h-0.5zM220.6 194.2h0.5v0.5h-0.5zM222.6 194.2h0.5v0.5h-0.5zM224.6 194.2h0.5v0.5h-0.5zM226.1 194.2h2.0v0.5h-2.0zM231.1 194.2h1.0v0.5h-1.0zM213.1 194.7h0.5v0.5h-0.5zM214.1 194.7h0.5v0.5h-0.5zM216.1 194.7h1.0v0.5h-1.0zM219.1 194.7h1.0v0.5h-1.0zM222.1 194.7h0.5v0.5h-0.5zM223.1 194.7h1.5v0.5h-1.5zM225.1 194.7h1.5v0.5h-1.5zM227.1 194.7h1.5v0.5h-1.5zM230.1 194.7h0.5v0.5h-0.5zM214.6 195.2h0.5v0.5h-0.5zM220.6 195.2h1.5v0.5h-1.5zM223.1 195.2h2.0v0.5h-2.0zM225.6 195.2h2.0v0.5h-2.0zM228.6 195.2h0.5v0.5h-0.5zM231.1 195.2h0.5v0.5h-0.5zM234.6 195.2h0.5v0.5h-0.5zM214.6 195.7h0.5v0.5h-0.5zM216.6 195.7h1.0v0.5h-1.0zM218.6 195.7h4.5v0.5h-4.5zM224.1 195.7h4.0v0.5h-4.0zM231.1 195.7h0.5v0.5h-0.5zM233.1 195.7h0.5v0.5h-0.5zM216.1 196.2h0.5v0.5h-0.5zM217.6 196.2h0.5v0.5h-0.5zM220.1 196.2h2.5v0.5h-2.5zM223.1 196.2h0.5v0.5h-0.5zM224.1 196.2h0.5v0.5h-0.5zM225.1 196.2h3.5v0.5h-3.5zM229.1 196.2h2.5v0.5h-2.5zM232.1 196.2h0.5v0.5h-0.5zM234.1 196.2h0.5v0.5h-0.5zM215.6 196.7h1.0v0.5h-1.0zM217.6 196.7h1.5v0.5h-1.5zM219.6 196.7h9.5v0.5h-9.5zM229.6 196.7h1.0v0.5h-1.0zM233.6 196.7h0.5v0.5h-0.5zM217.1 197.2h0.5v0.5h-0.5zM218.1 197.2h0.5v0.5h-0.5zM219.1 197.2h2.0v0.5h-2.0zM221.6 197.2h8.0v0.5h-8.0zM230.1 197.2h1.0v0.5h-1.0zM232.1 197.2h0.5v0.5h-0.5zM212.6 197.7h0.5v0.5h-0.5zM213.6 197.7h0.5v0.5h-0.5zM215.1 197.7h0.5v0.5h-0.5zM217.6 197.7h7.5v0.5h-7.5zM225.6 197.7h4.0v0.5h-4.0zM230.1 197.7h1.5v0.5h-1.5zM201.1 198.2h0.5v0.5h-0.5zM212.1 198.2h0.5v0.5h-0.5zM214.1 198.2h0.5v0.5h-0.5zM215.6 198.2h5.5v0.5h-5.5zM221.6 198.2h7.5v0.5h-7.5zM229.6 198.2h1.0v0.5h-1.0zM231.1 198.2h0.5v0.5h-0.5zM232.1 198.2h0.5v0.5h-0.5zM213.6 198.7h0.5v0.5h-0.5zM214.6 198.7h0.5v0.5h-0.5zM215.6 198.7h2.5v0.5h-2.5zM218.6 198.7h9.0v0.5h-9.0zM228.1 198.7h4.5v0.5h-4.5zM213.6 199.2h3.0v0.5h-3.0zM217.6 199.2h11.5v0.5h-11.5zM229.6 199.2h1.0v0.5h-1.0zM231.1 199.2h0.5v0.5h-0.5zM232.1 199.2h0.5v0.5h-0.5zM198.6 199.7h0.5v0.5h-0.5zM214.6 199.7h1.5v0.5h-1.5zM216.6 199.7h14.5v0.5h-14.5zM231.6 199.7h0.5v0.5h-0.5zM213.1 200.2h0.5v0.5h-0.5zM216.1 200.2h14.5v0.5h-14.5zM231.6 200.2h0.5v0.5h-0.5zM234.1 200.2h0.5v0.5h-0.5zM213.1 200.7h1.0v0.5h-1.0zM215.1 200.7h16.0v0.5h-16.0zM231.6 200.7h1.0v0.5h-1.0zM213.1 201.2h0.5v0.5h-0.5zM214.1 201.2h17.5v0.5h-17.5zM232.6 201.2h0.5v0.5h-0.5zM209.1 201.7h0.5v0.5h-0.5zM212.6 201.7h0.5v0.5h-0.5zM214.6 201.7h17.0v0.5h-17.0zM232.6 201.7h0.5v0.5h-0.5zM200.6 202.2h0.5v0.5h-0.5zM204.1 202.2h0.5v0.5h-0.5zM205.1 202.2h0.5v0.5h-0.5zM209.1 202.2h0.5v0.5h-0.5zM211.6 202.2h0.5v0.5h-0.5zM213.1 202.2h1.0v0.5h-1.0zM215.1 202.2h18.0v0.5h-18.0zM207.6 202.7h0.5v0.5h-0.5zM213.6 202.7h0.5v0.5h-0.5zM214.6 202.7h17.0v0.5h-17.0zM232.1 202.7h1.0v0.5h-1.0zM203.1 203.2h0.5v0.5h-0.5zM206.1 203.2h0.5v0.5h-0.5zM211.6 203.2h0.5v0.5h-0.5zM213.6 203.2h0.5v0.5h-0.5zM214.6 203.2h0.5v0.5h-0.5zM215.6 203.2h11.5v0.5h-11.5zM227.6 203.2h4.5v0.5h-4.5zM232.6 203.2h0.5v0.5h-0.5zM205.1 203.7h0.5v0.5h-0.5zM213.1 203.7h0.5v0.5h-0.5zM214.6 203.7h17.5v0.5h-17.5zM209.1 204.2h0.5v0.5h-0.5zM213.6 204.2h0.5v0.5h-0.5zM214.6 204.2h0.5v0.5h-0.5zM215.6 204.2h0.5v0.5h-0.5zM216.6 204.2h6.5v0.5h-6.5zM223.6 204.2h7.0v0.5h-7.0zM231.1 204.2h1.0v0.5h-1.0zM232.6 204.2h1.0v0.5h-1.0zM205.6 204.7h0.5v0.5h-0.5zM212.6 204.7h0.5v0.5h-0.5zM214.6 204.7h1.0v0.5h-1.0zM216.1 204.7h9.0v0.5h-9.0zM225.6 204.7h3.0v0.5h-3.0zM229.1 204.7h3.5v0.5h-3.5zM213.6 205.2h0.5v0.5h-0.5zM214.6 205.2h1.0v0.5h-1.0zM216.1 205.2h8.0v0.5h-8.0zM224.6 205.2h1.5v0.5h-1.5zM226.6 205.2h2.5v0.5h-2.5zM229.6 205.2h0.5v0.5h-0.5zM230.6 205.2h2.0v0.5h-2.0zM233.6 205.2h0.5v0.5h-0.5zM203.6 205.7h0.5v0.5h-0.5zM210.6 205.7h0.5v0.5h-0.5zM214.1 205.7h0.5v0.5h-0.5zM215.1 205.7h13.0v0.5h-13.0zM229.1 205.7h0.5v0.5h-0.5zM231.1 205.7h2.5v0.5h-2.5zM234.6 205.7h0.5v0.5h-0.5zM214.6 206.2h0.5v0.5h-0.5zM215.6 206.2h2.0v0.5h-2.0zM218.1 206.2h3.5v0.5h-3.5zM222.1 206.2h3.5v0.5h-3.5zM226.1 206.2h1.0v0.5h-1.0zM227.6 206.2h1.5v0.5h-1.5zM229.6 206.2h1.0v0.5h-1.0zM231.6 206.2h2.0v0.5h-2.0zM215.1 206.7h2.0v0.5h-2.0zM217.6 206.7h8.0v0.5h-8.0zM226.6 206.7h3.5v0.5h-3.5zM231.1 206.7h1.5v0.5h-1.5zM208.1 207.2h0.5v0.5h-0.5zM210.1 207.2h0.5v0.5h-0.5zM214.6 207.2h0.5v0.5h-0.5zM216.6 207.2h4.0v0.5h-4.0zM221.1 207.2h0.5v0.5h-0.5zM222.1 207.2h1.0v0.5h-1.0zM223.6 207.2h6.5v0.5h-6.5zM232.1 207.2h1.0v0.5h-1.0zM233.6 207.2h0.5v0.5h-0.5zM204.1 207.7h0.5v0.5h-0.5zM207.1 207.7h0.5v0.5h-0.5zM211.6 207.7h0.5v0.5h-0.5zM214.1 207.7h2.5v0.5h-2.5zM217.1 207.7h0.5v0.5h-0.5zM218.1 207.7h6.0v0.5h-6.0zM225.1 207.7h2.5v0.5h-2.5zM228.1 207.7h1.5v0.5h-1.5zM230.1 207.7h0.5v0.5h-0.5zM233.6 207.7h0.5v0.5h-0.5zM208.1 208.2h0.5v0.5h-0.5zM211.6 208.2h0.5v0.5h-0.5zM217.1 208.2h0.5v0.5h-0.5zM218.1 208.2h5.0v0.5h-5.0zM223.6 208.2h0.5v0.5h-0.5zM224.6 208.2h2.5v0.5h-2.5zM227.6 208.2h1.0v0.5h-1.0zM229.6 208.2h1.5v0.5h-1.5zM231.6 208.2h0.5v0.5h-0.5zM233.1 208.2h0.5v0.5h-0.5zM205.1 208.7h1.0v0.5h-1.0zM208.6 208.7h0.5v0.5h-0.5zM215.1 208.7h0.5v0.5h-0.5zM217.1 208.7h0.5v0.5h-0.5zM218.1 208.7h1.0v0.5h-1.0zM219.6 208.7h1.5v0.5h-1.5zM222.1 208.7h1.5v0.5h-1.5zM225.1 208.7h3.5v0.5h-3.5zM229.1 208.7h0.5v0.5h-0.5zM231.1 208.7h1.0v0.5h-1.0zM215.6 209.2h3.0v0.5h-3.0zM220.1 209.2h1.5v0.5h-1.5zM222.1 209.2h0.5v0.5h-0.5zM223.1 209.2h0.5v0.5h-0.5zM224.6 209.2h0.5v0.5h-0.5zM225.6 209.2h2.5v0.5h-2.5zM229.1 209.2h1.0v0.5h-1.0zM231.6 209.2h1.0v0.5h-1.0zM216.1 209.7h1.5v0.5h-1.5zM218.1 209.7h0.5v0.5h-0.5zM219.1 209.7h1.5v0.5h-1.5zM221.6 209.7h0.5v0.5h-0.5zM222.6 209.7h0.5v0.5h-0.5zM223.6 209.7h1.5v0.5h-1.5zM225.6 209.7h0.5v0.5h-0.5zM226.6 209.7h0.5v0.5h-0.5zM227.6 209.7h0.5v0.5h-0.5zM229.1 209.7h0.5v0.5h-0.5zM230.6 209.7h1.0v0.5h-1.0zM232.1 209.7h0.5v0.5h-0.5zM233.6 209.7h1.0v0.5h-1.0zM208.1 210.2h0.5v0.5h-0.5zM210.6 210.2h0.5v0.5h-0.5zM215.6 210.2h1.0v0.5h-1.0zM217.1 210.2h2.0v0.5h-2.0zM219.6 210.2h2.0v0.5h-2.0zM222.6 210.2h1.5v0.5h-1.5zM226.1 210.2h1.0v0.5h-1.0zM228.1 210.2h0.5v0.5h-0.5zM229.1 210.2h1.5v0.5h-1.5zM231.6 210.2h0.5v0.5h-0.5zM211.1 210.7h0.5v0.5h-0.5zM212.1 210.7h0.5v0.5h-0.5zM216.1 210.7h3.5v0.5h-3.5zM220.1 210.7h3.0v0.5h-3.0zM223.6 210.7h0.5v0.5h-0.5zM225.1 210.7h2.0v0.5h-2.0zM227.6 210.7h1.0v0.5h-1.0zM229.1 210.7h0.5v0.5h-0.5zM232.1 210.7h1.0v0.5h-1.0zM211.1 211.2h0.5v0.5h-0.5zM212.6 211.2h0.5v0.5h-0.5zM215.1 211.2h1.0v0.5h-1.0zM218.6 211.2h2.0v0.5h-2.0zM221.1 211.2h3.0v0.5h-3.0zM224.6 211.2h0.5v0.5h-0.5zM226.6 211.2h1.0v0.5h-1.0zM228.6 211.2h1.0v0.5h-1.0zM230.1 211.2h2.0v0.5h-2.0zM213.6 211.7h0.5v0.5h-0.5zM217.6 211.7h2.0v0.5h-2.0zM220.1 211.7h1.5v0.5h-1.5zM222.6 211.7h0.5v0.5h-0.5zM223.6 211.7h3.5v0.5h-3.5zM229.1 211.7h1.0v0.5h-1.0zM234.6 211.7h0.5v0.5h-0.5zM211.1 212.2h0.5v0.5h-0.5zM215.1 212.2h1.5v0.5h-1.5zM217.1 212.2h1.5v0.5h-1.5zM220.1 212.2h0.5v0.5h-0.5zM222.1 212.2h0.5v0.5h-0.5zM223.1 212.2h1.0v0.5h-1.0zM225.1 212.2h1.5v0.5h-1.5zM227.1 212.2h1.0v0.5h-1.0zM228.6 212.2h1.0v0.5h-1.0zM232.1 212.2h1.0v0.5h-1.0zM214.6 212.7h2.5v0.5h-2.5zM218.6 212.7h0.5v0.5h-0.5zM220.1 212.7h0.5v0.5h-0.5zM221.1 212.7h1.5v0.5h-1.5zM223.6 212.7h1.0v0.5h-1.0zM225.6 212.7h2.0v0.5h-2.0zM228.6 212.7h1.0v0.5h-1.0zM233.1 212.7h0.5v0.5h-0.5zM208.6 213.2h0.5v0.5h-0.5zM214.1 213.2h0.5v0.5h-0.5zM215.6 213.2h0.5v0.5h-0.5zM217.1 213.2h1.0v0.5h-1.0zM222.1 213.2h1.5v0.5h-1.5zM224.6 213.2h0.5v0.5h-0.5zM225.6 213.2h1.0v0.5h-1.0zM227.1 213.2h0.5v0.5h-0.5zM230.1 213.2h0.5v0.5h-0.5zM212.1 213.7h0.5v0.5h-0.5zM214.1 213.7h1.0v0.5h-1.0zM215.6 213.7h3.5v0.5h-3.5zM219.6 213.7h1.0v0.5h-1.0zM222.1 213.7h1.0v0.5h-1.0zM224.1 213.7h0.5v0.5h-0.5zM225.1 213.7h1.0v0.5h-1.0zM227.6 213.7h1.0v0.5h-1.0zM229.6 213.7h0.5v0.5h-0.5zM230.6 213.7h1.0v0.5h-1.0zM211.1 214.2h0.5v0.5h-0.5zM213.1 214.2h1.0v0.5h-1.0zM214.6 214.2h2.0v0.5h-2.0zM217.1 214.2h1.0v0.5h-1.0zM219.1 214.2h0.5v0.5h-0.5zM220.6 214.2h1.5v0.5h-1.5zM222.6 214.2h2.0v0.5h-2.0zM225.1 214.2h1.0v0.5h-1.0zM228.6 214.2h0.5v0.5h-0.5zM210.1 214.7h0.5v0.5h-0.5zM213.1 214.7h1.5v0.5h-1.5zM218.1 214.7h0.5v0.5h-0.5zM220.1 214.7h1.5v0.5h-1.5zM222.6 214.7h0.5v0.5h-0.5zM223.6 214.7h2.0v0.5h-2.0zM229.1 214.7h0.5v0.5h-0.5zM211.1 215.2h0.5v0.5h-0.5zM212.6 215.2h1.0v0.5h-1.0zM214.6 215.2h1.5v0.5h-1.5zM216.6 215.2h1.0v0.5h-1.0zM218.6 215.2h1.0v0.5h-1.0zM221.1 215.2h0.5v0.5h-0.5zM223.1 215.2h1.0v0.5h-1.0zM224.6 215.2h0.5v0.5h-0.5zM225.6 215.2h0.5v0.5h-0.5zM227.6 215.2h1.0v0.5h-1.0zM229.6 215.2h0.5v0.5h-0.5zM231.1 215.2h0.5v0.5h-0.5zM210.6 215.7h0.5v0.5h-0.5zM211.6 215.7h1.5v0.5h-1.5zM213.6 215.7h0.5v0.5h-0.5zM214.6 215.7h1.0v0.5h-1.0zM216.1 215.7h0.5v0.5h-0.5zM217.1 215.7h0.5v0.5h-0.5zM218.1 215.7h0.5v0.5h-0.5zM219.1 215.7h1.5v0.5h-1.5zM221.6 215.7h0.5v0.5h-0.5zM223.1 215.7h1.0v0.5h-1.0zM229.6 215.7h1.0v0.5h-1.0zM209.1 216.2h1.5v0.5h-1.5zM211.6 216.2h0.5v0.5h-0.5zM214.6 216.2h1.0v0.5h-1.0zM216.6 216.2h0.5v0.5h-0.5zM218.6 216.2h1.0v0.5h-1.0zM220.1 216.2h0.5v0.5h-0.5zM221.1 216.2h0.5v0.5h-0.5zM222.6 216.2h0.5v0.5h-0.5zM224.1 216.2h0.5v0.5h-0.5zM226.1 216.2h0.5v0.5h-0.5zM227.1 216.2h1.0v0.5h-1.0zM229.1 216.2h0.5v0.5h-0.5zM232.6 216.2h0.5v0.5h-0.5zM205.1 216.7h1.0v0.5h-1.0zM207.6 216.7h0.5v0.5h-0.5zM209.6 216.7h3.5v0.5h-3.5zM216.6 216.7h0.5v0.5h-0.5zM219.1 216.7h0.5v0.5h-0.5zM220.1 216.7h1.0v0.5h-1.0zM223.6 216.7h1.0v0.5h-1.0zM227.6 216.7h1.0v0.5h-1.0zM232.6 216.7h0.5v0.5h-0.5zM207.6 217.2h0.5v0.5h-0.5zM209.1 217.2h0.5v0.5h-0.5zM211.1 217.2h0.5v0.5h-0.5zM212.1 217.2h2.0v0.5h-2.0zM215.6 217.2h0.5v0.5h-0.5zM218.1 217.2h1.0v0.5h-1.0zM219.6 217.2h0.5v0.5h-0.5zM220.6 217.2h0.5v0.5h-0.5zM223.6 217.2h0.5v0.5h-0.5zM225.1 217.2h2.0v0.5h-2.0zM227.6 217.2h0.5v0.5h-0.5zM229.1 217.2h0.5v0.5h-0.5zM230.6 217.2h0.5v0.5h-0.5zM203.1 217.7h0.5v0.5h-0.5zM209.6 217.7h0.5v0.5h-0.5zM211.1 217.7h0.5v0.5h-0.5zM212.1 217.7h0.5v0.5h-0.5zM214.1 217.7h0.5v0.5h-0.5zM215.1 217.7h0.5v0.5h-0.5zM219.1 217.7h0.5v0.5h-0.5zM220.6 217.7h0.5v0.5h-0.5zM224.1 217.7h0.5v0.5h-0.5zM232.1 217.7h0.5v0.5h-0.5zM234.1 217.7h0.5v0.5h-0.5zM203.1 218.2h0.5v0.5h-0.5zM204.6 218.2h0.5v0.5h-0.5zM210.1 218.2h0.5v0.5h-0.5zM211.1 218.2h0.5v0.5h-0.5zM215.1 218.2h0.5v0.5h-0.5zM218.6 218.2h0.5v0.5h-0.5zM223.6 218.2h1.0v0.5h-1.0zM225.1 218.2h3.5v0.5h-3.5zM204.6 218.7h0.5v0.5h-0.5zM210.1 218.7h0.5v0.5h-0.5zM212.6 218.7h0.5v0.5h-0.5zM213.6 218.7h0.5v0.5h-0.5zM214.6 218.7h1.0v0.5h-1.0zM217.1 218.7h0.5v0.5h-0.5zM218.6 218.7h0.5v0.5h-0.5zM222.1 218.7h1.0v0.5h-1.0zM223.6 218.7h0.5v0.5h-0.5zM225.1 218.7h0.5v0.5h-0.5zM226.1 218.7h0.5v0.5h-0.5zM228.6 218.7h1.0v0.5h-1.0zM230.6 218.7h1.0v0.5h-1.0zM232.1 218.7h0.5v0.5h-0.5zM233.1 218.7h0.5v0.5h-0.5zM204.6 219.2h0.5v0.5h-0.5zM208.1 219.2h0.5v0.5h-0.5zM209.1 219.2h1.0v0.5h-1.0zM212.1 219.2h1.0v0.5h-1.0zM213.6 219.2h0.5v0.5h-0.5zM214.6 219.2h0.5v0.5h-0.5zM216.1 219.2h1.0v0.5h-1.0zM225.6 219.2h0.5v0.5h-0.5zM226.6 219.2h0.5v0.5h-0.5zM230.6 219.2h0.5v0.5h-0.5zM199.6 219.7h0.5v0.5h-0.5zM206.1 219.7h0.5v0.5h-0.5zM208.6 219.7h1.5v0.5h-1.5zM211.1 219.7h3.5v0.5h-3.5zM215.1 219.7h0.5v0.5h-0.5zM221.1 219.7h0.5v0.5h-0.5zM222.1 219.7h0.5v0.5h-0.5zM223.1 219.7h1.0v0.5h-1.0zM224.6 219.7h1.0v0.5h-1.0zM226.1 219.7h0.5v0.5h-0.5zM228.1 219.7h1.0v0.5h-1.0zM230.6 219.7h0.5v0.5h-0.5zM233.1 219.7h1.0v0.5h-1.0zM206.6 220.2h0.5v0.5h-0.5zM208.6 220.2h0.5v0.5h-0.5zM210.6 220.2h2.5v0.5h-2.5zM215.1 220.2h1.0v0.5h-1.0zM217.1 220.2h0.5v0.5h-0.5zM218.6 220.2h0.5v0.5h-0.5zM220.1 220.2h0.5v0.5h-0.5zM221.6 220.2h1.0v0.5h-1.0zM223.1 220.2h0.5v0.5h-0.5zM224.6 220.2h0.5v0.5h-0.5zM226.1 220.2h1.0v0.5h-1.0zM230.6 220.2h1.0v0.5h-1.0zM203.1 220.7h1.0v0.5h-1.0zM207.6 220.7h0.5v0.5h-0.5zM209.1 220.7h0.5v0.5h-0.5zM210.1 220.7h0.5v0.5h-0.5zM211.6 220.7h0.5v0.5h-0.5zM214.1 220.7h2.0v0.5h-2.0zM217.1 220.7h0.5v0.5h-0.5zM219.6 220.7h1.0v0.5h-1.0zM222.6 220.7h1.5v0.5h-1.5zM224.6 220.7h1.5v0.5h-1.5zM226.6 220.7h0.5v0.5h-0.5zM227.6 220.7h1.5v0.5h-1.5zM230.6 220.7h0.5v0.5h-0.5zM232.1 220.7h1.0v0.5h-1.0zM235.1 220.7h0.5v0.5h-0.5zM200.1 221.2h0.5v0.5h-0.5zM207.6 221.2h0.5v0.5h-0.5zM208.6 221.2h0.5v0.5h-0.5zM210.6 221.2h2.0v0.5h-2.0zM213.1 221.2h0.5v0.5h-0.5zM214.1 221.2h2.5v0.5h-2.5zM217.6 221.2h3.0v0.5h-3.0zM221.1 221.2h7.5v0.5h-7.5zM230.1 221.2h1.0v0.5h-1.0zM231.6 221.2h0.5v0.5h-0.5zM202.6 221.7h0.5v0.5h-0.5zM206.1 221.7h0.5v0.5h-0.5zM207.6 221.7h2.0v0.5h-2.0zM210.1 221.7h0.5v0.5h-0.5zM211.1 221.7h0.5v0.5h-0.5zM212.1 221.7h5.0v0.5h-5.0zM218.1 221.7h1.0v0.5h-1.0zM219.6 221.7h0.5v0.5h-0.5zM221.1 221.7h7.0v0.5h-7.0zM228.6 221.7h1.5v0.5h-1.5zM230.6 221.7h0.5v0.5h-0.5zM232.1 221.7h2.0v0.5h-2.0zM201.1 222.2h0.5v0.5h-0.5zM202.1 222.2h0.5v0.5h-0.5zM204.1 222.2h0.5v0.5h-0.5zM206.1 222.2h0.5v0.5h-0.5zM207.6 222.2h2.0v0.5h-2.0zM210.6 222.2h2.0v0.5h-2.0zM213.6 222.2h3.5v0.5h-3.5zM218.1 222.2h3.0v0.5h-3.0zM221.6 222.2h10.5v0.5h-10.5zM233.6 222.2h0.5v0.5h-0.5zM200.6 222.7h0.5v0.5h-0.5zM205.1 222.7h1.5v0.5h-1.5zM207.1 222.7h1.0v0.5h-1.0zM211.1 222.7h0.5v0.5h-0.5zM213.1 222.7h4.5v0.5h-4.5zM218.1 222.7h3.0v0.5h-3.0zM221.6 222.7h7.0v0.5h-7.0zM229.1 222.7h0.5v0.5h-0.5zM230.1 222.7h2.0v0.5h-2.0zM234.6 222.7h0.5v0.5h-0.5zM205.6 223.2h2.0v0.5h-2.0zM208.6 223.2h0.5v0.5h-0.5zM209.6 223.2h0.5v0.5h-0.5zM210.6 223.2h0.5v0.5h-0.5zM211.6 223.2h1.0v0.5h-1.0zM213.6 223.2h1.5v0.5h-1.5zM215.6 223.2h1.0v0.5h-1.0zM217.1 223.2h7.5v0.5h-7.5zM225.1 223.2h2.0v0.5h-2.0zM227.6 223.2h3.0v0.5h-3.0zM231.1 223.2h2.0v0.5h-2.0zM233.6 223.2h0.5v0.5h-0.5zM235.6 223.2h0.5v0.5h-0.5zM189.1 223.7h0.5v0.5h-0.5zM203.6 223.7h1.0v0.5h-1.0zM207.1 223.7h2.5v0.5h-2.5zM210.6 223.7h1.5v0.5h-1.5zM212.6 223.7h12.0v0.5h-12.0zM225.1 223.7h2.0v0.5h-2.0zM227.6 223.7h1.0v0.5h-1.0zM229.1 223.7h3.5v0.5h-3.5zM233.6 223.7h0.5v0.5h-0.5zM196.6 224.2h0.5v0.5h-0.5zM205.6 224.2h0.5v0.5h-0.5zM206.6 224.2h0.5v0.5h-0.5zM207.6 224.2h1.0v0.5h-1.0zM209.1 224.2h17.0v0.5h-17.0zM226.6 224.2h5.5v0.5h-5.5zM233.1 224.2h0.5v0.5h-0.5zM193.6 224.7h0.5v0.5h-0.5zM203.1 224.7h0.5v0.5h-0.5zM204.6 224.7h0.5v0.5h-0.5zM206.1 224.7h6.5v0.5h-6.5zM213.6 224.7h14.5v0.5h-14.5zM228.6 224.7h4.0v0.5h-4.0zM233.1 224.7h0.5v0.5h-0.5zM190.6 225.2h0.5v0.5h-0.5zM193.1 225.2h0.5v0.5h-0.5zM196.1 225.2h2.5v0.5h-2.5zM201.1 225.2h1.0v0.5h-1.0zM203.1 225.2h0.5v0.5h-0.5zM204.6 225.2h8.0v0.5h-8.0zM213.6 225.2h1.0v0.5h-1.0zM215.1 225.2h18.0v0.5h-18.0zM233.6 225.2h1.0v0.5h-1.0zM189.1 225.7h0.5v0.5h-0.5zM191.1 225.7h0.5v0.5h-0.5zM193.1 225.7h0.5v0.5h-0.5zM198.6 225.7h1.0v0.5h-1.0zM202.6 225.7h1.5v0.5h-1.5zM205.1 225.7h21.0v0.5h-21.0zM226.6 225.7h6.0v0.5h-6.0zM233.1 225.7h1.5v0.5h-1.5zM191.1 226.2h1.0v0.5h-1.0zM193.6 226.2h0.5v0.5h-0.5zM199.1 226.2h1.0v0.5h-1.0zM200.6 226.2h1.0v0.5h-1.0zM202.1 226.2h0.5v0.5h-0.5zM205.1 226.2h0.5v0.5h-0.5zM206.6 226.2h6.0v0.5h-6.0zM213.1 226.2h19.0v0.5h-19.0zM232.6 226.2h1.0v0.5h-1.0zM234.6 226.2h1.0v0.5h-1.0zM236.1 226.2h0.5v0.5h-0.5zM189.1 226.7h0.5v0.5h-0.5zM190.6 226.7h0.5v0.5h-0.5zM192.1 226.7h0.5v0.5h-0.5zM194.1 226.7h0.5v0.5h-0.5zM195.1 226.7h1.5v0.5h-1.5zM197.1 226.7h0.5v0.5h-0.5zM198.6 226.7h0.5v0.5h-0.5zM199.6 226.7h0.5v0.5h-0.5zM200.6 226.7h0.5v0.5h-0.5zM202.1 226.7h0.5v0.5h-0.5zM203.1 226.7h0.5v0.5h-0.5zM204.6 226.7h30.0v0.5h-30.0zM235.1 226.7h0.5v0.5h-0.5zM187.6 227.2h0.5v0.5h-0.5zM188.6 227.2h0.5v0.5h-0.5zM190.1 227.2h0.5v0.5h-0.5zM191.1 227.2h0.5v0.5h-0.5zM192.1 227.2h1.0v0.5h-1.0zM193.6 227.2h2.5v0.5h-2.5zM197.1 227.2h0.5v0.5h-0.5zM198.6 227.2h0.5v0.5h-0.5zM199.6 227.2h0.5v0.5h-0.5zM200.6 227.2h1.0v0.5h-1.0zM202.1 227.2h31.5v0.5h-31.5zM234.1 227.2h1.0v0.5h-1.0zM188.1 227.7h0.5v0.5h-0.5zM191.6 227.7h1.0v0.5h-1.0zM193.6 227.7h1.5v0.5h-1.5zM196.1 227.7h1.5v0.5h-1.5zM198.1 227.7h1.0v0.5h-1.0zM199.6 227.7h2.0v0.5h-2.0zM202.1 227.7h32.5v0.5h-32.5zM187.6 228.2h1.5v0.5h-1.5zM189.6 228.2h0.5v0.5h-0.5zM190.6 228.2h1.0v0.5h-1.0zM192.1 228.2h6.0v0.5h-6.0zM198.6 228.2h0.5v0.5h-0.5zM201.6 228.2h0.5v0.5h-0.5zM202.6 228.2h2.5v0.5h-2.5zM205.6 228.2h29.5v0.5h-29.5zM187.1 228.7h1.5v0.5h-1.5zM189.1 228.7h0.5v0.5h-0.5zM190.1 228.7h0.5v0.5h-0.5zM191.1 228.7h0.5v0.5h-0.5zM192.1 228.7h4.5v0.5h-4.5zM197.1 228.7h1.5v0.5h-1.5zM199.1 228.7h0.5v0.5h-0.5zM200.1 228.7h32.5v0.5h-32.5zM233.1 228.7h1.0v0.5h-1.0zM234.6 228.7h0.5v0.5h-0.5zM187.1 229.2h2.0v0.5h-2.0zM189.6 229.2h8.5v0.5h-8.5zM198.6 229.2h0.5v0.5h-0.5zM199.6 229.2h0.5v0.5h-0.5zM200.6 229.2h34.0v0.5h-34.0zM187.1 229.7h3.0v0.5h-3.0zM190.6 229.7h8.0v0.5h-8.0zM199.1 229.7h0.5v0.5h-0.5zM200.6 229.7h33.0v0.5h-33.0zM234.1 229.7h0.5v0.5h-0.5zM187.1 230.2h1.5v0.5h-1.5zM189.1 230.2h2.0v0.5h-2.0zM191.6 230.2h9.5v0.5h-9.5zM202.1 230.2h3.0v0.5h-3.0zM205.6 230.2h29.5v0.5h-29.5zM187.1 230.7h13.5v0.5h-13.5zM201.1 230.7h33.0v0.5h-33.0zM187.1 231.2h13.0v0.5h-13.0zM201.1 231.2h29.0v0.5h-29.0zM230.6 231.2h1.5v0.5h-1.5zM233.1 231.2h1.5v0.5h-1.5zM235.1 231.2h0.5v0.5h-0.5zM187.1 231.7h46.0v0.5h-46.0zM234.1 231.7h1.0v0.5h-1.0zM236.6 231.7h0.5v0.5h-0.5z" fill="#000" stroke="none"/>
<rect x="187.1" y="180.2" width="65.9" height="52.2" fill="none" stroke="#333" stroke-width="0.7"/>
<line x1="210" y1="180.2" x2="210" y2="232.4" stroke="#333" stroke-width="0.6"/>
<line x1="187.1" y1="212.6" x2="253.0" y2="212.6" stroke="#333" stroke-width="0.6"/>
<line x1="187.1" y1="232.4" x2="187.1" y2="233.4" stroke="#333" stroke-width="0.6"/>
<line x1="183.6" y1="231.6" x2="184.79999999999998" y2="231.6" stroke="#222" stroke-width="0.7"/>
<text x="188.1" y="237.0" font-size="3.8" text-anchor="middle" fill="#111" font-weight="bold">10<tspan font-size="2.4" dy="-1">0</tspan></text>
<text x="185.9" y="234.7" font-size="3.8" text-anchor="end" fill="#111" font-weight="bold">10<tspan font-size="2.4" dy="-1">0</tspan></text>
<line x1="203.575" y1="232.4" x2="203.575" y2="233.4" stroke="#333" stroke-width="0.6"/>
<line x1="183.6" y1="218.54999999999998" x2="184.79999999999998" y2="218.54999999999998" stroke="#222" stroke-width="0.7"/>
<text x="204.6" y="237.0" font-size="3.8" text-anchor="middle" fill="#111" font-weight="bold">10<tspan font-size="2.4" dy="-1">1</tspan></text>
<text x="185.9" y="221.7" font-size="3.8" text-anchor="end" fill="#111" font-weight="bold">10<tspan font-size="2.4" dy="-1">1</tspan></text>
<line x1="220.05" y1="232.4" x2="220.05" y2="233.4" stroke="#333" stroke-width="0.6"/>
<line x1="183.6" y1="205.5" x2="184.79999999999998" y2="205.5" stroke="#222" stroke-width="0.7"/>
<text x="221.1" y="237.0" font-size="3.8" text-anchor="middle" fill="#111" font-weight="bold">10<tspan font-size="2.4" dy="-1">2</tspan></text>
<text x="185.9" y="208.6" font-size="3.8" text-anchor="end" fill="#111" font-weight="bold">10<tspan font-size="2.4" dy="-1">2</tspan></text>
<line x1="236.525" y1="232.4" x2="236.525" y2="233.4" stroke="#333" stroke-width="0.6"/>
<line x1="183.6" y1="192.45" x2="184.79999999999998" y2="192.45" stroke="#222" stroke-width="0.7"/>
<text x="237.5" y="237.0" font-size="3.8" text-anchor="middle" fill="#111" font-weight="bold">10<tspan font-size="2.4" dy="-1">3</tspan></text>
<text x="185.9" y="195.6" font-size="3.8" text-anchor="end" fill="#111" font-weight="bold">10<tspan font-size="2.4" dy="-1">3</tspan></text>
<line x1="253.0" y1="232.4" x2="253.0" y2="233.4" stroke="#333" stroke-width="0.6"/>
<line x1="183.6" y1="179.39999999999998" x2="184.79999999999998" y2="179.39999999999998" stroke="#222" stroke-width="0.7"/>
<text x="254.0" y="237.0" font-size="3.8" text-anchor="middle" fill="#111" font-weight="bold">10<tspan font-size="2.4" dy="-1">4</tspan></text>
<text x="185.9" y="182.5" font-size="3.8" text-anchor="end" fill="#111" font-weight="bold">10<tspan font-size="2.4" dy="-1">4</tspan></text>
<text x="252.2" y="188.39999999999998" font-size="9.4" text-anchor="end" font-weight="normal" >9%</text>
<path d="M64.3 257.3h0.5v0.5h-0.5zM67.3 257.8h0.5v0.5h-0.5zM65.8 258.8h0.5v0.5h-0.5zM68.3 258.8h0.5v0.5h-0.5zM65.3 259.8h0.5v0.5h-0.5zM62.3 260.3h0.5v0.5h-0.5zM63.3 260.3h0.5v0.5h-0.5zM65.3 260.3h2.0v0.5h-2.0zM73.3 260.3h0.5v0.5h-0.5zM64.8 260.8h2.5v0.5h-2.5zM70.3 260.8h0.5v0.5h-0.5zM60.8 261.3h0.5v0.5h-0.5zM61.8 261.3h1.0v0.5h-1.0zM63.3 261.3h0.5v0.5h-0.5zM64.3 261.3h2.0v0.5h-2.0zM66.8 261.3h1.0v0.5h-1.0zM41.3 261.8h0.5v0.5h-0.5zM44.8 261.8h0.5v0.5h-0.5zM57.8 261.8h0.5v0.5h-0.5zM62.8 261.8h0.5v0.5h-0.5zM64.3 261.8h1.0v0.5h-1.0zM65.8 261.8h2.5v0.5h-2.5zM70.3 261.8h0.5v0.5h-0.5zM59.3 262.3h0.5v0.5h-0.5zM62.8 262.3h1.0v0.5h-1.0zM64.8 262.3h2.0v0.5h-2.0zM67.3 262.3h1.5v0.5h-1.5zM70.3 262.3h0.5v0.5h-0.5zM49.3 262.8h0.5v0.5h-0.5zM60.3 262.8h1.0v0.5h-1.0zM61.8 262.8h0.5v0.5h-0.5zM63.3 262.8h5.5v0.5h-5.5zM69.8 262.8h0.5v0.5h-0.5zM71.3 262.8h0.5v0.5h-0.5zM46.3 263.3h0.5v0.5h-0.5zM61.8 263.3h0.5v0.5h-0.5zM62.8 263.3h0.5v0.5h-0.5zM63.8 263.3h1.5v0.5h-1.5zM65.8 263.3h1.5v0.5h-1.5zM67.8 263.3h0.5v0.5h-0.5zM69.3 263.3h1.5v0.5h-1.5zM41.3 263.8h0.5v0.5h-0.5zM44.3 263.8h0.5v0.5h-0.5zM47.3 263.8h1.0v0.5h-1.0zM48.8 263.8h0.5v0.5h-0.5zM58.8 263.8h1.0v0.5h-1.0zM62.3 263.8h0.5v0.5h-0.5zM63.3 263.8h3.5v0.5h-3.5zM67.3 263.8h1.0v0.5h-1.0zM68.8 263.8h1.5v0.5h-1.5zM41.8 264.3h0.5v0.5h-0.5zM43.3 264.3h0.5v0.5h-0.5zM60.8 264.3h0.5v0.5h-0.5zM61.8 264.3h8.0v0.5h-8.0zM70.3 264.3h0.5v0.5h-0.5zM71.8 264.3h1.0v0.5h-1.0zM48.8 264.8h0.5v0.5h-0.5zM62.3 264.8h6.5v0.5h-6.5zM69.3 264.8h0.5v0.5h-0.5zM71.3 264.8h0.5v0.5h-0.5zM39.3 265.3h0.5v0.5h-0.5zM40.8 265.3h1.0v0.5h-1.0zM59.3 265.3h0.5v0.5h-0.5zM60.3 265.3h0.5v0.5h-0.5zM61.3 265.3h4.0v0.5h-4.0zM65.8 265.3h2.0v0.5h-2.0zM68.3 265.3h0.5v0.5h-0.5zM69.3 265.3h0.5v0.5h-0.5zM38.3 265.8h0.5v0.5h-0.5zM40.3 265.8h0.5v0.5h-0.5zM41.8 265.8h1.5v0.5h-1.5zM43.8 265.8h0.5v0.5h-0.5zM52.3 265.8h0.5v0.5h-0.5zM60.8 265.8h0.5v0.5h-0.5zM61.8 265.8h0.5v0.5h-0.5zM62.8 265.8h4.5v0.5h-4.5zM68.3 265.8h1.0v0.5h-1.0zM69.8 265.8h0.5v0.5h-0.5zM44.3 266.3h1.0v0.5h-1.0zM47.3 266.3h0.5v0.5h-0.5zM48.3 266.3h0.5v0.5h-0.5zM58.3 266.3h0.5v0.5h-0.5zM59.3 266.3h0.5v0.5h-0.5zM61.3 266.3h1.5v0.5h-1.5zM63.3 266.3h4.5v0.5h-4.5zM68.3 266.3h0.5v0.5h-0.5zM70.3 266.3h0.5v0.5h-0.5zM39.8 266.8h0.5v0.5h-0.5zM41.3 266.8h0.5v0.5h-0.5zM44.8 266.8h0.5v0.5h-0.5zM61.3 266.8h1.5v0.5h-1.5zM63.3 266.8h4.0v0.5h-4.0zM67.8 266.8h1.5v0.5h-1.5zM36.8 267.3h0.5v0.5h-0.5zM43.3 267.3h0.5v0.5h-0.5zM44.3 267.3h0.5v0.5h-0.5zM48.8 267.3h0.5v0.5h-0.5zM50.3 267.3h0.5v0.5h-0.5zM59.3 267.3h0.5v0.5h-0.5zM62.8 267.3h6.0v0.5h-6.0zM59.3 267.8h0.5v0.5h-0.5zM60.3 267.8h0.5v0.5h-0.5zM62.3 267.8h0.5v0.5h-0.5zM63.8 267.8h3.5v0.5h-3.5zM68.3 267.8h0.5v0.5h-0.5zM42.3 268.3h0.5v0.5h-0.5zM43.3 268.3h0.5v0.5h-0.5zM46.3 268.3h0.5v0.5h-0.5zM47.3 268.3h0.5v0.5h-0.5zM48.3 268.3h0.5v0.5h-0.5zM55.3 268.3h1.0v0.5h-1.0zM59.8 268.3h0.5v0.5h-0.5zM60.8 268.3h0.5v0.5h-0.5zM62.3 268.3h0.5v0.5h-0.5zM63.3 268.3h1.0v0.5h-1.0zM64.8 268.3h1.0v0.5h-1.0zM66.3 268.3h0.5v0.5h-0.5zM67.3 268.3h0.5v0.5h-0.5zM70.3 268.3h0.5v0.5h-0.5zM40.3 268.8h0.5v0.5h-0.5zM46.3 268.8h0.5v0.5h-0.5zM61.3 268.8h1.0v0.5h-1.0zM64.3 268.8h1.0v0.5h-1.0zM65.8 268.8h0.5v0.5h-0.5zM66.8 268.8h0.5v0.5h-0.5zM67.8 268.8h0.5v0.5h-0.5zM70.3 268.8h0.5v0.5h-0.5zM61.8 269.3h2.5v0.5h-2.5zM67.3 269.3h0.5v0.5h-0.5zM69.3 269.3h0.5v0.5h-0.5zM70.3 269.3h0.5v0.5h-0.5zM38.3 269.8h0.5v0.5h-0.5zM39.8 269.8h0.5v0.5h-0.5zM62.3 269.8h0.5v0.5h-0.5zM63.8 269.8h0.5v0.5h-0.5zM58.8 270.3h0.5v0.5h-0.5zM62.3 270.3h0.5v0.5h-0.5zM64.3 270.3h0.5v0.5h-0.5zM66.8 270.3h0.5v0.5h-0.5zM67.8 270.3h0.5v0.5h-0.5zM58.8 270.8h0.5v0.5h-0.5zM63.8 270.8h0.5v0.5h-0.5zM65.8 270.8h0.5v0.5h-0.5zM60.3 271.3h0.5v0.5h-0.5zM64.8 271.3h1.0v0.5h-1.0zM57.8 271.8h1.5v0.5h-1.5zM59.8 271.8h0.5v0.5h-0.5zM60.8 271.8h0.5v0.5h-0.5zM63.3 271.8h0.5v0.5h-0.5zM64.8 271.8h0.5v0.5h-0.5zM66.3 271.8h0.5v0.5h-0.5zM68.3 271.8h0.5v0.5h-0.5zM69.3 271.8h0.5v0.5h-0.5zM57.8 272.3h0.5v0.5h-0.5zM60.3 272.3h0.5v0.5h-0.5zM64.8 272.3h0.5v0.5h-0.5zM72.3 272.3h0.5v0.5h-0.5zM37.8 272.8h0.5v0.5h-0.5zM57.8 272.8h0.5v0.5h-0.5zM60.8 272.8h0.5v0.5h-0.5zM61.8 272.8h0.5v0.5h-0.5zM66.8 272.8h1.0v0.5h-1.0zM43.3 273.3h0.5v0.5h-0.5zM60.3 273.3h0.5v0.5h-0.5zM65.8 273.3h1.5v0.5h-1.5zM67.8 273.3h0.5v0.5h-0.5zM69.8 273.3h0.5v0.5h-0.5zM72.3 273.3h0.5v0.5h-0.5zM60.8 273.8h0.5v0.5h-0.5zM64.3 273.8h0.5v0.5h-0.5zM65.3 273.8h1.0v0.5h-1.0zM71.3 273.8h0.5v0.5h-0.5zM54.8 274.3h0.5v0.5h-0.5zM57.8 274.3h0.5v0.5h-0.5zM58.8 274.3h0.5v0.5h-0.5zM60.3 274.3h0.5v0.5h-0.5zM62.8 274.3h0.5v0.5h-0.5zM63.8 274.3h0.5v0.5h-0.5zM64.8 274.3h0.5v0.5h-0.5zM66.3 274.3h0.5v0.5h-0.5zM68.3 274.3h0.5v0.5h-0.5zM70.8 274.3h0.5v0.5h-0.5zM46.8 274.8h0.5v0.5h-0.5zM50.8 274.8h0.5v0.5h-0.5zM58.3 274.8h1.0v0.5h-1.0zM60.8 274.8h0.5v0.5h-0.5zM62.3 274.8h0.5v0.5h-0.5zM63.8 274.8h0.5v0.5h-0.5zM65.3 274.8h2.0v0.5h-2.0zM67.8 274.8h1.5v0.5h-1.5zM69.8 274.8h0.5v0.5h-0.5zM71.3 274.8h0.5v0.5h-0.5zM55.3 275.3h0.5v0.5h-0.5zM56.3 275.3h0.5v0.5h-0.5zM57.3 275.3h0.5v0.5h-0.5zM58.3 275.3h0.5v0.5h-0.5zM60.3 275.3h0.5v0.5h-0.5zM61.8 275.3h0.5v0.5h-0.5zM63.3 275.3h1.0v0.5h-1.0zM65.8 275.3h0.5v0.5h-0.5zM66.8 275.3h1.5v0.5h-1.5zM68.8 275.3h1.0v0.5h-1.0zM70.3 275.3h0.5v0.5h-0.5zM71.3 275.3h1.5v0.5h-1.5zM56.8 275.8h0.5v0.5h-0.5zM58.3 275.8h1.0v0.5h-1.0zM60.8 275.8h1.0v0.5h-1.0zM63.8 275.8h1.0v0.5h-1.0zM65.3 275.8h2.5v0.5h-2.5zM68.3 275.8h0.5v0.5h-0.5zM70.3 275.8h0.5v0.5h-0.5zM71.8 275.8h1.0v0.5h-1.0zM73.3 275.8h0.5v0.5h-0.5zM58.8 276.3h0.5v0.5h-0.5zM65.3 276.3h1.5v0.5h-1.5zM67.3 276.3h0.5v0.5h-0.5zM68.3 276.3h1.0v0.5h-1.0zM72.8 276.3h1.0v0.5h-1.0zM56.3 276.8h0.5v0.5h-0.5zM59.3 276.8h1.5v0.5h-1.5zM62.3 276.8h0.5v0.5h-0.5zM64.3 276.8h0.5v0.5h-0.5zM66.3 276.8h0.5v0.5h-0.5zM67.8 276.8h0.5v0.5h-0.5zM72.3 276.8h1.0v0.5h-1.0zM48.3 277.3h0.5v0.5h-0.5zM53.8 277.3h0.5v0.5h-0.5zM58.3 277.3h0.5v0.5h-0.5zM59.8 277.3h0.5v0.5h-0.5zM62.3 277.3h0.5v0.5h-0.5zM63.3 277.3h2.0v0.5h-2.0zM66.8 277.3h1.5v0.5h-1.5zM68.8 277.3h0.5v0.5h-0.5zM72.3 277.3h0.5v0.5h-0.5zM55.3 277.8h0.5v0.5h-0.5zM62.8 277.8h1.5v0.5h-1.5zM65.3 277.8h2.0v0.5h-2.0zM67.8 277.8h1.0v0.5h-1.0zM70.8 277.8h2.0v0.5h-2.0zM56.3 278.3h0.5v0.5h-0.5zM58.3 278.3h0.5v0.5h-0.5zM60.3 278.3h0.5v0.5h-0.5zM62.3 278.3h1.0v0.5h-1.0zM63.8 278.3h0.5v0.5h-0.5zM65.3 278.3h0.5v0.5h-0.5zM66.3 278.3h0.5v0.5h-0.5zM68.3 278.3h2.0v0.5h-2.0zM70.8 278.3h2.0v0.5h-2.0zM51.3 278.8h0.5v0.5h-0.5zM53.3 278.8h1.0v0.5h-1.0zM56.3 278.8h1.0v0.5h-1.0zM58.8 278.8h1.5v0.5h-1.5zM60.8 278.8h0.5v0.5h-0.5zM61.8 278.8h0.5v0.5h-0.5zM63.8 278.8h0.5v0.5h-0.5zM64.8 278.8h0.5v0.5h-0.5zM65.8 278.8h5.0v0.5h-5.0zM71.3 278.8h0.5v0.5h-0.5zM72.8 278.8h0.5v0.5h-0.5zM56.8 279.3h0.5v0.5h-0.5zM57.8 279.3h0.5v0.5h-0.5zM58.8 279.3h1.0v0.5h-1.0zM61.3 279.3h1.0v0.5h-1.0zM62.8 279.3h0.5v0.5h-0.5zM64.3 279.3h4.0v0.5h-4.0zM68.8 279.3h1.0v0.5h-1.0zM70.3 279.3h0.5v0.5h-0.5zM71.3 279.3h0.5v0.5h-0.5zM72.8 279.3h0.5v0.5h-0.5zM46.8 279.8h0.5v0.5h-0.5zM52.8 279.8h0.5v0.5h-0.5zM54.3 279.8h0.5v0.5h-0.5zM56.8 279.8h1.0v0.5h-1.0zM59.3 279.8h0.5v0.5h-0.5zM60.3 279.8h2.0v0.5h-2.0zM62.8 279.8h0.5v0.5h-0.5zM63.8 279.8h1.5v0.5h-1.5zM65.8 279.8h1.0v0.5h-1.0zM67.8 279.8h5.0v0.5h-5.0zM44.3 280.3h0.5v0.5h-0.5zM52.8 280.3h0.5v0.5h-0.5zM56.8 280.3h1.5v0.5h-1.5zM59.3 280.3h1.5v0.5h-1.5zM61.3 280.3h2.0v0.5h-2.0zM63.8 280.3h4.5v0.5h-4.5zM68.8 280.3h3.5v0.5h-3.5zM41.8 280.8h0.5v0.5h-0.5zM52.3 280.8h1.0v0.5h-1.0zM60.3 280.8h1.5v0.5h-1.5zM62.8 280.8h1.0v0.5h-1.0zM64.3 280.8h8.5v0.5h-8.5zM28.8 281.3h0.5v0.5h-0.5zM35.3 281.3h1.0v0.5h-1.0zM39.3 281.3h0.5v0.5h-0.5zM48.3 281.3h1.0v0.5h-1.0zM51.8 281.3h0.5v0.5h-0.5zM52.8 281.3h1.0v0.5h-1.0zM58.3 281.3h0.5v0.5h-0.5zM60.8 281.3h0.5v0.5h-0.5zM61.8 281.3h1.0v0.5h-1.0zM63.3 281.3h0.5v0.5h-0.5zM64.3 281.3h1.0v0.5h-1.0zM65.8 281.3h1.5v0.5h-1.5zM68.3 281.3h2.0v0.5h-2.0zM70.8 281.3h3.0v0.5h-3.0zM40.8 281.8h0.5v0.5h-0.5zM50.8 281.8h0.5v0.5h-0.5zM52.8 281.8h0.5v0.5h-0.5zM55.3 281.8h0.5v0.5h-0.5zM60.3 281.8h1.0v0.5h-1.0zM62.3 281.8h3.0v0.5h-3.0zM65.8 281.8h5.0v0.5h-5.0zM71.3 281.8h1.0v0.5h-1.0zM72.8 281.8h0.5v0.5h-0.5zM52.3 282.3h0.5v0.5h-0.5zM53.8 282.3h1.5v0.5h-1.5zM56.8 282.3h1.5v0.5h-1.5zM58.8 282.3h0.5v0.5h-0.5zM60.3 282.3h1.0v0.5h-1.0zM61.8 282.3h1.5v0.5h-1.5zM63.8 282.3h1.0v0.5h-1.0zM65.3 282.3h0.5v0.5h-0.5zM66.8 282.3h4.0v0.5h-4.0zM71.3 282.3h1.0v0.5h-1.0zM72.8 282.3h0.5v0.5h-0.5zM42.8 282.8h0.5v0.5h-0.5zM43.8 282.8h1.0v0.5h-1.0zM47.8 282.8h0.5v0.5h-0.5zM50.8 282.8h0.5v0.5h-0.5zM52.3 282.8h0.5v0.5h-0.5zM53.8 282.8h0.5v0.5h-0.5zM58.3 282.8h0.5v0.5h-0.5zM59.8 282.8h1.0v0.5h-1.0zM61.3 282.8h0.5v0.5h-0.5zM62.8 282.8h1.5v0.5h-1.5zM64.8 282.8h0.5v0.5h-0.5zM65.8 282.8h2.0v0.5h-2.0zM68.3 282.8h4.0v0.5h-4.0zM72.8 282.8h0.5v0.5h-0.5zM38.8 283.3h1.5v0.5h-1.5zM42.8 283.3h1.0v0.5h-1.0zM47.8 283.3h0.5v0.5h-0.5zM48.8 283.3h0.5v0.5h-0.5zM51.8 283.3h0.5v0.5h-0.5zM55.3 283.3h0.5v0.5h-0.5zM56.8 283.3h0.5v0.5h-0.5zM58.8 283.3h15.0v0.5h-15.0zM35.8 283.8h0.5v0.5h-0.5zM36.8 283.8h0.5v0.5h-0.5zM46.8 283.8h0.5v0.5h-0.5zM49.3 283.8h0.5v0.5h-0.5zM55.3 283.8h0.5v0.5h-0.5zM56.8 283.8h0.5v0.5h-0.5zM57.8 283.8h1.0v0.5h-1.0zM60.3 283.8h13.5v0.5h-13.5zM32.3 284.3h0.5v0.5h-0.5zM34.3 284.3h0.5v0.5h-0.5zM37.3 284.3h0.5v0.5h-0.5zM38.8 284.3h0.5v0.5h-0.5zM41.8 284.3h0.5v0.5h-0.5zM42.8 284.3h0.5v0.5h-0.5zM49.3 284.3h0.5v0.5h-0.5zM51.3 284.3h0.5v0.5h-0.5zM52.3 284.3h0.5v0.5h-0.5zM57.3 284.3h16.5v0.5h-16.5zM38.3 284.8h0.5v0.5h-0.5zM39.8 284.8h0.5v0.5h-0.5zM42.3 284.8h0.5v0.5h-0.5zM46.8 284.8h0.5v0.5h-0.5zM48.3 284.8h0.5v0.5h-0.5zM50.3 284.8h1.0v0.5h-1.0zM51.8 284.8h0.5v0.5h-0.5zM53.8 284.8h0.5v0.5h-0.5zM55.8 284.8h1.5v0.5h-1.5zM57.8 284.8h16.0v0.5h-16.0zM41.3 285.3h0.5v0.5h-0.5zM44.3 285.3h0.5v0.5h-0.5zM47.3 285.3h0.5v0.5h-0.5zM48.8 285.3h0.5v0.5h-0.5zM49.8 285.3h0.5v0.5h-0.5zM52.3 285.3h1.0v0.5h-1.0zM55.3 285.3h1.0v0.5h-1.0zM56.8 285.3h1.0v0.5h-1.0zM58.3 285.3h16.0v0.5h-16.0zM33.3 285.8h0.5v0.5h-0.5zM35.3 285.8h0.5v0.5h-0.5zM36.8 285.8h0.5v0.5h-0.5zM37.8 285.8h0.5v0.5h-0.5zM39.3 285.8h1.0v0.5h-1.0zM40.8 285.8h1.0v0.5h-1.0zM45.8 285.8h0.5v0.5h-0.5zM47.3 285.8h0.5v0.5h-0.5zM52.8 285.8h1.0v0.5h-1.0zM55.3 285.8h1.0v0.5h-1.0zM57.3 285.8h16.5v0.5h-16.5zM74.3 285.8h0.5v0.5h-0.5zM37.8 286.3h0.5v0.5h-0.5zM38.8 286.3h0.5v0.5h-0.5zM41.3 286.3h1.0v0.5h-1.0zM47.8 286.3h0.5v0.5h-0.5zM48.8 286.3h0.5v0.5h-0.5zM51.3 286.3h0.5v0.5h-0.5zM52.3 286.3h0.5v0.5h-0.5zM53.3 286.3h0.5v0.5h-0.5zM54.8 286.3h0.5v0.5h-0.5zM55.8 286.3h17.5v0.5h-17.5zM73.8 286.3h0.5v0.5h-0.5zM31.8 286.8h0.5v0.5h-0.5zM33.3 286.8h0.5v0.5h-0.5zM36.3 286.8h0.5v0.5h-0.5zM38.8 286.8h0.5v0.5h-0.5zM40.3 286.8h1.5v0.5h-1.5zM45.3 286.8h0.5v0.5h-0.5zM47.3 286.8h1.0v0.5h-1.0zM49.8 286.8h1.0v0.5h-1.0zM52.8 286.8h0.5v0.5h-0.5zM53.8 286.8h0.5v0.5h-0.5zM55.3 286.8h1.0v0.5h-1.0zM56.8 286.8h16.5v0.5h-16.5zM30.8 287.3h0.5v0.5h-0.5zM32.3 287.3h1.0v0.5h-1.0zM34.8 287.3h0.5v0.5h-0.5zM37.8 287.3h0.5v0.5h-0.5zM39.3 287.3h1.5v0.5h-1.5zM41.3 287.3h0.5v0.5h-0.5zM45.3 287.3h0.5v0.5h-0.5zM46.3 287.3h1.0v0.5h-1.0zM47.8 287.3h1.5v0.5h-1.5zM49.8 287.3h0.5v0.5h-0.5zM50.8 287.3h0.5v0.5h-0.5zM51.8 287.3h0.5v0.5h-0.5zM53.8 287.3h0.5v0.5h-0.5zM55.3 287.3h0.5v0.5h-0.5zM57.3 287.3h15.0v0.5h-15.0zM72.8 287.3h1.0v0.5h-1.0zM33.8 287.8h0.5v0.5h-0.5zM39.3 287.8h0.5v0.5h-0.5zM40.3 287.8h1.0v0.5h-1.0zM41.8 287.8h0.5v0.5h-0.5zM43.3 287.8h1.5v0.5h-1.5zM45.3 287.8h0.5v0.5h-0.5zM46.3 287.8h0.5v0.5h-0.5zM47.3 287.8h1.5v0.5h-1.5zM49.3 287.8h2.0v0.5h-2.0zM51.8 287.8h0.5v0.5h-0.5zM53.8 287.8h0.5v0.5h-0.5zM56.3 287.8h17.5v0.5h-17.5zM31.8 288.3h0.5v0.5h-0.5zM33.8 288.3h0.5v0.5h-0.5zM35.8 288.3h0.5v0.5h-0.5zM37.3 288.3h0.5v0.5h-0.5zM38.8 288.3h5.0v0.5h-5.0zM44.3 288.3h0.5v0.5h-0.5zM47.8 288.3h1.5v0.5h-1.5zM51.3 288.3h2.0v0.5h-2.0zM54.3 288.3h0.5v0.5h-0.5zM56.8 288.3h15.0v0.5h-15.0zM72.3 288.3h1.5v0.5h-1.5zM35.8 288.8h1.0v0.5h-1.0zM37.3 288.8h3.0v0.5h-3.0zM41.3 288.8h1.0v0.5h-1.0zM42.8 288.8h1.0v0.5h-1.0zM44.3 288.8h1.0v0.5h-1.0zM47.3 288.8h2.0v0.5h-2.0zM50.3 288.8h0.5v0.5h-0.5zM51.8 288.8h0.5v0.5h-0.5zM53.8 288.8h0.5v0.5h-0.5zM55.8 288.8h17.5v0.5h-17.5zM32.3 289.3h0.5v0.5h-0.5zM33.3 289.3h1.0v0.5h-1.0zM36.3 289.3h0.5v0.5h-0.5zM37.3 289.3h6.5v0.5h-6.5zM44.8 289.3h1.0v0.5h-1.0zM46.8 289.3h0.5v0.5h-0.5zM47.8 289.3h0.5v0.5h-0.5zM48.8 289.3h2.5v0.5h-2.5zM52.3 289.3h0.5v0.5h-0.5zM56.3 289.3h0.5v0.5h-0.5zM57.3 289.3h15.0v0.5h-15.0zM72.8 289.3h1.5v0.5h-1.5zM30.8 289.8h0.5v0.5h-0.5zM32.3 289.8h0.5v0.5h-0.5zM34.3 289.8h0.5v0.5h-0.5zM36.8 289.8h1.0v0.5h-1.0zM38.3 289.8h6.0v0.5h-6.0zM44.8 289.8h0.5v0.5h-0.5zM45.8 289.8h1.0v0.5h-1.0zM47.3 289.8h1.5v0.5h-1.5zM49.8 289.8h2.5v0.5h-2.5zM52.8 289.8h0.5v0.5h-0.5zM54.3 289.8h1.0v0.5h-1.0zM56.3 289.8h0.5v0.5h-0.5zM57.8 289.8h15.5v0.5h-15.5zM32.3 290.3h1.0v0.5h-1.0zM34.8 290.3h0.5v0.5h-0.5zM35.8 290.3h2.5v0.5h-2.5zM38.8 290.3h1.0v0.5h-1.0zM40.8 290.3h3.0v0.5h-3.0zM44.3 290.3h2.0v0.5h-2.0zM46.8 290.3h4.5v0.5h-4.5zM52.3 290.3h0.5v0.5h-0.5zM53.8 290.3h0.5v0.5h-0.5zM55.8 290.3h1.5v0.5h-1.5zM57.8 290.3h15.0v0.5h-15.0zM73.8 290.3h0.5v0.5h-0.5zM31.3 290.8h0.5v0.5h-0.5zM34.8 290.8h0.5v0.5h-0.5zM36.3 290.8h9.0v0.5h-9.0zM45.8 290.8h5.0v0.5h-5.0zM51.3 290.8h1.0v0.5h-1.0zM54.8 290.8h2.0v0.5h-2.0zM57.8 290.8h0.5v0.5h-0.5zM58.8 290.8h14.0v0.5h-14.0zM73.3 290.8h0.5v0.5h-0.5zM74.3 290.8h0.5v0.5h-0.5zM75.3 290.8h0.5v0.5h-0.5zM32.3 291.3h0.5v0.5h-0.5zM37.3 291.3h2.0v0.5h-2.0zM39.8 291.3h1.0v0.5h-1.0zM41.3 291.3h12.5v0.5h-12.5zM54.3 291.3h1.5v0.5h-1.5zM56.3 291.3h0.5v0.5h-0.5zM57.3 291.3h1.5v0.5h-1.5zM59.3 291.3h13.0v0.5h-13.0zM72.8 291.3h1.0v0.5h-1.0zM31.8 291.8h0.5v0.5h-0.5zM33.3 291.8h1.0v0.5h-1.0zM36.8 291.8h1.5v0.5h-1.5zM39.3 291.8h0.5v0.5h-0.5zM40.3 291.8h7.5v0.5h-7.5zM48.3 291.8h6.5v0.5h-6.5zM55.3 291.8h1.0v0.5h-1.0zM56.8 291.8h18.0v0.5h-18.0zM32.8 292.3h0.5v0.5h-0.5zM33.8 292.3h0.5v0.5h-0.5zM35.3 292.3h0.5v0.5h-0.5zM36.3 292.3h1.0v0.5h-1.0zM37.8 292.3h11.0v0.5h-11.0zM49.3 292.3h20.0v0.5h-20.0zM69.8 292.3h3.5v0.5h-3.5zM73.8 292.3h1.0v0.5h-1.0zM34.8 292.8h0.5v0.5h-0.5zM35.8 292.8h2.5v0.5h-2.5zM39.3 292.8h0.5v0.5h-0.5zM40.3 292.8h2.0v0.5h-2.0zM42.8 292.8h8.5v0.5h-8.5zM51.8 292.8h1.5v0.5h-1.5zM53.8 292.8h2.5v0.5h-2.5zM56.8 292.8h17.0v0.5h-17.0zM31.8 293.3h0.5v0.5h-0.5zM32.8 293.3h0.5v0.5h-0.5zM34.8 293.3h2.0v0.5h-2.0zM37.3 293.3h2.0v0.5h-2.0zM39.8 293.3h5.5v0.5h-5.5zM45.8 293.3h2.5v0.5h-2.5zM48.8 293.3h7.5v0.5h-7.5zM56.8 293.3h1.5v0.5h-1.5zM58.8 293.3h1.0v0.5h-1.0zM60.3 293.3h14.5v0.5h-14.5zM27.3 293.8h0.5v0.5h-0.5zM31.8 293.8h0.5v0.5h-0.5zM32.8 293.8h1.0v0.5h-1.0zM34.3 293.8h0.5v0.5h-0.5zM35.3 293.8h0.5v0.5h-0.5zM36.3 293.8h1.0v0.5h-1.0zM37.8 293.8h1.0v0.5h-1.0zM39.3 293.8h1.0v0.5h-1.0zM40.8 293.8h32.5v0.5h-32.5zM31.3 294.3h0.5v0.5h-0.5zM32.3 294.3h0.5v0.5h-0.5zM34.3 294.3h0.5v0.5h-0.5zM36.8 294.3h6.5v0.5h-6.5zM43.8 294.3h29.5v0.5h-29.5zM73.8 294.3h0.5v0.5h-0.5zM32.8 294.8h0.5v0.5h-0.5zM34.8 294.8h1.0v0.5h-1.0zM36.8 294.8h1.0v0.5h-1.0zM38.3 294.8h11.5v0.5h-11.5zM50.3 294.8h24.0v0.5h-24.0zM29.8 295.3h1.0v0.5h-1.0zM35.3 295.3h3.5v0.5h-3.5zM39.3 295.3h3.0v0.5h-3.0zM42.8 295.3h14.5v0.5h-14.5zM57.8 295.3h16.5v0.5h-16.5zM31.8 295.8h0.5v0.5h-0.5zM33.3 295.8h0.5v0.5h-0.5zM34.3 295.8h1.0v0.5h-1.0zM36.3 295.8h6.0v0.5h-6.0zM42.8 295.8h0.5v0.5h-0.5zM43.8 295.8h12.0v0.5h-12.0zM56.3 295.8h16.5v0.5h-16.5zM35.8 296.3h1.0v0.5h-1.0zM38.3 296.3h11.5v0.5h-11.5zM50.3 296.3h5.0v0.5h-5.0zM55.8 296.3h1.0v0.5h-1.0zM57.3 296.3h16.0v0.5h-16.0zM29.8 296.8h0.5v0.5h-0.5zM35.3 296.8h0.5v0.5h-0.5zM36.3 296.8h0.5v0.5h-0.5zM37.3 296.8h1.5v0.5h-1.5zM39.8 296.8h6.5v0.5h-6.5zM46.8 296.8h3.5v0.5h-3.5zM50.8 296.8h1.5v0.5h-1.5zM52.8 296.8h3.0v0.5h-3.0zM56.3 296.8h0.5v0.5h-0.5zM57.8 296.8h15.5v0.5h-15.5zM28.3 297.3h0.5v0.5h-0.5zM31.3 297.3h0.5v0.5h-0.5zM32.8 297.3h0.5v0.5h-0.5zM36.8 297.3h0.5v0.5h-0.5zM37.8 297.3h16.5v0.5h-16.5zM54.8 297.3h1.5v0.5h-1.5zM56.8 297.3h17.5v0.5h-17.5zM26.3 297.8h0.5v0.5h-0.5zM34.8 297.8h1.0v0.5h-1.0zM36.8 297.8h0.5v0.5h-0.5zM38.3 297.8h0.5v0.5h-0.5zM39.3 297.8h10.5v0.5h-10.5zM50.3 297.8h6.5v0.5h-6.5zM57.3 297.8h15.0v0.5h-15.0zM34.3 298.3h0.5v0.5h-0.5zM35.8 298.3h1.0v0.5h-1.0zM37.8 298.3h4.5v0.5h-4.5zM43.3 298.3h2.0v0.5h-2.0zM45.8 298.3h6.5v0.5h-6.5zM52.8 298.3h3.0v0.5h-3.0zM56.8 298.3h1.5v0.5h-1.5zM58.8 298.3h13.0v0.5h-13.0zM72.3 298.3h1.0v0.5h-1.0zM73.8 298.3h0.5v0.5h-0.5zM29.8 298.8h0.5v0.5h-0.5zM36.8 298.8h0.5v0.5h-0.5zM39.8 298.8h1.0v0.5h-1.0zM41.3 298.8h0.5v0.5h-0.5zM42.3 298.8h2.0v0.5h-2.0zM44.8 298.8h0.5v0.5h-0.5zM45.8 298.8h10.5v0.5h-10.5zM56.8 298.8h0.5v0.5h-0.5zM57.8 298.8h15.0v0.5h-15.0zM35.8 299.3h0.5v0.5h-0.5zM38.8 299.3h1.0v0.5h-1.0zM41.3 299.3h2.0v0.5h-2.0zM44.3 299.3h10.0v0.5h-10.0zM54.8 299.3h1.0v0.5h-1.0zM56.3 299.3h16.5v0.5h-16.5zM73.3 299.3h0.5v0.5h-0.5zM32.3 299.8h0.5v0.5h-0.5zM39.8 299.8h0.5v0.5h-0.5zM42.8 299.8h4.0v0.5h-4.0zM47.8 299.8h1.5v0.5h-1.5zM50.8 299.8h2.5v0.5h-2.5zM53.8 299.8h2.0v0.5h-2.0zM56.3 299.8h0.5v0.5h-0.5zM57.8 299.8h15.0v0.5h-15.0zM38.3 300.3h1.0v0.5h-1.0zM40.3 300.3h0.5v0.5h-0.5zM41.3 300.3h0.5v0.5h-0.5zM42.3 300.3h0.5v0.5h-0.5zM43.3 300.3h1.5v0.5h-1.5zM45.8 300.3h0.5v0.5h-0.5zM47.3 300.3h1.5v0.5h-1.5zM49.3 300.3h1.0v0.5h-1.0zM52.3 300.3h1.0v0.5h-1.0zM53.8 300.3h1.0v0.5h-1.0zM55.8 300.3h1.5v0.5h-1.5zM57.8 300.3h13.5v0.5h-13.5zM72.3 300.3h1.0v0.5h-1.0zM43.3 300.8h0.5v0.5h-0.5zM44.3 300.8h1.0v0.5h-1.0zM46.8 300.8h0.5v0.5h-0.5zM47.8 300.8h3.0v0.5h-3.0zM51.8 300.8h0.5v0.5h-0.5zM52.8 300.8h2.5v0.5h-2.5zM56.8 300.8h0.5v0.5h-0.5zM57.8 300.8h1.0v0.5h-1.0zM59.3 300.8h11.5v0.5h-11.5zM71.3 300.8h1.0v0.5h-1.0zM36.8 301.3h0.5v0.5h-0.5zM39.8 301.3h0.5v0.5h-0.5zM41.8 301.3h0.5v0.5h-0.5zM45.3 301.3h0.5v0.5h-0.5zM46.8 301.3h1.0v0.5h-1.0zM48.8 301.3h0.5v0.5h-0.5zM49.8 301.3h0.5v0.5h-0.5zM51.3 301.3h2.5v0.5h-2.5zM54.3 301.3h1.5v0.5h-1.5zM56.3 301.3h1.0v0.5h-1.0zM57.8 301.3h14.0v0.5h-14.0zM73.3 301.3h0.5v0.5h-0.5zM31.8 301.8h0.5v0.5h-0.5zM33.8 301.8h0.5v0.5h-0.5zM38.8 301.8h0.5v0.5h-0.5zM41.3 301.8h0.5v0.5h-0.5zM43.3 301.8h0.5v0.5h-0.5zM44.3 301.8h0.5v0.5h-0.5zM45.8 301.8h0.5v0.5h-0.5zM46.8 301.8h1.5v0.5h-1.5zM49.8 301.8h1.0v0.5h-1.0zM53.8 301.8h1.0v0.5h-1.0zM56.3 301.8h0.5v0.5h-0.5zM57.8 301.8h12.5v0.5h-12.5zM71.3 301.8h1.0v0.5h-1.0zM29.3 302.3h0.5v0.5h-0.5zM42.8 302.3h1.0v0.5h-1.0zM46.3 302.3h0.5v0.5h-0.5zM47.3 302.3h0.5v0.5h-0.5zM48.3 302.3h0.5v0.5h-0.5zM51.8 302.3h0.5v0.5h-0.5zM53.3 302.3h2.0v0.5h-2.0zM56.8 302.3h0.5v0.5h-0.5zM57.8 302.3h1.5v0.5h-1.5zM59.8 302.3h10.0v0.5h-10.0zM70.3 302.3h1.0v0.5h-1.0zM71.8 302.3h0.5v0.5h-0.5zM72.8 302.3h0.5v0.5h-0.5z" fill="#000" stroke="none"/>
<rect x="20.3" y="250.3" width="66.0" height="52.4" fill="none" stroke="#333" stroke-width="0.7"/>
<line x1="51.9" y1="250.3" x2="51.9" y2="302.7" stroke="#333" stroke-width="0.6"/>
<line x1="20.3" y1="281.5" x2="86.3" y2="281.5" stroke="#333" stroke-width="0.6"/>
<line x1="20.3" y1="302.7" x2="20.3" y2="303.7" stroke="#333" stroke-width="0.6"/>
<line x1="16.8" y1="301.9" x2="18.0" y2="301.9" stroke="#222" stroke-width="0.7"/>
<text x="21.3" y="307.3" font-size="3.8" text-anchor="middle" fill="#111" font-weight="bold">10<tspan font-size="2.4" dy="-1">0</tspan></text>
<text x="19.1" y="305.0" font-size="3.8" text-anchor="end" fill="#111" font-weight="bold">10<tspan font-size="2.4" dy="-1">0</tspan></text>
<line x1="36.8" y1="302.7" x2="36.8" y2="303.7" stroke="#333" stroke-width="0.6"/>
<line x1="16.8" y1="288.8" x2="18.0" y2="288.8" stroke="#222" stroke-width="0.7"/>
<text x="37.8" y="307.3" font-size="3.8" text-anchor="middle" fill="#111" font-weight="bold">10<tspan font-size="2.4" dy="-1">1</tspan></text>
<text x="19.1" y="291.9" font-size="3.8" text-anchor="end" fill="#111" font-weight="bold">10<tspan font-size="2.4" dy="-1">1</tspan></text>
<line x1="53.3" y1="302.7" x2="53.3" y2="303.7" stroke="#333" stroke-width="0.6"/>
<line x1="16.8" y1="275.7" x2="18.0" y2="275.7" stroke="#222" stroke-width="0.7"/>
<text x="54.3" y="307.3" font-size="3.8" text-anchor="middle" fill="#111" font-weight="bold">10<tspan font-size="2.4" dy="-1">2</tspan></text>
<text x="19.1" y="278.8" font-size="3.8" text-anchor="end" fill="#111" font-weight="bold">10<tspan font-size="2.4" dy="-1">2</tspan></text>
<line x1="69.8" y1="302.7" x2="69.8" y2="303.7" stroke="#333" stroke-width="0.6"/>
<line x1="16.8" y1="262.59999999999997" x2="18.0" y2="262.59999999999997" stroke="#222" stroke-width="0.7"/>
<text x="70.8" y="307.3" font-size="3.8" text-anchor="middle" fill="#111" font-weight="bold">10<tspan font-size="2.4" dy="-1">3</tspan></text>
<text x="19.1" y="265.7" font-size="3.8" text-anchor="end" fill="#111" font-weight="bold">10<tspan font-size="2.4" dy="-1">3</tspan></text>
<line x1="86.3" y1="302.7" x2="86.3" y2="303.7" stroke="#333" stroke-width="0.6"/>
<line x1="16.8" y1="249.5" x2="18.0" y2="249.5" stroke="#222" stroke-width="0.7"/>
<text x="87.3" y="307.3" font-size="3.8" text-anchor="middle" fill="#111" font-weight="bold">10<tspan font-size="2.4" dy="-1">4</tspan></text>
<text x="19.1" y="252.6" font-size="3.8" text-anchor="end" fill="#111" font-weight="bold">10<tspan font-size="2.4" dy="-1">4</tspan></text>
<text x="85.5" y="258.5" font-size="9.4" text-anchor="end" font-weight="normal" >4%</text>
<path d="M137.7 255.3h0.5v0.5h-0.5zM140.7 255.8h0.5v0.5h-0.5zM142.7 257.8h0.5v0.5h-0.5zM136.2 259.8h0.5v0.5h-0.5zM142.2 259.8h0.5v0.5h-0.5zM138.7 260.3h0.5v0.5h-0.5zM139.2 260.8h0.5v0.5h-0.5zM136.2 261.8h0.5v0.5h-0.5zM139.2 261.8h0.5v0.5h-0.5zM141.2 261.8h0.5v0.5h-0.5zM140.2 262.3h1.0v0.5h-1.0zM142.2 262.3h0.5v0.5h-0.5zM136.2 262.8h0.5v0.5h-0.5zM138.2 262.8h0.5v0.5h-0.5zM140.2 262.8h0.5v0.5h-0.5zM142.7 262.8h0.5v0.5h-0.5zM143.7 262.8h0.5v0.5h-0.5zM137.2 263.3h0.5v0.5h-0.5zM138.2 263.3h0.5v0.5h-0.5zM139.7 263.3h0.5v0.5h-0.5zM142.2 263.3h0.5v0.5h-0.5zM137.2 263.8h0.5v0.5h-0.5zM138.2 263.8h0.5v0.5h-0.5zM139.7 263.8h0.5v0.5h-0.5zM140.7 263.8h0.5v0.5h-0.5zM142.7 263.8h1.0v0.5h-1.0zM144.2 263.8h0.5v0.5h-0.5zM138.7 264.3h1.5v0.5h-1.5zM140.7 264.3h1.0v0.5h-1.0zM142.2 264.3h0.5v0.5h-0.5zM143.2 264.3h0.5v0.5h-0.5zM135.2 264.8h0.5v0.5h-0.5zM138.2 264.8h1.0v0.5h-1.0zM140.2 264.8h1.0v0.5h-1.0zM142.2 264.8h1.0v0.5h-1.0zM145.2 264.8h0.5v0.5h-0.5zM146.7 264.8h0.5v0.5h-0.5zM133.7 265.3h1.0v0.5h-1.0zM136.7 265.3h3.0v0.5h-3.0zM140.2 265.3h0.5v0.5h-0.5zM141.2 265.3h0.5v0.5h-0.5zM143.7 265.3h1.0v0.5h-1.0zM145.7 265.3h0.5v0.5h-0.5zM132.2 265.8h0.5v0.5h-0.5zM134.2 265.8h1.0v0.5h-1.0zM136.7 265.8h1.0v0.5h-1.0zM138.7 265.8h4.5v0.5h-4.5zM143.7 265.8h0.5v0.5h-0.5zM132.7 266.3h0.5v0.5h-0.5zM133.7 266.3h2.5v0.5h-2.5zM136.7 266.3h5.0v0.5h-5.0zM142.2 266.3h1.5v0.5h-1.5zM132.2 266.8h0.5v0.5h-0.5zM133.2 266.8h0.5v0.5h-0.5zM134.2 266.8h0.5v0.5h-0.5zM135.2 266.8h5.0v0.5h-5.0zM140.7 266.8h1.5v0.5h-1.5zM142.7 266.8h1.5v0.5h-1.5zM145.2 266.8h0.5v0.5h-0.5zM132.7 267.3h1.0v0.5h-1.0zM134.2 267.3h9.5v0.5h-9.5zM144.2 267.3h1.0v0.5h-1.0zM145.7 267.3h0.5v0.5h-0.5zM131.2 267.8h0.5v0.5h-0.5zM132.7 267.8h0.5v0.5h-0.5zM133.7 267.8h1.5v0.5h-1.5zM135.7 267.8h8.0v0.5h-8.0zM144.2 267.8h0.5v0.5h-0.5zM146.2 267.8h0.5v0.5h-0.5zM132.7 268.3h11.5v0.5h-11.5zM145.7 268.3h0.5v0.5h-0.5zM128.2 268.8h0.5v0.5h-0.5zM132.2 268.8h3.0v0.5h-3.0zM135.7 268.8h7.5v0.5h-7.5zM143.7 268.8h0.5v0.5h-0.5zM145.2 268.8h0.5v0.5h-0.5zM130.7 269.3h1.0v0.5h-1.0zM132.7 269.3h10.5v0.5h-10.5zM143.7 269.3h1.0v0.5h-1.0zM129.2 269.8h0.5v0.5h-0.5zM130.7 269.8h1.0v0.5h-1.0zM132.7 269.8h10.5v0.5h-10.5zM132.7 270.3h9.0v0.5h-9.0zM142.2 270.3h0.5v0.5h-0.5zM143.2 270.3h0.5v0.5h-0.5zM144.2 270.3h0.5v0.5h-0.5zM146.2 270.3h0.5v0.5h-0.5zM129.7 270.8h1.0v0.5h-1.0zM131.2 270.8h0.5v0.5h-0.5zM132.2 270.8h0.5v0.5h-0.5zM133.2 270.8h10.5v0.5h-10.5zM144.2 270.8h0.5v0.5h-0.5zM128.2 271.3h0.5v0.5h-0.5zM130.2 271.3h0.5v0.5h-0.5zM131.2 271.3h0.5v0.5h-0.5zM132.7 271.3h10.5v0.5h-10.5zM143.7 271.3h1.0v0.5h-1.0zM128.7 271.8h0.5v0.5h-0.5zM130.7 271.8h1.0v0.5h-1.0zM132.2 271.8h1.0v0.5h-1.0zM133.7 271.8h10.0v0.5h-10.0zM129.7 272.3h0.5v0.5h-0.5zM131.2 272.3h1.0v0.5h-1.0zM132.7 272.3h8.0v0.5h-8.0zM141.7 272.3h0.5v0.5h-0.5zM144.2 272.3h0.5v0.5h-0.5zM146.2 272.3h0.5v0.5h-0.5zM149.2 272.3h0.5v0.5h-0.5zM123.2 272.8h0.5v0.5h-0.5zM129.2 272.8h0.5v0.5h-0.5zM131.7 272.8h0.5v0.5h-0.5zM133.2 272.8h1.5v0.5h-1.5zM135.2 272.8h2.0v0.5h-2.0zM137.7 272.8h3.0v0.5h-3.0zM141.7 272.8h1.0v0.5h-1.0zM144.7 272.8h0.5v0.5h-0.5zM131.7 273.3h0.5v0.5h-0.5zM132.7 273.3h6.0v0.5h-6.0zM139.7 273.3h1.0v0.5h-1.0zM141.2 273.3h2.0v0.5h-2.0zM144.7 273.3h0.5v0.5h-0.5zM145.7 273.3h0.5v0.5h-0.5zM130.2 273.8h1.0v0.5h-1.0zM132.2 273.8h2.0v0.5h-2.0zM134.7 273.8h2.5v0.5h-2.5zM137.7 273.8h0.5v0.5h-0.5zM138.7 273.8h0.5v0.5h-0.5zM142.7 273.8h0.5v0.5h-0.5zM127.7 274.3h0.5v0.5h-0.5zM131.2 274.3h3.0v0.5h-3.0zM135.2 274.3h1.0v0.5h-1.0zM136.7 274.3h0.5v0.5h-0.5zM138.2 274.3h1.0v0.5h-1.0zM139.7 274.3h0.5v0.5h-0.5zM146.7 274.3h0.5v0.5h-0.5zM118.2 274.8h0.5v0.5h-0.5zM129.2 274.8h0.5v0.5h-0.5zM130.7 274.8h0.5v0.5h-0.5zM131.7 274.8h0.5v0.5h-0.5zM133.2 274.8h1.0v0.5h-1.0zM134.7 274.8h1.5v0.5h-1.5zM138.7 274.8h0.5v0.5h-0.5zM139.7 274.8h0.5v0.5h-0.5zM128.7 275.3h0.5v0.5h-0.5zM130.2 275.3h0.5v0.5h-0.5zM131.2 275.3h0.5v0.5h-0.5zM132.7 275.3h0.5v0.5h-0.5zM134.2 275.3h2.5v0.5h-2.5zM137.2 275.3h1.5v0.5h-1.5zM139.7 275.3h0.5v0.5h-0.5zM143.7 275.3h0.5v0.5h-0.5zM129.2 275.8h0.5v0.5h-0.5zM130.7 275.8h1.0v0.5h-1.0zM134.2 275.8h2.0v0.5h-2.0zM136.7 275.8h0.5v0.5h-0.5zM138.2 275.8h1.5v0.5h-1.5zM140.2 275.8h0.5v0.5h-0.5zM144.2 275.8h0.5v0.5h-0.5zM128.2 276.3h0.5v0.5h-0.5zM130.2 276.3h0.5v0.5h-0.5zM134.2 276.3h0.5v0.5h-0.5zM136.2 276.3h0.5v0.5h-0.5zM139.7 276.3h1.0v0.5h-1.0zM141.7 276.3h0.5v0.5h-0.5zM122.2 276.8h0.5v0.5h-0.5zM128.2 276.8h1.0v0.5h-1.0zM130.7 276.8h1.0v0.5h-1.0zM132.2 276.8h0.5v0.5h-0.5zM133.2 276.8h0.5v0.5h-0.5zM134.2 276.8h0.5v0.5h-0.5zM135.2 276.8h1.0v0.5h-1.0zM136.7 276.8h0.5v0.5h-0.5zM138.7 276.8h1.0v0.5h-1.0zM140.7 276.8h1.0v0.5h-1.0zM142.2 276.8h1.0v0.5h-1.0zM119.7 277.3h0.5v0.5h-0.5zM122.2 277.3h0.5v0.5h-0.5zM126.2 277.3h0.5v0.5h-0.5zM129.2 277.3h0.5v0.5h-0.5zM130.2 277.3h0.5v0.5h-0.5zM133.7 277.3h1.0v0.5h-1.0zM135.2 277.3h0.5v0.5h-0.5zM137.2 277.3h2.0v0.5h-2.0zM139.7 277.3h0.5v0.5h-0.5zM140.7 277.3h0.5v0.5h-0.5zM142.2 277.3h0.5v0.5h-0.5zM146.2 277.3h0.5v0.5h-0.5zM147.2 277.3h0.5v0.5h-0.5zM120.2 277.8h0.5v0.5h-0.5zM126.2 277.8h0.5v0.5h-0.5zM127.7 277.8h0.5v0.5h-0.5zM128.7 277.8h0.5v0.5h-0.5zM130.2 277.8h0.5v0.5h-0.5zM132.2 277.8h0.5v0.5h-0.5zM133.2 277.8h1.0v0.5h-1.0zM134.7 277.8h0.5v0.5h-0.5zM136.2 277.8h2.0v0.5h-2.0zM141.2 277.8h1.0v0.5h-1.0zM145.2 277.8h0.5v0.5h-0.5zM122.2 278.3h0.5v0.5h-0.5zM125.7 278.3h0.5v0.5h-0.5zM126.7 278.3h0.5v0.5h-0.5zM130.7 278.3h1.5v0.5h-1.5zM134.7 278.3h0.5v0.5h-0.5zM135.7 278.3h0.5v0.5h-0.5zM137.2 278.3h0.5v0.5h-0.5zM140.7 278.3h1.5v0.5h-1.5zM142.7 278.3h1.5v0.5h-1.5zM144.7 278.3h0.5v0.5h-0.5zM116.2 278.8h0.5v0.5h-0.5zM118.7 278.8h0.5v0.5h-0.5zM122.7 278.8h0.5v0.5h-0.5zM128.7 278.8h2.0v0.5h-2.0zM133.2 278.8h1.0v0.5h-1.0zM134.7 278.8h0.5v0.5h-0.5zM139.2 278.8h2.5v0.5h-2.5zM142.7 278.8h0.5v0.5h-0.5zM144.2 278.8h0.5v0.5h-0.5zM117.7 279.3h0.5v0.5h-0.5zM125.2 279.3h1.0v0.5h-1.0zM126.7 279.3h1.0v0.5h-1.0zM128.2 279.3h0.5v0.5h-0.5zM130.7 279.3h0.5v0.5h-0.5zM132.2 279.3h3.0v0.5h-3.0zM136.2 279.3h0.5v0.5h-0.5zM137.2 279.3h0.5v0.5h-0.5zM138.7 279.3h4.0v0.5h-4.0zM143.2 279.3h0.5v0.5h-0.5zM144.2 279.3h1.5v0.5h-1.5zM115.2 279.8h0.5v0.5h-0.5zM119.7 279.8h0.5v0.5h-0.5zM121.7 279.8h1.5v0.5h-1.5zM125.2 279.8h1.0v0.5h-1.0zM127.7 279.8h0.5v0.5h-0.5zM128.7 279.8h0.5v0.5h-0.5zM129.7 279.8h0.5v0.5h-0.5zM130.7 279.8h1.0v0.5h-1.0zM132.2 279.8h0.5v0.5h-0.5zM133.2 279.8h2.5v0.5h-2.5zM136.2 279.8h0.5v0.5h-0.5zM138.2 279.8h0.5v0.5h-0.5zM139.2 279.8h1.5v0.5h-1.5zM141.7 279.8h2.0v0.5h-2.0zM144.2 279.8h0.5v0.5h-0.5zM114.7 280.3h0.5v0.5h-0.5zM117.2 280.3h0.5v0.5h-0.5zM120.7 280.3h0.5v0.5h-0.5zM121.7 280.3h0.5v0.5h-0.5zM125.2 280.3h1.5v0.5h-1.5zM127.2 280.3h1.0v0.5h-1.0zM128.7 280.3h1.0v0.5h-1.0zM131.7 280.3h0.5v0.5h-0.5zM132.7 280.3h2.0v0.5h-2.0zM136.7 280.3h0.5v0.5h-0.5zM137.7 280.3h3.5v0.5h-3.5zM141.7 280.3h1.0v0.5h-1.0zM143.7 280.3h0.5v0.5h-0.5zM144.7 280.3h0.5v0.5h-0.5zM119.2 280.8h0.5v0.5h-0.5zM121.2 280.8h0.5v0.5h-0.5zM123.2 280.8h0.5v0.5h-0.5zM124.2 280.8h0.5v0.5h-0.5zM126.2 280.8h2.0v0.5h-2.0zM128.7 280.8h0.5v0.5h-0.5zM131.2 280.8h1.5v0.5h-1.5zM133.7 280.8h0.5v0.5h-0.5zM134.7 280.8h4.5v0.5h-4.5zM139.7 280.8h1.5v0.5h-1.5zM141.7 280.8h1.5v0.5h-1.5zM143.7 280.8h0.5v0.5h-0.5zM145.7 280.8h0.5v0.5h-0.5zM147.2 280.8h0.5v0.5h-0.5zM112.2 281.3h0.5v0.5h-0.5zM118.7 281.3h1.0v0.5h-1.0zM120.2 281.3h0.5v0.5h-0.5zM122.7 281.3h0.5v0.5h-0.5zM123.7 281.3h0.5v0.5h-0.5zM125.2 281.3h1.0v0.5h-1.0zM126.7 281.3h0.5v0.5h-0.5zM127.7 281.3h1.0v0.5h-1.0zM129.7 281.3h1.5v0.5h-1.5zM131.7 281.3h0.5v0.5h-0.5zM132.7 281.3h5.0v0.5h-5.0zM138.2 281.3h1.0v0.5h-1.0zM139.7 281.3h1.5v0.5h-1.5zM141.7 281.3h3.5v0.5h-3.5zM146.2 281.3h0.5v0.5h-0.5zM118.7 281.8h0.5v0.5h-0.5zM119.7 281.8h0.5v0.5h-0.5zM121.7 281.8h1.0v0.5h-1.0zM123.2 281.8h1.0v0.5h-1.0zM125.2 281.8h1.5v0.5h-1.5zM127.2 281.8h0.5v0.5h-0.5zM128.7 281.8h0.5v0.5h-0.5zM131.2 281.8h10.0v0.5h-10.0zM141.7 281.8h2.0v0.5h-2.0zM144.2 281.8h2.0v0.5h-2.0zM146.7 281.8h0.5v0.5h-0.5zM115.2 282.3h0.5v0.5h-0.5zM118.7 282.3h0.5v0.5h-0.5zM121.7 282.3h0.5v0.5h-0.5zM122.7 282.3h1.0v0.5h-1.0zM124.2 282.3h2.0v0.5h-2.0zM126.7 282.3h0.5v0.5h-0.5zM128.2 282.3h1.0v0.5h-1.0zM130.7 282.3h0.5v0.5h-0.5zM132.2 282.3h1.0v0.5h-1.0zM134.2 282.3h7.0v0.5h-7.0zM142.2 282.3h1.0v0.5h-1.0zM143.7 282.3h2.0v0.5h-2.0zM146.7 282.3h0.5v0.5h-0.5zM121.2 282.8h0.5v0.5h-0.5zM123.7 282.8h0.5v0.5h-0.5zM126.2 282.8h1.0v0.5h-1.0zM128.2 282.8h0.5v0.5h-0.5zM129.2 282.8h0.5v0.5h-0.5zM130.7 282.8h0.5v0.5h-0.5zM131.7 282.8h2.0v0.5h-2.0zM134.2 282.8h2.5v0.5h-2.5zM137.2 282.8h3.5v0.5h-3.5zM141.7 282.8h3.5v0.5h-3.5zM147.2 282.8h0.5v0.5h-0.5zM119.7 283.3h0.5v0.5h-0.5zM121.2 283.3h0.5v0.5h-0.5zM123.7 283.3h0.5v0.5h-0.5zM124.7 283.3h0.5v0.5h-0.5zM125.7 283.3h0.5v0.5h-0.5zM129.7 283.3h0.5v0.5h-0.5zM131.2 283.3h2.5v0.5h-2.5zM134.2 283.3h2.5v0.5h-2.5zM137.2 283.3h6.5v0.5h-6.5zM116.2 283.8h0.5v0.5h-0.5zM121.7 283.8h0.5v0.5h-0.5zM123.2 283.8h0.5v0.5h-0.5zM124.2 283.8h0.5v0.5h-0.5zM126.7 283.8h2.5v0.5h-2.5zM130.7 283.8h4.5v0.5h-4.5zM135.7 283.8h2.0v0.5h-2.0zM138.2 283.8h0.5v0.5h-0.5zM139.2 283.8h3.0v0.5h-3.0zM142.7 283.8h2.5v0.5h-2.5zM115.7 284.3h0.5v0.5h-0.5zM120.2 284.3h0.5v0.5h-0.5zM121.2 284.3h0.5v0.5h-0.5zM122.2 284.3h0.5v0.5h-0.5zM123.2 284.3h1.0v0.5h-1.0zM125.2 284.3h0.5v0.5h-0.5zM128.2 284.3h0.5v0.5h-0.5zM130.2 284.3h0.5v0.5h-0.5zM131.2 284.3h12.0v0.5h-12.0zM143.7 284.3h1.0v0.5h-1.0zM145.2 284.3h0.5v0.5h-0.5zM146.2 284.3h0.5v0.5h-0.5zM117.2 284.8h0.5v0.5h-0.5zM119.2 284.8h0.5v0.5h-0.5zM122.2 284.8h0.5v0.5h-0.5zM123.7 284.8h0.5v0.5h-0.5zM125.2 284.8h1.0v0.5h-1.0zM128.7 284.8h0.5v0.5h-0.5zM129.7 284.8h1.0v0.5h-1.0zM131.2 284.8h11.0v0.5h-11.0zM142.7 284.8h1.5v0.5h-1.5zM145.2 284.8h0.5v0.5h-0.5zM120.7 285.3h0.5v0.5h-0.5zM123.2 285.3h0.5v0.5h-0.5zM124.2 285.3h0.5v0.5h-0.5zM126.2 285.3h0.5v0.5h-0.5zM127.7 285.3h0.5v0.5h-0.5zM129.2 285.3h1.0v0.5h-1.0zM131.7 285.3h12.0v0.5h-12.0zM144.2 285.3h0.5v0.5h-0.5zM146.7 285.3h1.0v0.5h-1.0zM149.2 285.3h0.5v0.5h-0.5zM114.7 285.8h0.5v0.5h-0.5zM119.7 285.8h0.5v0.5h-0.5zM121.2 285.8h0.5v0.5h-0.5zM123.2 285.8h0.5v0.5h-0.5zM125.2 285.8h1.0v0.5h-1.0zM126.7 285.8h0.5v0.5h-0.5zM127.7 285.8h0.5v0.5h-0.5zM129.2 285.8h0.5v0.5h-0.5zM131.7 285.8h11.5v0.5h-11.5zM143.7 285.8h1.5v0.5h-1.5zM147.2 285.8h0.5v0.5h-0.5zM118.2 286.3h0.5v0.5h-0.5zM121.7 286.3h0.5v0.5h-0.5zM125.2 286.3h0.5v0.5h-0.5zM127.7 286.3h0.5v0.5h-0.5zM129.7 286.3h1.5v0.5h-1.5zM131.7 286.3h14.0v0.5h-14.0zM146.2 286.3h0.5v0.5h-0.5zM112.7 286.8h0.5v0.5h-0.5zM115.2 286.8h0.5v0.5h-0.5zM118.2 286.8h1.0v0.5h-1.0zM119.7 286.8h1.5v0.5h-1.5zM128.7 286.8h1.0v0.5h-1.0zM130.2 286.8h13.5v0.5h-13.5zM144.2 286.8h2.5v0.5h-2.5zM109.7 287.3h0.5v0.5h-0.5zM114.7 287.3h0.5v0.5h-0.5zM118.2 287.3h0.5v0.5h-0.5zM119.2 287.3h0.5v0.5h-0.5zM121.2 287.3h0.5v0.5h-0.5zM123.2 287.3h0.5v0.5h-0.5zM125.2 287.3h0.5v0.5h-0.5zM127.2 287.3h1.5v0.5h-1.5zM129.2 287.3h1.5v0.5h-1.5zM131.2 287.3h14.0v0.5h-14.0zM146.2 287.3h0.5v0.5h-0.5zM112.7 287.8h1.0v0.5h-1.0zM114.2 287.8h0.5v0.5h-0.5zM117.2 287.8h0.5v0.5h-0.5zM119.2 287.8h0.5v0.5h-0.5zM120.2 287.8h1.0v0.5h-1.0zM122.7 287.8h0.5v0.5h-0.5zM123.7 287.8h0.5v0.5h-0.5zM127.2 287.8h1.0v0.5h-1.0zM128.7 287.8h1.0v0.5h-1.0zM130.7 287.8h15.0v0.5h-15.0zM146.2 287.8h0.5v0.5h-0.5zM147.7 287.8h0.5v0.5h-0.5zM112.2 288.3h0.5v0.5h-0.5zM118.2 288.3h1.5v0.5h-1.5zM120.7 288.3h0.5v0.5h-0.5zM124.2 288.3h1.0v0.5h-1.0zM126.7 288.3h1.5v0.5h-1.5zM128.7 288.3h16.5v0.5h-16.5zM118.7 288.8h1.5v0.5h-1.5zM121.2 288.8h0.5v0.5h-0.5zM123.2 288.8h0.5v0.5h-0.5zM126.7 288.8h0.5v0.5h-0.5zM127.7 288.8h1.0v0.5h-1.0zM129.2 288.8h17.0v0.5h-17.0zM110.7 289.3h0.5v0.5h-0.5zM111.7 289.3h2.0v0.5h-2.0zM115.2 289.3h0.5v0.5h-0.5zM118.2 289.3h0.5v0.5h-0.5zM119.7 289.3h0.5v0.5h-0.5zM120.7 289.3h1.0v0.5h-1.0zM122.7 289.3h0.5v0.5h-0.5zM123.7 289.3h0.5v0.5h-0.5zM124.7 289.3h0.5v0.5h-0.5zM126.2 289.3h0.5v0.5h-0.5zM127.2 289.3h0.5v0.5h-0.5zM128.2 289.3h18.0v0.5h-18.0zM104.7 289.8h0.5v0.5h-0.5zM112.2 289.8h1.0v0.5h-1.0zM115.2 289.8h0.5v0.5h-0.5zM116.7 289.8h0.5v0.5h-0.5zM117.7 289.8h2.5v0.5h-2.5zM121.7 289.8h1.0v0.5h-1.0zM123.2 289.8h1.0v0.5h-1.0zM124.7 289.8h1.0v0.5h-1.0zM126.2 289.8h18.5v0.5h-18.5zM145.2 289.8h0.5v0.5h-0.5zM147.2 289.8h0.5v0.5h-0.5zM113.7 290.3h2.0v0.5h-2.0zM116.2 290.3h1.0v0.5h-1.0zM117.7 290.3h3.0v0.5h-3.0zM121.2 290.3h0.5v0.5h-0.5zM122.2 290.3h0.5v0.5h-0.5zM123.2 290.3h1.5v0.5h-1.5zM125.2 290.3h0.5v0.5h-0.5zM126.2 290.3h0.5v0.5h-0.5zM127.2 290.3h18.5v0.5h-18.5zM146.2 290.3h0.5v0.5h-0.5zM108.2 290.8h0.5v0.5h-0.5zM110.7 290.8h0.5v0.5h-0.5zM111.7 290.8h1.0v0.5h-1.0zM113.2 290.8h0.5v0.5h-0.5zM116.2 290.8h2.5v0.5h-2.5zM119.2 290.8h0.5v0.5h-0.5zM120.2 290.8h2.0v0.5h-2.0zM124.2 290.8h0.5v0.5h-0.5zM125.2 290.8h3.0v0.5h-3.0zM129.2 290.8h15.0v0.5h-15.0zM145.2 290.8h0.5v0.5h-0.5zM146.7 290.8h0.5v0.5h-0.5zM112.7 291.3h0.5v0.5h-0.5zM114.2 291.3h1.5v0.5h-1.5zM116.7 291.3h0.5v0.5h-0.5zM117.7 291.3h3.0v0.5h-3.0zM121.2 291.3h3.0v0.5h-3.0zM125.2 291.3h2.0v0.5h-2.0zM127.7 291.3h16.0v0.5h-16.0zM144.2 291.3h2.5v0.5h-2.5zM147.7 291.3h0.5v0.5h-0.5zM150.2 291.3h0.5v0.5h-0.5zM108.7 291.8h0.5v0.5h-0.5zM112.2 291.8h2.5v0.5h-2.5zM115.2 291.8h0.5v0.5h-0.5zM117.7 291.8h0.5v0.5h-0.5zM118.7 291.8h1.5v0.5h-1.5zM120.7 291.8h1.0v0.5h-1.0zM122.2 291.8h1.5v0.5h-1.5zM124.7 291.8h1.0v0.5h-1.0zM126.2 291.8h20.0v0.5h-20.0zM148.2 291.8h0.5v0.5h-0.5zM109.2 292.3h0.5v0.5h-0.5zM112.2 292.3h0.5v0.5h-0.5zM113.2 292.3h2.0v0.5h-2.0zM116.2 292.3h2.0v0.5h-2.0zM118.7 292.3h4.5v0.5h-4.5zM123.7 292.3h5.0v0.5h-5.0zM129.2 292.3h15.5v0.5h-15.5zM145.2 292.3h1.0v0.5h-1.0zM148.2 292.3h0.5v0.5h-0.5zM112.2 292.8h0.5v0.5h-0.5zM113.2 292.8h0.5v0.5h-0.5zM114.2 292.8h3.0v0.5h-3.0zM117.7 292.8h1.0v0.5h-1.0zM119.2 292.8h2.0v0.5h-2.0zM121.7 292.8h1.5v0.5h-1.5zM123.7 292.8h2.0v0.5h-2.0zM126.2 292.8h16.5v0.5h-16.5zM143.2 292.8h0.5v0.5h-0.5zM144.2 292.8h0.5v0.5h-0.5zM146.7 292.8h0.5v0.5h-0.5zM111.2 293.3h0.5v0.5h-0.5zM112.7 293.3h0.5v0.5h-0.5zM114.2 293.3h1.5v0.5h-1.5zM116.2 293.3h2.5v0.5h-2.5zM119.2 293.3h1.5v0.5h-1.5zM121.2 293.3h1.5v0.5h-1.5zM123.2 293.3h1.0v0.5h-1.0zM125.2 293.3h3.5v0.5h-3.5zM129.2 293.3h15.5v0.5h-15.5zM145.7 293.3h0.5v0.5h-0.5zM111.2 293.8h0.5v0.5h-0.5zM113.2 293.8h1.0v0.5h-1.0zM114.7 293.8h2.0v0.5h-2.0zM119.7 293.8h3.0v0.5h-3.0zM124.2 293.8h0.5v0.5h-0.5zM125.2 293.8h18.5v0.5h-18.5zM144.7 293.8h0.5v0.5h-0.5zM108.2 294.3h0.5v0.5h-0.5zM110.7 294.3h1.0v0.5h-1.0zM114.2 294.3h0.5v0.5h-0.5zM115.7 294.3h7.0v0.5h-7.0zM124.2 294.3h1.5v0.5h-1.5zM126.2 294.3h0.5v0.5h-0.5zM127.2 294.3h18.5v0.5h-18.5zM146.7 294.3h1.5v0.5h-1.5zM106.7 294.8h0.5v0.5h-0.5zM108.2 294.8h0.5v0.5h-0.5zM111.2 294.8h0.5v0.5h-0.5zM113.2 294.8h1.5v0.5h-1.5zM115.2 294.8h1.0v0.5h-1.0zM116.7 294.8h0.5v0.5h-0.5zM118.2 294.8h0.5v0.5h-0.5zM119.7 294.8h2.5v0.5h-2.5zM122.7 294.8h1.0v0.5h-1.0zM124.2 294.8h19.5v0.5h-19.5zM144.2 294.8h1.0v0.5h-1.0zM146.2 294.8h1.0v0.5h-1.0zM148.7 294.8h0.5v0.5h-0.5zM152.2 294.8h0.5v0.5h-0.5zM154.2 294.8h0.5v0.5h-0.5zM109.7 295.3h0.5v0.5h-0.5zM110.7 295.3h0.5v0.5h-0.5zM112.2 295.3h3.0v0.5h-3.0zM115.7 295.3h0.5v0.5h-0.5zM117.7 295.3h1.0v0.5h-1.0zM119.2 295.3h5.0v0.5h-5.0zM124.7 295.3h0.5v0.5h-0.5zM125.7 295.3h1.0v0.5h-1.0zM127.2 295.3h14.0v0.5h-14.0zM141.7 295.3h1.0v0.5h-1.0zM143.7 295.3h0.5v0.5h-0.5zM145.7 295.3h2.0v0.5h-2.0zM150.7 295.3h0.5v0.5h-0.5zM111.7 295.8h0.5v0.5h-0.5zM114.2 295.8h1.0v0.5h-1.0zM115.7 295.8h4.0v0.5h-4.0zM120.2 295.8h3.0v0.5h-3.0zM123.7 295.8h1.0v0.5h-1.0zM125.2 295.8h2.0v0.5h-2.0zM127.7 295.8h0.5v0.5h-0.5zM128.7 295.8h15.0v0.5h-15.0zM144.2 295.8h0.5v0.5h-0.5zM145.2 295.8h0.5v0.5h-0.5zM146.2 295.8h1.0v0.5h-1.0zM148.7 295.8h1.0v0.5h-1.0zM111.2 296.3h1.0v0.5h-1.0zM112.7 296.3h0.5v0.5h-0.5zM114.2 296.3h0.5v0.5h-0.5zM115.7 296.3h1.0v0.5h-1.0zM117.2 296.3h3.0v0.5h-3.0zM120.7 296.3h0.5v0.5h-0.5zM122.2 296.3h1.5v0.5h-1.5zM124.2 296.3h0.5v0.5h-0.5zM125.2 296.3h1.0v0.5h-1.0zM127.2 296.3h13.0v0.5h-13.0zM140.7 296.3h2.5v0.5h-2.5zM143.7 296.3h1.0v0.5h-1.0zM146.7 296.3h1.0v0.5h-1.0zM148.7 296.3h0.5v0.5h-0.5zM105.7 296.8h0.5v0.5h-0.5zM106.7 296.8h0.5v0.5h-0.5zM110.7 296.8h0.5v0.5h-0.5zM113.2 296.8h0.5v0.5h-0.5zM116.2 296.8h0.5v0.5h-0.5zM117.2 296.8h3.0v0.5h-3.0zM120.7 296.8h2.5v0.5h-2.5zM123.7 296.8h1.0v0.5h-1.0zM125.2 296.8h19.5v0.5h-19.5zM145.2 296.8h1.0v0.5h-1.0zM147.7 296.8h0.5v0.5h-0.5zM151.2 296.8h0.5v0.5h-0.5zM112.7 297.3h9.0v0.5h-9.0zM122.2 297.3h1.5v0.5h-1.5zM125.7 297.3h18.5v0.5h-18.5zM145.7 297.3h0.5v0.5h-0.5zM147.7 297.3h0.5v0.5h-0.5zM111.7 297.8h3.0v0.5h-3.0zM115.2 297.8h0.5v0.5h-0.5zM116.2 297.8h2.0v0.5h-2.0zM118.7 297.8h1.0v0.5h-1.0zM120.2 297.8h1.5v0.5h-1.5zM122.2 297.8h4.5v0.5h-4.5zM127.2 297.8h1.0v0.5h-1.0zM128.7 297.8h16.0v0.5h-16.0zM146.2 297.8h1.0v0.5h-1.0zM112.2 298.3h0.5v0.5h-0.5zM113.7 298.3h0.5v0.5h-0.5zM114.7 298.3h5.0v0.5h-5.0zM120.2 298.3h5.5v0.5h-5.5zM126.2 298.3h0.5v0.5h-0.5zM127.2 298.3h11.5v0.5h-11.5zM139.2 298.3h7.0v0.5h-7.0zM146.7 298.3h0.5v0.5h-0.5zM112.7 298.8h0.5v0.5h-0.5zM115.2 298.8h2.5v0.5h-2.5zM118.2 298.8h4.0v0.5h-4.0zM123.7 298.8h1.5v0.5h-1.5zM125.7 298.8h1.5v0.5h-1.5zM127.7 298.8h10.5v0.5h-10.5zM138.7 298.8h7.5v0.5h-7.5zM155.2 298.8h0.5v0.5h-0.5zM114.2 299.3h1.0v0.5h-1.0zM115.7 299.3h0.5v0.5h-0.5zM116.7 299.3h1.5v0.5h-1.5zM118.7 299.3h1.0v0.5h-1.0zM120.7 299.3h1.5v0.5h-1.5zM122.7 299.3h3.0v0.5h-3.0zM126.2 299.3h2.0v0.5h-2.0zM128.7 299.3h17.0v0.5h-17.0zM150.2 299.3h0.5v0.5h-0.5zM108.7 299.8h0.5v0.5h-0.5zM110.2 299.8h0.5v0.5h-0.5zM114.2 299.8h1.0v0.5h-1.0zM115.7 299.8h0.5v0.5h-0.5zM117.7 299.8h1.5v0.5h-1.5zM120.2 299.8h1.5v0.5h-1.5zM122.2 299.8h0.5v0.5h-0.5zM123.2 299.8h6.0v0.5h-6.0zM129.7 299.8h12.0v0.5h-12.0zM142.2 299.8h0.5v0.5h-0.5zM143.2 299.8h1.5v0.5h-1.5zM145.2 299.8h0.5v0.5h-0.5zM108.7 300.3h0.5v0.5h-0.5zM113.7 300.3h0.5v0.5h-0.5zM117.2 300.3h0.5v0.5h-0.5zM118.7 300.3h1.0v0.5h-1.0zM120.2 300.3h1.0v0.5h-1.0zM121.7 300.3h1.0v0.5h-1.0zM123.2 300.3h3.5v0.5h-3.5zM127.7 300.3h1.5v0.5h-1.5zM130.2 300.3h14.0v0.5h-14.0zM144.7 300.3h1.5v0.5h-1.5zM146.7 300.3h0.5v0.5h-0.5zM152.7 300.3h0.5v0.5h-0.5zM115.2 300.8h3.0v0.5h-3.0zM118.7 300.8h3.0v0.5h-3.0zM122.7 300.8h1.5v0.5h-1.5zM124.7 300.8h2.0v0.5h-2.0zM127.2 300.8h1.5v0.5h-1.5zM129.2 300.8h12.0v0.5h-12.0zM141.7 300.8h0.5v0.5h-0.5zM142.7 300.8h1.0v0.5h-1.0zM144.2 300.8h0.5v0.5h-0.5zM145.2 300.8h0.5v0.5h-0.5zM112.7 301.3h0.5v0.5h-0.5zM114.2 301.3h0.5v0.5h-0.5zM115.7 301.3h0.5v0.5h-0.5zM116.7 301.3h0.5v0.5h-0.5zM118.2 301.3h0.5v0.5h-0.5zM120.7 301.3h0.5v0.5h-0.5zM121.7 301.3h1.0v0.5h-1.0zM123.7 301.3h3.5v0.5h-3.5zM129.2 301.3h12.5v0.5h-12.5zM142.2 301.3h1.5v0.5h-1.5zM144.2 301.3h1.0v0.5h-1.0zM115.7 301.8h0.5v0.5h-0.5zM116.7 301.8h0.5v0.5h-0.5zM118.2 301.8h2.5v0.5h-2.5zM121.2 301.8h1.0v0.5h-1.0zM123.7 301.8h1.0v0.5h-1.0zM125.2 301.8h0.5v0.5h-0.5zM127.2 301.8h0.5v0.5h-0.5zM129.2 301.8h0.5v0.5h-0.5zM130.2 301.8h1.0v0.5h-1.0zM131.7 301.8h0.5v0.5h-0.5zM133.7 301.8h7.5v0.5h-7.5zM142.2 301.8h1.0v0.5h-1.0zM143.7 301.8h1.0v0.5h-1.0zM115.7 302.3h2.0v0.5h-2.0zM118.7 302.3h0.5v0.5h-0.5zM119.7 302.3h1.0v0.5h-1.0zM121.2 302.3h1.0v0.5h-1.0zM122.7 302.3h0.5v0.5h-0.5zM124.2 302.3h1.0v0.5h-1.0zM126.7 302.3h0.5v0.5h-0.5zM128.2 302.3h0.5v0.5h-0.5zM129.2 302.3h0.5v0.5h-0.5zM131.2 302.3h0.5v0.5h-0.5zM133.7 302.3h8.5v0.5h-8.5zM142.7 302.3h0.5v0.5h-0.5zM143.7 302.3h0.5v0.5h-0.5zM144.7 302.3h0.5v0.5h-0.5z" fill="#000" stroke="none"/>
<rect x="103.7" y="250.3" width="65.6" height="52.4" fill="none" stroke="#333" stroke-width="0.7"/>
<line x1="127.7" y1="250.3" x2="127.7" y2="302.7" stroke="#333" stroke-width="0.6"/>
<line x1="103.7" y1="282.5" x2="169.3" y2="282.5" stroke="#333" stroke-width="0.6"/>
<line x1="103.7" y1="302.7" x2="103.7" y2="303.7" stroke="#333" stroke-width="0.6"/>
<line x1="100.2" y1="301.9" x2="101.4" y2="301.9" stroke="#222" stroke-width="0.7"/>
<text x="104.7" y="307.3" font-size="3.8" text-anchor="middle" fill="#111" font-weight="bold">10<tspan font-size="2.4" dy="-1">0</tspan></text>
<text x="102.5" y="305.0" font-size="3.8" text-anchor="end" fill="#111" font-weight="bold">10<tspan font-size="2.4" dy="-1">0</tspan></text>
<line x1="120.10000000000001" y1="302.7" x2="120.10000000000001" y2="303.7" stroke="#333" stroke-width="0.6"/>
<line x1="100.2" y1="288.8" x2="101.4" y2="288.8" stroke="#222" stroke-width="0.7"/>
<text x="121.1" y="307.3" font-size="3.8" text-anchor="middle" fill="#111" font-weight="bold">10<tspan font-size="2.4" dy="-1">1</tspan></text>
<text x="102.5" y="291.9" font-size="3.8" text-anchor="end" fill="#111" font-weight="bold">10<tspan font-size="2.4" dy="-1">1</tspan></text>
<line x1="136.5" y1="302.7" x2="136.5" y2="303.7" stroke="#333" stroke-width="0.6"/>
<line x1="100.2" y1="275.7" x2="101.4" y2="275.7" stroke="#222" stroke-width="0.7"/>
<text x="137.5" y="307.3" font-size="3.8" text-anchor="middle" fill="#111" font-weight="bold">10<tspan font-size="2.4" dy="-1">2</tspan></text>
<text x="102.5" y="278.8" font-size="3.8" text-anchor="end" fill="#111" font-weight="bold">10<tspan font-size="2.4" dy="-1">2</tspan></text>
<line x1="152.9" y1="302.7" x2="152.9" y2="303.7" stroke="#333" stroke-width="0.6"/>
<line x1="100.2" y1="262.59999999999997" x2="101.4" y2="262.59999999999997" stroke="#222" stroke-width="0.7"/>
<text x="153.9" y="307.3" font-size="3.8" text-anchor="middle" fill="#111" font-weight="bold">10<tspan font-size="2.4" dy="-1">3</tspan></text>
<text x="102.5" y="265.7" font-size="3.8" text-anchor="end" fill="#111" font-weight="bold">10<tspan font-size="2.4" dy="-1">3</tspan></text>
<line x1="169.3" y1="302.7" x2="169.3" y2="303.7" stroke="#333" stroke-width="0.6"/>
<line x1="100.2" y1="249.5" x2="101.4" y2="249.5" stroke="#222" stroke-width="0.7"/>
<text x="170.3" y="307.3" font-size="3.8" text-anchor="middle" fill="#111" font-weight="bold">10<tspan font-size="2.4" dy="-1">4</tspan></text>
<text x="102.5" y="252.6" font-size="3.8" text-anchor="end" fill="#111" font-weight="bold">10<tspan font-size="2.4" dy="-1">4</tspan></text>
<text x="168.5" y="258.5" font-size="9.4" text-anchor="end" font-weight="normal" >10%</text>
<path d="M230.6 250.8h0.5v0.5h-0.5zM231.6 250.8h0.5v0.5h-0.5zM232.6 251.8h0.5v0.5h-0.5zM230.6 253.8h0.5v0.5h-0.5zM230.6 255.8h0.5v0.5h-0.5zM231.6 256.3h0.5v0.5h-0.5zM232.1 256.8h1.0v0.5h-1.0zM230.6 257.3h0.5v0.5h-0.5zM230.6 257.8h0.5v0.5h-0.5zM231.1 258.3h0.5v0.5h-0.5zM229.6 258.8h0.5v0.5h-0.5zM231.1 258.8h1.0v0.5h-1.0zM233.6 258.8h0.5v0.5h-0.5zM230.6 259.8h0.5v0.5h-0.5zM232.1 259.8h0.5v0.5h-0.5zM231.1 260.3h0.5v0.5h-0.5zM231.1 260.8h0.5v0.5h-0.5zM229.6 262.8h1.0v0.5h-1.0zM230.6 263.3h0.5v0.5h-0.5zM235.6 263.3h0.5v0.5h-0.5zM230.1 263.8h0.5v0.5h-0.5zM233.6 263.8h0.5v0.5h-0.5zM223.6 264.3h0.5v0.5h-0.5zM229.6 264.3h0.5v0.5h-0.5zM233.1 264.3h0.5v0.5h-0.5zM234.1 264.3h0.5v0.5h-0.5zM205.1 264.8h0.5v0.5h-0.5zM225.6 264.8h0.5v0.5h-0.5zM227.6 264.8h1.0v0.5h-1.0zM231.6 264.8h0.5v0.5h-0.5zM233.1 264.8h0.5v0.5h-0.5zM209.1 265.3h0.5v0.5h-0.5zM223.6 265.3h0.5v0.5h-0.5zM227.6 265.3h1.5v0.5h-1.5zM229.6 265.3h0.5v0.5h-0.5zM230.6 265.3h1.5v0.5h-1.5zM233.6 265.3h0.5v0.5h-0.5zM228.1 265.8h0.5v0.5h-0.5zM229.1 265.8h0.5v0.5h-0.5zM230.6 265.8h4.0v0.5h-4.0zM235.6 265.8h0.5v0.5h-0.5zM224.1 266.3h0.5v0.5h-0.5zM227.1 266.3h0.5v0.5h-0.5zM229.6 266.3h0.5v0.5h-0.5zM230.6 266.3h1.5v0.5h-1.5zM234.1 266.3h0.5v0.5h-0.5zM235.1 266.3h0.5v0.5h-0.5zM223.6 266.8h0.5v0.5h-0.5zM226.6 266.8h1.0v0.5h-1.0zM228.1 266.8h1.0v0.5h-1.0zM230.1 266.8h1.5v0.5h-1.5zM232.1 266.8h1.0v0.5h-1.0zM233.6 266.8h1.0v0.5h-1.0zM218.6 267.3h0.5v0.5h-0.5zM223.6 267.3h0.5v0.5h-0.5zM224.6 267.3h0.5v0.5h-0.5zM225.6 267.3h1.0v0.5h-1.0zM227.1 267.3h0.5v0.5h-0.5zM228.1 267.3h1.0v0.5h-1.0zM229.6 267.3h2.5v0.5h-2.5zM232.6 267.3h3.0v0.5h-3.0zM236.1 267.3h0.5v0.5h-0.5zM210.1 267.8h0.5v0.5h-0.5zM221.6 267.8h0.5v0.5h-0.5zM222.6 267.8h0.5v0.5h-0.5zM225.1 267.8h3.0v0.5h-3.0zM228.6 267.8h6.0v0.5h-6.0zM235.1 267.8h1.5v0.5h-1.5zM205.6 268.3h0.5v0.5h-0.5zM220.6 268.3h0.5v0.5h-0.5zM222.1 268.3h1.0v0.5h-1.0zM225.1 268.3h3.0v0.5h-3.0zM228.6 268.3h6.5v0.5h-6.5zM238.6 268.3h0.5v0.5h-0.5zM219.6 268.8h0.5v0.5h-0.5zM221.6 268.8h0.5v0.5h-0.5zM223.1 268.8h0.5v0.5h-0.5zM224.1 268.8h8.5v0.5h-8.5zM233.1 268.8h2.0v0.5h-2.0zM236.1 268.8h0.5v0.5h-0.5zM237.6 268.8h0.5v0.5h-0.5zM221.1 269.3h0.5v0.5h-0.5zM222.6 269.3h0.5v0.5h-0.5zM224.1 269.3h1.5v0.5h-1.5zM226.1 269.3h8.5v0.5h-8.5zM235.1 269.3h0.5v0.5h-0.5zM236.1 269.3h1.0v0.5h-1.0zM214.1 269.8h0.5v0.5h-0.5zM216.1 269.8h0.5v0.5h-0.5zM220.1 269.8h0.5v0.5h-0.5zM221.1 269.8h0.5v0.5h-0.5zM224.6 269.8h2.0v0.5h-2.0zM227.1 269.8h1.0v0.5h-1.0zM228.6 269.8h0.5v0.5h-0.5zM229.6 269.8h5.0v0.5h-5.0zM235.1 269.8h0.5v0.5h-0.5zM236.1 269.8h1.0v0.5h-1.0zM212.1 270.3h0.5v0.5h-0.5zM213.1 270.3h0.5v0.5h-0.5zM216.1 270.3h0.5v0.5h-0.5zM218.6 270.3h0.5v0.5h-0.5zM222.1 270.3h0.5v0.5h-0.5zM223.1 270.3h9.5v0.5h-9.5zM233.6 270.3h0.5v0.5h-0.5zM234.6 270.3h1.0v0.5h-1.0zM236.1 270.3h1.5v0.5h-1.5zM218.6 270.8h0.5v0.5h-0.5zM220.6 270.8h1.0v0.5h-1.0zM222.6 270.8h1.0v0.5h-1.0zM226.1 270.8h1.5v0.5h-1.5zM228.1 270.8h6.5v0.5h-6.5zM235.6 270.8h1.5v0.5h-1.5zM211.6 271.3h0.5v0.5h-0.5zM218.6 271.3h1.5v0.5h-1.5zM220.6 271.3h0.5v0.5h-0.5zM221.6 271.3h3.5v0.5h-3.5zM226.1 271.3h7.5v0.5h-7.5zM234.1 271.3h1.0v0.5h-1.0zM236.1 271.3h1.5v0.5h-1.5zM214.1 271.8h0.5v0.5h-0.5zM216.1 271.8h0.5v0.5h-0.5zM217.6 271.8h0.5v0.5h-0.5zM218.6 271.8h0.5v0.5h-0.5zM220.6 271.8h0.5v0.5h-0.5zM222.1 271.8h2.5v0.5h-2.5zM225.6 271.8h1.0v0.5h-1.0zM227.1 271.8h6.0v0.5h-6.0zM233.6 271.8h1.0v0.5h-1.0zM235.1 271.8h2.0v0.5h-2.0zM238.6 271.8h0.5v0.5h-0.5zM210.6 272.3h0.5v0.5h-0.5zM217.1 272.3h0.5v0.5h-0.5zM220.1 272.3h0.5v0.5h-0.5zM222.6 272.3h0.5v0.5h-0.5zM225.6 272.3h0.5v0.5h-0.5zM226.6 272.3h7.5v0.5h-7.5zM210.6 272.8h0.5v0.5h-0.5zM216.6 272.8h0.5v0.5h-0.5zM219.1 272.8h0.5v0.5h-0.5zM220.6 272.8h0.5v0.5h-0.5zM223.6 272.8h0.5v0.5h-0.5zM225.1 272.8h1.0v0.5h-1.0zM227.1 272.8h5.5v0.5h-5.5zM233.1 272.8h2.0v0.5h-2.0zM237.1 272.8h0.5v0.5h-0.5zM204.1 273.3h0.5v0.5h-0.5zM207.6 273.3h0.5v0.5h-0.5zM220.1 273.3h1.0v0.5h-1.0zM221.6 273.3h0.5v0.5h-0.5zM225.1 273.3h0.5v0.5h-0.5zM226.1 273.3h6.5v0.5h-6.5zM233.1 273.3h0.5v0.5h-0.5zM235.1 273.3h0.5v0.5h-0.5zM210.1 273.8h0.5v0.5h-0.5zM212.1 273.8h0.5v0.5h-0.5zM213.6 273.8h1.0v0.5h-1.0zM219.6 273.8h0.5v0.5h-0.5zM221.1 273.8h1.5v0.5h-1.5zM223.1 273.8h2.0v0.5h-2.0zM225.6 273.8h1.0v0.5h-1.0zM227.1 273.8h5.5v0.5h-5.5zM233.1 273.8h1.0v0.5h-1.0zM234.6 273.8h0.5v0.5h-0.5zM203.6 274.3h0.5v0.5h-0.5zM212.6 274.3h1.0v0.5h-1.0zM216.6 274.3h0.5v0.5h-0.5zM218.1 274.3h0.5v0.5h-0.5zM220.6 274.3h1.5v0.5h-1.5zM222.6 274.3h0.5v0.5h-0.5zM223.6 274.3h0.5v0.5h-0.5zM226.1 274.3h0.5v0.5h-0.5zM227.1 274.3h4.5v0.5h-4.5zM232.1 274.3h0.5v0.5h-0.5zM233.6 274.3h0.5v0.5h-0.5zM234.6 274.3h0.5v0.5h-0.5zM206.1 274.8h0.5v0.5h-0.5zM208.6 274.8h0.5v0.5h-0.5zM211.1 274.8h0.5v0.5h-0.5zM215.1 274.8h0.5v0.5h-0.5zM217.1 274.8h1.0v0.5h-1.0zM219.1 274.8h2.0v0.5h-2.0zM222.1 274.8h2.0v0.5h-2.0zM224.6 274.8h0.5v0.5h-0.5zM225.6 274.8h7.0v0.5h-7.0zM234.1 274.8h0.5v0.5h-0.5zM236.1 274.8h0.5v0.5h-0.5zM209.6 275.3h0.5v0.5h-0.5zM211.1 275.3h1.5v0.5h-1.5zM214.6 275.3h0.5v0.5h-0.5zM216.1 275.3h0.5v0.5h-0.5zM222.1 275.3h1.0v0.5h-1.0zM224.1 275.3h7.5v0.5h-7.5zM232.1 275.3h1.0v0.5h-1.0zM233.6 275.3h0.5v0.5h-0.5zM234.6 275.3h0.5v0.5h-0.5zM235.6 275.3h1.0v0.5h-1.0zM204.1 275.8h0.5v0.5h-0.5zM205.1 275.8h0.5v0.5h-0.5zM206.6 275.8h0.5v0.5h-0.5zM211.6 275.8h1.0v0.5h-1.0zM213.1 275.8h0.5v0.5h-0.5zM216.6 275.8h0.5v0.5h-0.5zM223.6 275.8h2.5v0.5h-2.5zM226.6 275.8h3.5v0.5h-3.5zM232.1 275.8h0.5v0.5h-0.5zM234.1 275.8h0.5v0.5h-0.5zM236.1 275.8h0.5v0.5h-0.5zM207.1 276.3h0.5v0.5h-0.5zM211.1 276.3h0.5v0.5h-0.5zM212.6 276.3h0.5v0.5h-0.5zM216.6 276.3h0.5v0.5h-0.5zM219.6 276.3h0.5v0.5h-0.5zM221.6 276.3h0.5v0.5h-0.5zM222.6 276.3h0.5v0.5h-0.5zM223.6 276.3h1.0v0.5h-1.0zM225.1 276.3h4.0v0.5h-4.0zM229.6 276.3h1.0v0.5h-1.0zM231.1 276.3h2.0v0.5h-2.0zM204.1 276.8h0.5v0.5h-0.5zM208.6 276.8h0.5v0.5h-0.5zM211.1 276.8h0.5v0.5h-0.5zM213.6 276.8h0.5v0.5h-0.5zM220.6 276.8h0.5v0.5h-0.5zM222.1 276.8h0.5v0.5h-0.5zM223.1 276.8h1.0v0.5h-1.0zM224.6 276.8h1.0v0.5h-1.0zM227.1 276.8h2.0v0.5h-2.0zM229.6 276.8h1.0v0.5h-1.0zM201.6 277.3h0.5v0.5h-0.5zM206.1 277.3h0.5v0.5h-0.5zM213.6 277.3h0.5v0.5h-0.5zM215.6 277.3h0.5v0.5h-0.5zM217.1 277.3h0.5v0.5h-0.5zM221.1 277.3h0.5v0.5h-0.5zM223.1 277.3h0.5v0.5h-0.5zM224.1 277.3h0.5v0.5h-0.5zM225.6 277.3h0.5v0.5h-0.5zM226.6 277.3h4.0v0.5h-4.0zM232.6 277.3h0.5v0.5h-0.5zM204.1 277.8h0.5v0.5h-0.5zM207.1 277.8h0.5v0.5h-0.5zM208.1 277.8h0.5v0.5h-0.5zM213.1 277.8h0.5v0.5h-0.5zM221.6 277.8h0.5v0.5h-0.5zM223.1 277.8h0.5v0.5h-0.5zM224.1 277.8h0.5v0.5h-0.5zM225.1 277.8h2.5v0.5h-2.5zM228.1 277.8h0.5v0.5h-0.5zM229.1 277.8h2.0v0.5h-2.0zM205.6 278.3h0.5v0.5h-0.5zM210.1 278.3h1.0v0.5h-1.0zM218.6 278.3h0.5v0.5h-0.5zM219.6 278.3h1.0v0.5h-1.0zM223.1 278.3h0.5v0.5h-0.5zM224.6 278.3h0.5v0.5h-0.5zM225.6 278.3h1.5v0.5h-1.5zM227.6 278.3h1.0v0.5h-1.0zM229.6 278.3h1.0v0.5h-1.0zM231.6 278.3h0.5v0.5h-0.5zM210.1 278.8h0.5v0.5h-0.5zM211.6 278.8h1.0v0.5h-1.0zM213.6 278.8h0.5v0.5h-0.5zM220.1 278.8h0.5v0.5h-0.5zM221.6 278.8h1.0v0.5h-1.0zM223.1 278.8h0.5v0.5h-0.5zM224.1 278.8h0.5v0.5h-0.5zM226.1 278.8h1.5v0.5h-1.5zM228.1 278.8h0.5v0.5h-0.5zM229.1 278.8h0.5v0.5h-0.5zM210.1 279.3h0.5v0.5h-0.5zM220.6 279.3h0.5v0.5h-0.5zM227.6 279.3h0.5v0.5h-0.5zM206.1 279.8h0.5v0.5h-0.5zM211.1 279.8h1.0v0.5h-1.0zM223.6 279.8h1.5v0.5h-1.5zM225.6 279.8h0.5v0.5h-0.5zM234.1 279.8h0.5v0.5h-0.5zM209.6 280.3h0.5v0.5h-0.5zM214.1 280.3h0.5v0.5h-0.5zM220.6 280.3h0.5v0.5h-0.5zM225.6 280.3h0.5v0.5h-0.5zM235.6 280.3h0.5v0.5h-0.5zM212.1 280.8h0.5v0.5h-0.5zM213.6 280.8h0.5v0.5h-0.5zM222.1 280.8h0.5v0.5h-0.5zM223.1 280.8h0.5v0.5h-0.5zM224.1 280.8h2.0v0.5h-2.0zM227.1 280.8h1.0v0.5h-1.0zM231.6 280.8h0.5v0.5h-0.5zM232.6 280.8h0.5v0.5h-0.5zM234.6 280.8h0.5v0.5h-0.5zM235.6 280.8h0.5v0.5h-0.5zM210.1 281.3h0.5v0.5h-0.5zM212.1 281.3h0.5v0.5h-0.5zM214.6 281.3h0.5v0.5h-0.5zM220.6 281.3h0.5v0.5h-0.5zM222.6 281.3h1.0v0.5h-1.0zM225.1 281.3h1.0v0.5h-1.0zM227.1 281.3h0.5v0.5h-0.5zM229.1 281.3h0.5v0.5h-0.5zM231.6 281.3h0.5v0.5h-0.5zM232.6 281.3h2.0v0.5h-2.0zM237.6 281.3h0.5v0.5h-0.5zM210.1 281.8h0.5v0.5h-0.5zM222.1 281.8h0.5v0.5h-0.5zM223.1 281.8h0.5v0.5h-0.5zM227.6 281.8h0.5v0.5h-0.5zM228.6 281.8h0.5v0.5h-0.5zM230.1 281.8h0.5v0.5h-0.5zM231.1 281.8h1.5v0.5h-1.5zM233.6 281.8h1.5v0.5h-1.5zM235.6 281.8h0.5v0.5h-0.5zM203.1 282.3h0.5v0.5h-0.5zM224.1 282.3h1.0v0.5h-1.0zM225.6 282.3h1.0v0.5h-1.0zM227.1 282.3h0.5v0.5h-0.5zM228.1 282.3h0.5v0.5h-0.5zM229.6 282.3h1.5v0.5h-1.5zM232.1 282.3h1.0v0.5h-1.0zM234.1 282.3h0.5v0.5h-0.5zM235.6 282.3h0.5v0.5h-0.5zM223.1 282.8h0.5v0.5h-0.5zM228.6 282.8h1.0v0.5h-1.0zM230.1 282.8h2.0v0.5h-2.0zM232.6 282.8h1.0v0.5h-1.0zM234.6 282.8h0.5v0.5h-0.5zM235.6 282.8h0.5v0.5h-0.5zM237.1 282.8h0.5v0.5h-0.5zM215.6 283.3h0.5v0.5h-0.5zM226.6 283.3h1.5v0.5h-1.5zM229.1 283.3h0.5v0.5h-0.5zM230.1 283.3h1.5v0.5h-1.5zM232.1 283.3h4.0v0.5h-4.0zM236.6 283.3h0.5v0.5h-0.5zM223.1 283.8h1.0v0.5h-1.0zM224.6 283.8h0.5v0.5h-0.5zM226.1 283.8h0.5v0.5h-0.5zM227.1 283.8h0.5v0.5h-0.5zM228.6 283.8h0.5v0.5h-0.5zM229.6 283.8h4.0v0.5h-4.0zM234.1 283.8h3.0v0.5h-3.0zM237.6 283.8h0.5v0.5h-0.5zM220.1 284.3h0.5v0.5h-0.5zM222.6 284.3h0.5v0.5h-0.5zM225.6 284.3h0.5v0.5h-0.5zM227.1 284.3h0.5v0.5h-0.5zM228.1 284.3h8.5v0.5h-8.5zM237.6 284.3h1.0v0.5h-1.0zM220.6 284.8h1.0v0.5h-1.0zM223.1 284.8h1.0v0.5h-1.0zM224.6 284.8h0.5v0.5h-0.5zM226.6 284.8h2.0v0.5h-2.0zM229.1 284.8h7.5v0.5h-7.5zM237.1 284.8h0.5v0.5h-0.5zM206.6 285.3h0.5v0.5h-0.5zM220.1 285.3h0.5v0.5h-0.5zM224.1 285.3h0.5v0.5h-0.5zM226.1 285.3h1.0v0.5h-1.0zM227.6 285.3h11.5v0.5h-11.5zM210.6 285.8h0.5v0.5h-0.5zM211.6 285.8h0.5v0.5h-0.5zM216.6 285.8h0.5v0.5h-0.5zM218.6 285.8h1.0v0.5h-1.0zM222.6 285.8h0.5v0.5h-0.5zM224.1 285.8h0.5v0.5h-0.5zM226.1 285.8h1.5v0.5h-1.5zM228.1 285.8h0.5v0.5h-0.5zM229.6 285.8h8.5v0.5h-8.5zM238.6 285.8h0.5v0.5h-0.5zM209.6 286.3h0.5v0.5h-0.5zM220.6 286.3h0.5v0.5h-0.5zM223.1 286.3h1.0v0.5h-1.0zM225.6 286.3h12.0v0.5h-12.0zM210.6 286.8h0.5v0.5h-0.5zM218.1 286.8h0.5v0.5h-0.5zM219.1 286.8h0.5v0.5h-0.5zM221.1 286.8h0.5v0.5h-0.5zM222.6 286.8h1.5v0.5h-1.5zM224.6 286.8h1.5v0.5h-1.5zM226.6 286.8h11.5v0.5h-11.5zM206.1 287.3h0.5v0.5h-0.5zM207.1 287.3h0.5v0.5h-0.5zM214.6 287.3h0.5v0.5h-0.5zM217.6 287.3h0.5v0.5h-0.5zM219.1 287.3h0.5v0.5h-0.5zM221.1 287.3h1.0v0.5h-1.0zM222.6 287.3h0.5v0.5h-0.5zM223.6 287.3h1.0v0.5h-1.0zM225.1 287.3h12.0v0.5h-12.0zM237.6 287.3h0.5v0.5h-0.5zM199.6 287.8h0.5v0.5h-0.5zM203.6 287.8h1.0v0.5h-1.0zM205.6 287.8h0.5v0.5h-0.5zM211.6 287.8h1.5v0.5h-1.5zM213.6 287.8h1.0v0.5h-1.0zM218.1 287.8h1.5v0.5h-1.5zM221.1 287.8h2.5v0.5h-2.5zM224.1 287.8h14.5v0.5h-14.5zM206.6 288.3h0.5v0.5h-0.5zM208.1 288.3h0.5v0.5h-0.5zM210.1 288.3h1.5v0.5h-1.5zM212.6 288.3h1.0v0.5h-1.0zM214.6 288.3h1.5v0.5h-1.5zM216.6 288.3h0.5v0.5h-0.5zM219.6 288.3h0.5v0.5h-0.5zM220.6 288.3h4.0v0.5h-4.0zM225.1 288.3h12.5v0.5h-12.5zM207.6 288.8h0.5v0.5h-0.5zM209.1 288.8h0.5v0.5h-0.5zM210.1 288.8h0.5v0.5h-0.5zM211.1 288.8h0.5v0.5h-0.5zM212.6 288.8h0.5v0.5h-0.5zM213.6 288.8h1.5v0.5h-1.5zM215.6 288.8h0.5v0.5h-0.5zM217.1 288.8h1.5v0.5h-1.5zM219.6 288.8h17.0v0.5h-17.0zM237.1 288.8h1.0v0.5h-1.0zM238.6 288.8h0.5v0.5h-0.5zM199.1 289.3h0.5v0.5h-0.5zM201.1 289.3h0.5v0.5h-0.5zM204.1 289.3h0.5v0.5h-0.5zM205.6 289.3h0.5v0.5h-0.5zM208.1 289.3h0.5v0.5h-0.5zM209.1 289.3h0.5v0.5h-0.5zM210.1 289.3h1.5v0.5h-1.5zM212.1 289.3h0.5v0.5h-0.5zM213.1 289.3h1.0v0.5h-1.0zM215.6 289.3h0.5v0.5h-0.5zM217.1 289.3h0.5v0.5h-0.5zM218.6 289.3h2.0v0.5h-2.0zM221.1 289.3h16.5v0.5h-16.5zM202.6 289.8h0.5v0.5h-0.5zM206.1 289.8h0.5v0.5h-0.5zM207.6 289.8h1.5v0.5h-1.5zM209.6 289.8h0.5v0.5h-0.5zM210.6 289.8h1.5v0.5h-1.5zM212.6 289.8h4.0v0.5h-4.0zM217.1 289.8h2.0v0.5h-2.0zM220.6 289.8h16.0v0.5h-16.0zM237.1 289.8h0.5v0.5h-0.5zM238.6 289.8h0.5v0.5h-0.5zM200.1 290.3h0.5v0.5h-0.5zM205.1 290.3h0.5v0.5h-0.5zM206.1 290.3h1.5v0.5h-1.5zM208.1 290.3h1.0v0.5h-1.0zM209.6 290.3h5.5v0.5h-5.5zM215.6 290.3h0.5v0.5h-0.5zM216.6 290.3h0.5v0.5h-0.5zM218.1 290.3h1.5v0.5h-1.5zM220.1 290.3h18.0v0.5h-18.0zM201.6 290.8h0.5v0.5h-0.5zM203.6 290.8h0.5v0.5h-0.5zM205.1 290.8h1.5v0.5h-1.5zM207.1 290.8h0.5v0.5h-0.5zM208.1 290.8h6.5v0.5h-6.5zM215.1 290.8h1.0v0.5h-1.0zM216.6 290.8h1.5v0.5h-1.5zM219.6 290.8h1.0v0.5h-1.0zM221.6 290.8h16.0v0.5h-16.0zM238.1 290.8h0.5v0.5h-0.5zM201.1 291.3h0.5v0.5h-0.5zM202.6 291.3h0.5v0.5h-0.5zM203.6 291.3h0.5v0.5h-0.5zM204.6 291.3h0.5v0.5h-0.5zM205.6 291.3h9.5v0.5h-9.5zM215.6 291.3h1.5v0.5h-1.5zM217.6 291.3h2.0v0.5h-2.0zM220.1 291.3h1.0v0.5h-1.0zM221.6 291.3h15.5v0.5h-15.5zM237.6 291.3h0.5v0.5h-0.5zM239.1 291.3h0.5v0.5h-0.5zM203.6 291.8h0.5v0.5h-0.5zM205.1 291.8h9.5v0.5h-9.5zM215.1 291.8h0.5v0.5h-0.5zM218.6 291.8h2.0v0.5h-2.0zM221.1 291.8h16.5v0.5h-16.5zM239.6 291.8h0.5v0.5h-0.5zM197.6 292.3h0.5v0.5h-0.5zM200.6 292.3h0.5v0.5h-0.5zM201.6 292.3h0.5v0.5h-0.5zM202.6 292.3h1.5v0.5h-1.5zM205.6 292.3h32.5v0.5h-32.5zM197.6 292.8h0.5v0.5h-0.5zM199.6 292.8h0.5v0.5h-0.5zM201.6 292.8h1.0v0.5h-1.0zM203.1 292.8h1.5v0.5h-1.5zM205.6 292.8h5.5v0.5h-5.5zM211.6 292.8h4.5v0.5h-4.5zM216.6 292.8h0.5v0.5h-0.5zM217.6 292.8h0.5v0.5h-0.5zM218.6 292.8h18.0v0.5h-18.0zM237.1 292.8h0.5v0.5h-0.5zM197.6 293.3h0.5v0.5h-0.5zM199.6 293.3h0.5v0.5h-0.5zM203.1 293.3h1.5v0.5h-1.5zM205.1 293.3h0.5v0.5h-0.5zM206.1 293.3h31.5v0.5h-31.5zM238.1 293.3h1.5v0.5h-1.5zM195.6 293.8h1.0v0.5h-1.0zM200.6 293.8h0.5v0.5h-0.5zM202.6 293.8h3.0v0.5h-3.0zM206.1 293.8h13.0v0.5h-13.0zM219.6 293.8h18.5v0.5h-18.5zM201.6 294.3h0.5v0.5h-0.5zM202.6 294.3h1.0v0.5h-1.0zM204.6 294.3h0.5v0.5h-0.5zM205.6 294.3h5.5v0.5h-5.5zM211.6 294.3h5.0v0.5h-5.0zM217.1 294.3h3.5v0.5h-3.5zM221.1 294.3h17.0v0.5h-17.0zM199.6 294.8h0.5v0.5h-0.5zM201.6 294.8h0.5v0.5h-0.5zM202.6 294.8h0.5v0.5h-0.5zM203.6 294.8h15.5v0.5h-15.5zM220.1 294.8h17.5v0.5h-17.5zM197.1 295.3h0.5v0.5h-0.5zM199.6 295.3h0.5v0.5h-0.5zM200.6 295.3h0.5v0.5h-0.5zM201.6 295.3h1.5v0.5h-1.5zM203.6 295.3h33.5v0.5h-33.5zM237.6 295.3h0.5v0.5h-0.5zM239.1 295.3h0.5v0.5h-0.5zM200.6 295.8h0.5v0.5h-0.5zM201.6 295.8h1.5v0.5h-1.5zM203.6 295.8h9.5v0.5h-9.5zM213.6 295.8h5.5v0.5h-5.5zM219.6 295.8h1.0v0.5h-1.0zM221.1 295.8h17.0v0.5h-17.0zM238.6 295.8h0.5v0.5h-0.5zM198.6 296.3h0.5v0.5h-0.5zM199.6 296.3h0.5v0.5h-0.5zM200.6 296.3h0.5v0.5h-0.5zM201.6 296.3h1.5v0.5h-1.5zM203.6 296.3h34.0v0.5h-34.0zM201.6 296.8h1.5v0.5h-1.5zM203.6 296.8h34.5v0.5h-34.5zM238.6 296.8h0.5v0.5h-0.5zM198.6 297.3h0.5v0.5h-0.5zM202.1 297.3h1.0v0.5h-1.0zM204.1 297.3h15.0v0.5h-15.0zM219.6 297.3h19.5v0.5h-19.5zM198.1 297.8h0.5v0.5h-0.5zM199.6 297.8h1.0v0.5h-1.0zM202.6 297.8h2.0v0.5h-2.0zM205.1 297.8h0.5v0.5h-0.5zM206.1 297.8h4.5v0.5h-4.5zM211.1 297.8h8.0v0.5h-8.0zM219.6 297.8h18.5v0.5h-18.5zM200.1 298.3h1.0v0.5h-1.0zM201.6 298.3h0.5v0.5h-0.5zM203.6 298.3h1.5v0.5h-1.5zM205.6 298.3h33.0v0.5h-33.0zM193.6 298.8h0.5v0.5h-0.5zM201.6 298.8h0.5v0.5h-0.5zM203.1 298.8h4.0v0.5h-4.0zM207.6 298.8h30.0v0.5h-30.0zM239.1 298.8h0.5v0.5h-0.5zM196.1 299.3h0.5v0.5h-0.5zM205.1 299.3h1.5v0.5h-1.5zM207.1 299.3h0.5v0.5h-0.5zM208.1 299.3h28.5v0.5h-28.5zM237.1 299.3h0.5v0.5h-0.5zM201.1 299.8h0.5v0.5h-0.5zM204.1 299.8h0.5v0.5h-0.5zM205.1 299.8h1.5v0.5h-1.5zM207.1 299.8h1.0v0.5h-1.0zM208.6 299.8h12.5v0.5h-12.5zM221.6 299.8h16.5v0.5h-16.5zM198.6 300.3h0.5v0.5h-0.5zM201.6 300.3h0.5v0.5h-0.5zM204.1 300.3h1.5v0.5h-1.5zM206.1 300.3h1.0v0.5h-1.0zM208.1 300.3h2.5v0.5h-2.5zM211.6 300.3h1.5v0.5h-1.5zM213.6 300.3h7.0v0.5h-7.0zM221.1 300.3h15.5v0.5h-15.5zM237.1 300.3h1.0v0.5h-1.0zM204.1 300.8h3.5v0.5h-3.5zM208.1 300.8h2.0v0.5h-2.0zM210.6 300.8h0.5v0.5h-0.5zM211.6 300.8h2.5v0.5h-2.5zM214.6 300.8h21.5v0.5h-21.5zM236.6 300.8h1.0v0.5h-1.0zM194.6 301.3h0.5v0.5h-0.5zM197.6 301.3h0.5v0.5h-0.5zM200.6 301.3h0.5v0.5h-0.5zM201.6 301.3h0.5v0.5h-0.5zM203.1 301.3h0.5v0.5h-0.5zM204.1 301.3h0.5v0.5h-0.5zM205.6 301.3h1.0v0.5h-1.0zM207.1 301.3h1.5v0.5h-1.5zM209.6 301.3h0.5v0.5h-0.5zM211.6 301.3h0.5v0.5h-0.5zM212.6 301.3h6.0v0.5h-6.0zM219.6 301.3h17.0v0.5h-17.0zM237.1 301.3h0.5v0.5h-0.5zM203.1 301.8h0.5v0.5h-0.5zM205.1 301.8h0.5v0.5h-0.5zM206.1 301.8h0.5v0.5h-0.5zM207.1 301.8h0.5v0.5h-0.5zM208.1 301.8h0.5v0.5h-0.5zM209.1 301.8h1.0v0.5h-1.0zM210.6 301.8h1.0v0.5h-1.0zM212.1 301.8h5.5v0.5h-5.5zM218.1 301.8h0.5v0.5h-0.5zM219.1 301.8h12.5v0.5h-12.5zM232.1 301.8h3.5v0.5h-3.5zM236.1 301.8h0.5v0.5h-0.5zM237.1 301.8h1.0v0.5h-1.0zM200.1 302.3h0.5v0.5h-0.5zM205.1 302.3h0.5v0.5h-0.5zM206.6 302.3h0.5v0.5h-0.5zM207.6 302.3h3.0v0.5h-3.0zM211.1 302.3h1.0v0.5h-1.0zM213.1 302.3h1.0v0.5h-1.0zM214.6 302.3h3.0v0.5h-3.0zM218.6 302.3h2.0v0.5h-2.0zM221.6 302.3h11.5v0.5h-11.5zM234.1 302.3h2.0v0.5h-2.0zM236.6 302.3h1.0v0.5h-1.0z" fill="#000" stroke="none"/>
<rect x="187.1" y="250.3" width="65.9" height="52.4" fill="none" stroke="#333" stroke-width="0.7"/>
<line x1="217.3" y1="250.3" x2="217.3" y2="302.7" stroke="#333" stroke-width="0.6"/>
<line x1="187.1" y1="281.5" x2="253.0" y2="281.5" stroke="#333" stroke-width="0.6"/>
<line x1="187.1" y1="302.7" x2="187.1" y2="303.7" stroke="#333" stroke-width="0.6"/>
<line x1="183.6" y1="301.9" x2="184.79999999999998" y2="301.9" stroke="#222" stroke-width="0.7"/>
<text x="188.1" y="307.3" font-size="3.8" text-anchor="middle" fill="#111" font-weight="bold">10<tspan font-size="2.4" dy="-1">0</tspan></text>
<text x="185.9" y="305.0" font-size="3.8" text-anchor="end" fill="#111" font-weight="bold">10<tspan font-size="2.4" dy="-1">0</tspan></text>
<line x1="203.575" y1="302.7" x2="203.575" y2="303.7" stroke="#333" stroke-width="0.6"/>
<line x1="183.6" y1="288.8" x2="184.79999999999998" y2="288.8" stroke="#222" stroke-width="0.7"/>
<text x="204.6" y="307.3" font-size="3.8" text-anchor="middle" fill="#111" font-weight="bold">10<tspan font-size="2.4" dy="-1">1</tspan></text>
<text x="185.9" y="291.9" font-size="3.8" text-anchor="end" fill="#111" font-weight="bold">10<tspan font-size="2.4" dy="-1">1</tspan></text>
<line x1="220.05" y1="302.7" x2="220.05" y2="303.7" stroke="#333" stroke-width="0.6"/>
<line x1="183.6" y1="275.7" x2="184.79999999999998" y2="275.7" stroke="#222" stroke-width="0.7"/>
<text x="221.1" y="307.3" font-size="3.8" text-anchor="middle" fill="#111" font-weight="bold">10<tspan font-size="2.4" dy="-1">2</tspan></text>
<text x="185.9" y="278.8" font-size="3.8" text-anchor="end" fill="#111" font-weight="bold">10<tspan font-size="2.4" dy="-1">2</tspan></text>
<line x1="236.525" y1="302.7" x2="236.525" y2="303.7" stroke="#333" stroke-width="0.6"/>
<line x1="183.6" y1="262.59999999999997" x2="184.79999999999998" y2="262.59999999999997" stroke="#222" stroke-width="0.7"/>
<text x="237.5" y="307.3" font-size="3.8" text-anchor="middle" fill="#111" font-weight="bold">10<tspan font-size="2.4" dy="-1">3</tspan></text>
<text x="185.9" y="265.7" font-size="3.8" text-anchor="end" fill="#111" font-weight="bold">10<tspan font-size="2.4" dy="-1">3</tspan></text>
<line x1="253.0" y1="302.7" x2="253.0" y2="303.7" stroke="#333" stroke-width="0.6"/>
<line x1="183.6" y1="249.5" x2="184.79999999999998" y2="249.5" stroke="#222" stroke-width="0.7"/>
<text x="254.0" y="307.3" font-size="3.8" text-anchor="middle" fill="#111" font-weight="bold">10<tspan font-size="2.4" dy="-1">4</tspan></text>
<text x="185.9" y="252.6" font-size="3.8" text-anchor="end" fill="#111" font-weight="bold">10<tspan font-size="2.4" dy="-1">4</tspan></text>
<text x="252.2" y="258.5" font-size="9.4" text-anchor="end" font-weight="normal" >5%</text>
</g>
</svg>
</body></html>
